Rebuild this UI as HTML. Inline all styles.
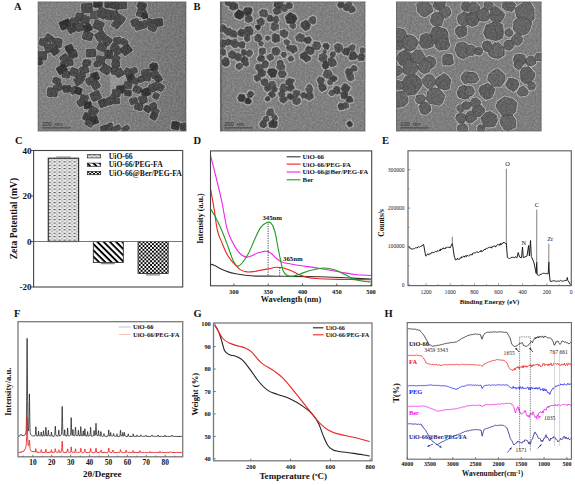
<!DOCTYPE html>
<html><head><meta charset="utf-8"><style>
html,body{margin:0;padding:0;background:#fff;}
body{width:575px;height:485px;overflow:hidden;}
svg{display:block;font-family:"Liberation Serif",serif;}
</style></head><body>
<svg width="575" height="485" viewBox="0 0 575 485">
<rect width="575" height="485" fill="#fff"/>
<text x="14.0" y="10.3" font-size="10.50" text-anchor="start" font-weight="bold" fill="#111" >A</text>
<text x="193.5" y="10.3" font-size="10.50" text-anchor="start" font-weight="bold" fill="#111" >B</text>
<text x="15.0" y="143.6" font-size="10.50" text-anchor="start" font-weight="bold" fill="#111" >C</text>
<text x="193.5" y="143.6" font-size="10.50" text-anchor="start" font-weight="bold" fill="#111" >D</text>
<text x="382.0" y="143.6" font-size="10.50" text-anchor="start" font-weight="bold" fill="#111" >E</text>
<text x="14.0" y="316.5" font-size="10.50" text-anchor="start" font-weight="bold" fill="#111" >F</text>
<text x="193.5" y="316.8" font-size="10.50" text-anchor="start" font-weight="bold" fill="#111" >G</text>
<text x="384.5" y="316.5" font-size="10.50" text-anchor="start" font-weight="bold" fill="#111" >H</text>
<defs><clipPath id="ca"><rect x="37.9" y="1.7" width="148.3" height="129.6"/></clipPath><clipPath id="cb"><rect x="220" y="1.7" width="145.3" height="129.6"/></clipPath><clipPath id="cc"><rect x="396" y="1.7" width="145.4" height="129.6"/></clipPath><filter id="bl" x="0" y="0" width="1" height="1"><feGaussianBlur stdDeviation="0.45"/></filter><filter id="nz" x="0" y="0" width="1" height="1" color-interpolation-filters="sRGB"><feTurbulence type="fractalNoise" baseFrequency="0.55" numOctaves="2" seed="3"/><feColorMatrix type="matrix" values="1 0 0 0 0  1 0 0 0 0  1 0 0 0 0  0 0 0 0 0.2"/></filter></defs>
<g clip-path="url(#ca)"><g filter="url(#bl)">
<linearGradient id="ga" x1="0" y1="0" x2="1" y2="0"><stop offset="0" stop-color="#828282"/><stop offset="0.5" stop-color="#7e7e7e"/><stop offset="1" stop-color="#727272"/></linearGradient>
<rect x="37.9" y="1.7" width="148.3" height="129.6" fill="url(#ga)"/>
<path d="M110 74 L128 77 L121 85 L110 95 Z" fill="#9a9a9a"/>
<g fill="#b6b6b6"><rect x="80.5" y="2.4" width="13.0" height="11.5" rx="1.8" transform="rotate(-3 87.0 8.2)"/><rect x="92.4" y="-0.4" width="11.0" height="9.1" rx="1.8" transform="rotate(4 97.9 4.1)"/><rect x="96.0" y="6.9" width="12.0" height="12.0" rx="1.8" transform="rotate(30 102.0 12.9)"/><rect x="89.5" y="10.0" width="10.0" height="10.0" rx="1.8" transform="rotate(-2 94.5 15.0)"/><rect x="103.7" y="-1.0" width="10.0" height="10.0" rx="1.8" transform="rotate(1 108.7 4.0)"/><rect x="104.4" y="9.0" width="10.0" height="12.0" rx="1.8" transform="rotate(6 109.4 15.0)"/><rect x="58.7" y="19.0" width="13.0" height="11.0" rx="1.8" transform="rotate(-22 65.2 24.5)"/><rect x="69.2" y="16.8" width="11.0" height="10.0" rx="1.8" transform="rotate(1 74.7 21.8)"/><rect x="74.5" y="12.0" width="10.0" height="10.0" rx="1.8" transform="rotate(9 79.5 17.0)"/><rect x="80.6" y="14.7" width="10.0" height="10.0" rx="1.8" transform="rotate(21 85.6 19.7)"/><rect x="66.5" y="23.6" width="11.0" height="10.0" rx="1.8" transform="rotate(-28 72.0 28.6)"/><rect x="75.2" y="22.2" width="10.0" height="10.0" rx="1.8" transform="rotate(-14 80.2 27.2)"/><rect x="82.7" y="22.9" width="10.0" height="10.0" rx="1.8" transform="rotate(-29 87.7 27.9)"/><rect x="92.5" y="19.7" width="12.0" height="11.0" rx="1.8" transform="rotate(22 98.5 25.2)"/><rect x="81.7" y="31.0" width="12.0" height="10.0" rx="1.8" transform="rotate(14 87.7 36.0)"/><rect x="94.6" y="30.5" width="12.0" height="11.0" rx="1.8" transform="rotate(-32 100.6 36.0)"/><rect x="102.4" y="35.8" width="10.0" height="10.0" rx="1.8" transform="rotate(34 107.4 40.8)"/><rect x="43.9" y="33.6" width="10.0" height="9.1" rx="1.8" transform="rotate(33 48.9 38.1)"/><rect x="38.4" y="37.7" width="10.0" height="9.1" rx="1.8" transform="rotate(11 43.4 42.2)"/><rect x="51.0" y="37.4" width="12.0" height="11.0" rx="1.8" transform="rotate(8 57.0 42.9)"/><rect x="43.9" y="43.3" width="10.0" height="10.0" rx="1.8" transform="rotate(-24 48.9 48.3)"/><rect x="50.0" y="46.5" width="10.0" height="9.1" rx="1.8" transform="rotate(-34 55.0 51.0)"/><rect x="36.6" y="50.3" width="11.0" height="11.0" rx="1.8" transform="rotate(2 42.1 55.8)"/><rect x="35.8" y="56.2" width="7.1" height="10.0" rx="1.8" transform="rotate(-31 39.4 61.2)"/><rect x="64.3" y="43.8" width="10.0" height="9.1" rx="1.8" transform="rotate(-22 69.3 48.3)"/><rect x="67.2" y="49.4" width="11.0" height="10.0" rx="1.8" transform="rotate(-18 72.7 54.4)"/><rect x="59.5" y="53.5" width="10.0" height="10.0" rx="1.8" transform="rotate(-33 64.5 58.5)"/><rect x="64.3" y="58.6" width="10.0" height="8.1" rx="1.8" transform="rotate(-3 69.3 62.6)"/><rect x="85.0" y="48.0" width="12.0" height="10.0" rx="1.8" transform="rotate(-4 91.0 53.0)"/><rect x="96.5" y="42.0" width="11.0" height="10.0" rx="1.8" transform="rotate(24 102.0 47.0)"/><rect x="103.7" y="48.9" width="10.0" height="11.0" rx="1.8" transform="rotate(1 108.7 54.4)"/><rect x="95.1" y="55.0" width="11.0" height="10.0" rx="1.8" transform="rotate(10 100.6 60.0)"/><rect x="82.0" y="58.6" width="10.0" height="8.1" rx="1.8" transform="rotate(-0 87.0 62.6)"/><rect x="111.1" y="0.4" width="10.0" height="10.0" rx="1.8" transform="rotate(11 116.1 5.4)"/><rect x="117.9" y="0.9" width="10.0" height="9.1" rx="1.8" transform="rotate(-3 122.9 5.4)"/><rect x="109.7" y="10.0" width="10.0" height="10.0" rx="1.8" transform="rotate(-16 114.7 15.0)"/><rect x="114.7" y="14.0" width="11.0" height="10.0" rx="1.8" transform="rotate(35 120.2 19.0)"/><rect x="111.1" y="20.0" width="10.0" height="9.1" rx="1.8" transform="rotate(35 116.1 24.5)"/><rect x="136.4" y="0.9" width="11.0" height="9.1" rx="1.8" transform="rotate(24 141.9 5.4)"/><rect x="135.8" y="7.9" width="11.0" height="10.0" rx="1.8" transform="rotate(15 141.3 12.9)"/><rect x="140.7" y="11.6" width="8.1" height="8.1" rx="1.8" transform="rotate(-13 144.7 15.6)"/><rect x="130.1" y="17.9" width="10.0" height="9.1" rx="1.8" transform="rotate(-19 135.1 22.4)"/><rect x="133.5" y="20.9" width="10.0" height="10.0" rx="1.8" transform="rotate(-15 138.5 25.9)"/><rect x="139.5" y="20.0" width="9.1" height="9.1" rx="1.8" transform="rotate(-30 144.0 24.5)"/><rect x="145.6" y="17.8" width="9.1" height="8.1" rx="1.8" transform="rotate(19 150.1 21.8)"/><rect x="152.8" y="17.4" width="11.0" height="10.0" rx="1.8" transform="rotate(-7 158.3 22.4)"/><rect x="147.8" y="22.2" width="10.0" height="10.0" rx="1.8" transform="rotate(24 152.8 27.2)"/><rect x="112.4" y="36.3" width="10.0" height="9.1" rx="1.8" transform="rotate(-8 117.4 40.8)"/><rect x="119.7" y="38.2" width="9.1" height="8.1" rx="1.8" transform="rotate(32 124.2 42.2)"/><rect x="109.7" y="43.1" width="10.0" height="9.1" rx="1.8" transform="rotate(24 114.7 47.6)"/><rect x="120.3" y="44.2" width="12.0" height="11.0" rx="1.8" transform="rotate(-35 126.3 49.7)"/><rect x="112.9" y="47.7" width="9.1" height="8.1" rx="1.8" transform="rotate(-20 117.4 51.7)"/><rect x="111.6" y="54.0" width="9.1" height="9.1" rx="1.8" transform="rotate(29 116.1 58.5)"/><rect x="111.6" y="60.0" width="9.1" height="8.1" rx="1.8" transform="rotate(-2 116.1 64.0)"/><rect x="149.7" y="62.4" width="9.1" height="7.1" rx="1.8" transform="rotate(34 154.2 66.0)"/><rect x="59.2" y="60.6" width="11.0" height="7.1" rx="1.8" transform="rotate(-7 64.7 64.2)"/><rect x="55.8" y="64.2" width="12.0" height="10.0" rx="1.8" transform="rotate(-30 61.8 69.2)"/><rect x="61.1" y="69.8" width="10.0" height="9.1" rx="1.8" transform="rotate(9 66.1 74.3)"/><rect x="69.1" y="67.1" width="10.0" height="10.0" rx="1.8" transform="rotate(19 74.1 72.1)"/><rect x="78.7" y="65.4" width="11.0" height="9.1" rx="1.8" transform="rotate(-16 84.2 69.9)"/><rect x="81.1" y="60.3" width="9.1" height="6.1" rx="1.8" transform="rotate(-29 85.6 63.4)"/><rect x="92.7" y="60.6" width="9.1" height="7.1" rx="1.8" transform="rotate(-12 97.2 64.2)"/><rect x="99.8" y="63.7" width="12.0" height="11.0" rx="1.8" transform="rotate(32 105.8 69.2)"/><rect x="76.3" y="71.9" width="10.0" height="9.1" rx="1.8" transform="rotate(18 81.3 76.4)"/><rect x="73.4" y="75.8" width="10.0" height="10.0" rx="1.8" transform="rotate(-27 78.4 80.8)"/><rect x="90.0" y="71.4" width="10.0" height="10.0" rx="1.8" transform="rotate(-18 95.0 76.4)"/><rect x="85.0" y="76.3" width="10.0" height="9.1" rx="1.8" transform="rotate(-28 90.0 80.8)"/><rect x="90.7" y="80.1" width="10.0" height="10.0" rx="1.8" transform="rotate(-31 95.7 85.1)"/><rect x="51.8" y="76.8" width="10.0" height="8.1" rx="1.8" transform="rotate(21 56.8 80.8)"/><rect x="52.7" y="82.8" width="11.0" height="9.1" rx="1.8" transform="rotate(-23 58.2 87.3)"/><rect x="46.4" y="86.8" width="12.0" height="11.0" rx="1.8" transform="rotate(4 52.4 92.3)"/><rect x="61.9" y="84.2" width="10.0" height="9.1" rx="1.8" transform="rotate(-4 66.9 88.7)"/><rect x="69.1" y="85.6" width="10.0" height="9.1" rx="1.8" transform="rotate(-22 74.1 90.1)"/><rect x="73.9" y="86.4" width="9.1" height="9.1" rx="1.8" transform="rotate(16 78.4 90.9)"/><rect x="89.7" y="90.4" width="12.0" height="11.0" rx="1.8" transform="rotate(-26 95.7 95.9)"/><rect x="79.2" y="93.8" width="10.0" height="10.0" rx="1.8" transform="rotate(10 84.2 98.8)"/><rect x="76.3" y="97.9" width="10.0" height="9.1" rx="1.8" transform="rotate(-27 81.3 102.4)"/><rect x="82.8" y="100.8" width="10.0" height="9.1" rx="1.8" transform="rotate(-6 87.8 105.3)"/><rect x="97.9" y="98.1" width="10.0" height="10.0" rx="1.8" transform="rotate(-20 102.9 103.1)"/><rect x="105.9" y="96.0" width="7.1" height="10.0" rx="1.8" transform="rotate(-16 109.4 101.0)"/><rect x="88.1" y="106.1" width="11.0" height="10.0" rx="1.8" transform="rotate(33 93.6 111.1)"/><rect x="82.1" y="111.8" width="10.0" height="10.0" rx="1.8" transform="rotate(21 87.1 116.8)"/><rect x="88.1" y="115.4" width="11.0" height="10.0" rx="1.8" transform="rotate(-14 93.6 120.4)"/><rect x="84.2" y="119.3" width="10.0" height="8.1" rx="1.8" transform="rotate(27 89.2 123.3)"/><rect x="99.4" y="124.4" width="10.0" height="8.1" rx="1.8" transform="rotate(-20 104.4 128.4)"/><rect x="106.7" y="121.9" width="7.1" height="10.0" rx="1.8" transform="rotate(-7 110.2 126.9)"/><rect x="110.6" y="60.2" width="10.0" height="8.1" rx="1.8" transform="rotate(25 115.6 64.2)"/><rect x="110.4" y="65.7" width="9.1" height="10.0" rx="1.8" transform="rotate(10 114.9 70.7)"/><rect x="114.2" y="67.8" width="10.0" height="10.0" rx="1.8" transform="rotate(-28 119.2 72.8)"/><rect x="122.9" y="67.6" width="10.0" height="9.1" rx="1.8" transform="rotate(34 127.9 72.1)"/><rect x="129.1" y="66.7" width="9.1" height="8.1" rx="1.8" transform="rotate(-20 133.6 70.7)"/><rect x="125.8" y="72.9" width="10.0" height="10.0" rx="1.8" transform="rotate(-17 130.8 77.9)"/><rect x="130.6" y="76.8" width="9.1" height="8.1" rx="1.8" transform="rotate(19 135.1 80.8)"/><rect x="140.4" y="68.3" width="11.0" height="9.1" rx="1.8" transform="rotate(-12 145.9 72.8)"/><rect x="148.8" y="62.5" width="10.0" height="9.1" rx="1.8" transform="rotate(-14 153.8 67.0)"/><rect x="149.6" y="69.8" width="10.0" height="9.1" rx="1.8" transform="rotate(-30 154.6 74.3)"/><rect x="153.7" y="74.1" width="9.1" height="9.1" rx="1.8" transform="rotate(-29 158.2 78.6)"/><rect x="141.6" y="73.9" width="10.0" height="8.1" rx="1.8" transform="rotate(6 146.6 77.9)"/><rect x="136.9" y="75.3" width="8.1" height="8.1" rx="1.8" transform="rotate(-18 140.9 79.3)"/><rect x="122.9" y="80.6" width="10.0" height="9.1" rx="1.8" transform="rotate(7 127.9 85.1)"/><rect x="115.7" y="84.4" width="10.0" height="10.0" rx="1.8" transform="rotate(-9 120.7 89.4)"/><rect x="111.3" y="88.0" width="10.0" height="10.0" rx="1.8" transform="rotate(-3 116.3 93.0)"/><rect x="108.7" y="93.1" width="8.1" height="10.0" rx="1.8" transform="rotate(32 112.7 98.1)"/><rect x="111.8" y="97.0" width="9.1" height="8.1" rx="1.8" transform="rotate(-1 116.3 101.0)"/><rect x="123.4" y="89.0" width="9.1" height="8.1" rx="1.8" transform="rotate(5 127.9 93.0)"/><rect x="132.3" y="84.9" width="10.0" height="9.1" rx="1.8" transform="rotate(26 137.3 89.4)"/><rect x="140.4" y="87.3" width="11.0" height="10.0" rx="1.8" transform="rotate(-22 145.9 92.3)"/><rect x="148.3" y="82.3" width="11.0" height="10.0" rx="1.8" transform="rotate(-24 153.8 87.3)"/><rect x="155.8" y="82.8" width="9.1" height="9.1" rx="1.8" transform="rotate(29 160.3 87.3)"/><rect x="152.0" y="91.9" width="8.1" height="8.1" rx="1.8" transform="rotate(22 156.0 95.9)"/><rect x="128.6" y="97.0" width="10.0" height="8.1" rx="1.8" transform="rotate(-18 133.6 101.0)"/><rect x="138.0" y="94.5" width="10.0" height="10.0" rx="1.8" transform="rotate(-22 143.0 99.5)"/><rect x="133.7" y="102.2" width="10.0" height="9.1" rx="1.8" transform="rotate(17 138.7 106.7)"/><rect x="142.9" y="104.9" width="9.1" height="8.1" rx="1.8" transform="rotate(31 147.4 108.9)"/><rect x="148.6" y="102.0" width="9.1" height="8.1" rx="1.8" transform="rotate(-21 153.1 106.0)"/><rect x="150.8" y="107.1" width="9.1" height="8.1" rx="1.8" transform="rotate(32 155.3 111.1)"/><rect x="149.3" y="111.6" width="9.1" height="9.1" rx="1.8" transform="rotate(27 153.8 116.1)"/><rect x="170.5" y="120.5" width="10.0" height="10.0" rx="1.8" transform="rotate(7 175.5 125.5)"/><rect x="179.4" y="121.9" width="8.1" height="10.0" rx="1.8" transform="rotate(-5 183.4 126.9)"/><rect x="110.8" y="124.9" width="11.0" height="7.1" rx="1.8" transform="rotate(-28 116.3 128.4)"/><rect x="120.7" y="125.1" width="10.0" height="7.1" rx="1.8" transform="rotate(-32 125.7 128.7)"/><rect x="36.6" y="60.8" width="4.2" height="5.1" rx="1.8" transform="rotate(32 38.7 63.4)"/></g>
<rect x="81.6" y="3.5" width="10.8" height="9.3" rx="1.2" fill="#3e3e3e" stroke="#2a2a2a" stroke-width="0.7" transform="rotate(-3 87.0 8.2)"/><rect x="93.5" y="0.7" width="8.8" height="6.9" rx="1.2" fill="#202020" stroke="#2a2a2a" stroke-width="0.7" transform="rotate(4 97.9 4.1)"/><rect x="97.1" y="8.0" width="9.8" height="9.8" rx="1.2" fill="#3e3e3e" stroke="#2a2a2a" stroke-width="0.7" transform="rotate(30 102.0 12.9)"/><rect x="90.6" y="11.1" width="7.8" height="7.8" rx="1.2" fill="#4a4a4a" stroke="#2a2a2a" stroke-width="0.7" transform="rotate(-2 94.5 15.0)"/><rect x="104.8" y="0.1" width="7.8" height="7.8" rx="1.2" fill="#303030" stroke="#2a2a2a" stroke-width="0.7" transform="rotate(1 108.7 4.0)"/><rect x="105.5" y="10.1" width="7.8" height="9.8" rx="1.2" fill="#3e3e3e" stroke="#2a2a2a" stroke-width="0.7" transform="rotate(6 109.4 15.0)"/><rect x="59.8" y="20.1" width="10.8" height="8.8" rx="1.2" fill="#202020" stroke="#2a2a2a" stroke-width="0.7" transform="rotate(-22 65.2 24.5)"/><rect x="70.3" y="17.9" width="8.8" height="7.8" rx="1.2" fill="#3e3e3e" stroke="#2a2a2a" stroke-width="0.7" transform="rotate(1 74.7 21.8)"/><rect x="75.6" y="13.1" width="7.8" height="7.8" rx="1.2" fill="#3e3e3e" stroke="#2a2a2a" stroke-width="0.7" transform="rotate(9 79.5 17.0)"/><rect x="81.7" y="15.8" width="7.8" height="7.8" rx="1.2" fill="#3e3e3e" stroke="#2a2a2a" stroke-width="0.7" transform="rotate(21 85.6 19.7)"/><rect x="67.6" y="24.7" width="8.8" height="7.8" rx="1.2" fill="#303030" stroke="#2a2a2a" stroke-width="0.7" transform="rotate(-28 72.0 28.6)"/><rect x="76.3" y="23.3" width="7.8" height="7.8" rx="1.2" fill="#3e3e3e" stroke="#2a2a2a" stroke-width="0.7" transform="rotate(-14 80.2 27.2)"/><rect x="83.8" y="24.0" width="7.8" height="7.8" rx="1.2" fill="#202020" stroke="#2a2a2a" stroke-width="0.7" transform="rotate(-29 87.7 27.9)"/><rect x="93.6" y="20.8" width="9.8" height="8.8" rx="1.2" fill="#3e3e3e" stroke="#2a2a2a" stroke-width="0.7" transform="rotate(22 98.5 25.2)"/><rect x="82.8" y="32.1" width="9.8" height="7.8" rx="1.2" fill="#3e3e3e" stroke="#2a2a2a" stroke-width="0.7" transform="rotate(14 87.7 36.0)"/><rect x="95.7" y="31.6" width="9.8" height="8.8" rx="1.2" fill="#3e3e3e" stroke="#2a2a2a" stroke-width="0.7" transform="rotate(-32 100.6 36.0)"/><rect x="103.5" y="36.9" width="7.8" height="7.8" rx="1.2" fill="#3e3e3e" stroke="#2a2a2a" stroke-width="0.7" transform="rotate(34 107.4 40.8)"/><rect x="45.0" y="34.7" width="7.8" height="6.9" rx="1.2" fill="#3e3e3e" stroke="#2a2a2a" stroke-width="0.7" transform="rotate(33 48.9 38.1)"/><rect x="39.5" y="38.8" width="7.8" height="6.9" rx="1.2" fill="#3e3e3e" stroke="#2a2a2a" stroke-width="0.7" transform="rotate(11 43.4 42.2)"/><rect x="52.1" y="38.5" width="9.8" height="8.8" rx="1.2" fill="#3e3e3e" stroke="#2a2a2a" stroke-width="0.7" transform="rotate(8 57.0 42.9)"/><rect x="45.0" y="44.4" width="7.8" height="7.8" rx="1.2" fill="#3e3e3e" stroke="#2a2a2a" stroke-width="0.7" transform="rotate(-24 48.9 48.3)"/><rect x="51.1" y="47.6" width="7.8" height="6.9" rx="1.2" fill="#303030" stroke="#2a2a2a" stroke-width="0.7" transform="rotate(-34 55.0 51.0)"/><rect x="37.7" y="51.4" width="8.8" height="8.8" rx="1.2" fill="#3e3e3e" stroke="#2a2a2a" stroke-width="0.7" transform="rotate(2 42.1 55.8)"/><rect x="36.9" y="57.3" width="4.9" height="7.8" rx="1.2" fill="#303030" stroke="#2a2a2a" stroke-width="0.7" transform="rotate(-31 39.4 61.2)"/><rect x="65.4" y="44.9" width="7.8" height="6.9" rx="1.2" fill="#202020" stroke="#2a2a2a" stroke-width="0.7" transform="rotate(-22 69.3 48.3)"/><rect x="68.3" y="50.5" width="8.8" height="7.8" rx="1.2" fill="#303030" stroke="#2a2a2a" stroke-width="0.7" transform="rotate(-18 72.7 54.4)"/><rect x="60.6" y="54.6" width="7.8" height="7.8" rx="1.2" fill="#3e3e3e" stroke="#2a2a2a" stroke-width="0.7" transform="rotate(-33 64.5 58.5)"/><rect x="65.4" y="59.7" width="7.8" height="5.9" rx="1.2" fill="#3e3e3e" stroke="#2a2a2a" stroke-width="0.7" transform="rotate(-3 69.3 62.6)"/><rect x="86.1" y="49.1" width="9.8" height="7.8" rx="1.2" fill="#3e3e3e" stroke="#2a2a2a" stroke-width="0.7" transform="rotate(-4 91.0 53.0)"/><rect x="97.6" y="43.1" width="8.8" height="7.8" rx="1.2" fill="#3e3e3e" stroke="#2a2a2a" stroke-width="0.7" transform="rotate(24 102.0 47.0)"/><rect x="104.8" y="50.0" width="7.8" height="8.8" rx="1.2" fill="#303030" stroke="#2a2a2a" stroke-width="0.7" transform="rotate(1 108.7 54.4)"/><rect x="96.2" y="56.1" width="8.8" height="7.8" rx="1.2" fill="#3e3e3e" stroke="#2a2a2a" stroke-width="0.7" transform="rotate(10 100.6 60.0)"/><rect x="83.1" y="59.7" width="7.8" height="5.9" rx="1.2" fill="#3e3e3e" stroke="#2a2a2a" stroke-width="0.7" transform="rotate(-0 87.0 62.6)"/><rect x="112.2" y="1.5" width="7.8" height="7.8" rx="1.2" fill="#303030" stroke="#2a2a2a" stroke-width="0.7" transform="rotate(11 116.1 5.4)"/><rect x="119.0" y="2.0" width="7.8" height="6.9" rx="1.2" fill="#3e3e3e" stroke="#2a2a2a" stroke-width="0.7" transform="rotate(-3 122.9 5.4)"/><rect x="110.8" y="11.1" width="7.8" height="7.8" rx="1.2" fill="#3e3e3e" stroke="#2a2a2a" stroke-width="0.7" transform="rotate(-16 114.7 15.0)"/><rect x="115.8" y="15.1" width="8.8" height="7.8" rx="1.2" fill="#3e3e3e" stroke="#2a2a2a" stroke-width="0.7" transform="rotate(35 120.2 19.0)"/><rect x="112.2" y="21.1" width="7.8" height="6.9" rx="1.2" fill="#3e3e3e" stroke="#2a2a2a" stroke-width="0.7" transform="rotate(35 116.1 24.5)"/><rect x="137.5" y="2.0" width="8.8" height="6.9" rx="1.2" fill="#303030" stroke="#2a2a2a" stroke-width="0.7" transform="rotate(24 141.9 5.4)"/><rect x="136.9" y="9.0" width="8.8" height="7.8" rx="1.2" fill="#3e3e3e" stroke="#2a2a2a" stroke-width="0.7" transform="rotate(15 141.3 12.9)"/><rect x="141.8" y="12.7" width="5.9" height="5.9" rx="1.2" fill="#202020" stroke="#2a2a2a" stroke-width="0.7" transform="rotate(-13 144.7 15.6)"/><rect x="131.2" y="19.0" width="7.8" height="6.9" rx="1.2" fill="#3e3e3e" stroke="#2a2a2a" stroke-width="0.7" transform="rotate(-19 135.1 22.4)"/><rect x="134.6" y="22.0" width="7.8" height="7.8" rx="1.2" fill="#3e3e3e" stroke="#2a2a2a" stroke-width="0.7" transform="rotate(-15 138.5 25.9)"/><rect x="140.6" y="21.1" width="6.9" height="6.9" rx="1.2" fill="#3e3e3e" stroke="#2a2a2a" stroke-width="0.7" transform="rotate(-30 144.0 24.5)"/><rect x="146.7" y="18.9" width="6.9" height="5.9" rx="1.2" fill="#3e3e3e" stroke="#2a2a2a" stroke-width="0.7" transform="rotate(19 150.1 21.8)"/><rect x="153.9" y="18.5" width="8.8" height="7.8" rx="1.2" fill="#303030" stroke="#2a2a2a" stroke-width="0.7" transform="rotate(-7 158.3 22.4)"/><rect x="148.9" y="23.3" width="7.8" height="7.8" rx="1.2" fill="#3e3e3e" stroke="#2a2a2a" stroke-width="0.7" transform="rotate(24 152.8 27.2)"/><rect x="113.5" y="37.4" width="7.8" height="6.9" rx="1.2" fill="#3e3e3e" stroke="#2a2a2a" stroke-width="0.7" transform="rotate(-8 117.4 40.8)"/><rect x="120.8" y="39.3" width="6.9" height="5.9" rx="1.2" fill="#3e3e3e" stroke="#2a2a2a" stroke-width="0.7" transform="rotate(32 124.2 42.2)"/><rect x="110.8" y="44.2" width="7.8" height="6.9" rx="1.2" fill="#3e3e3e" stroke="#2a2a2a" stroke-width="0.7" transform="rotate(24 114.7 47.6)"/><rect x="121.4" y="45.3" width="9.8" height="8.8" rx="1.2" fill="#303030" stroke="#2a2a2a" stroke-width="0.7" transform="rotate(-35 126.3 49.7)"/><rect x="114.0" y="48.8" width="6.9" height="5.9" rx="1.2" fill="#3e3e3e" stroke="#2a2a2a" stroke-width="0.7" transform="rotate(-20 117.4 51.7)"/><rect x="112.7" y="55.1" width="6.9" height="6.9" rx="1.2" fill="#3e3e3e" stroke="#2a2a2a" stroke-width="0.7" transform="rotate(29 116.1 58.5)"/><rect x="112.7" y="61.1" width="6.9" height="5.9" rx="1.2" fill="#3e3e3e" stroke="#2a2a2a" stroke-width="0.7" transform="rotate(-2 116.1 64.0)"/><rect x="150.8" y="63.5" width="6.9" height="4.9" rx="1.2" fill="#303030" stroke="#2a2a2a" stroke-width="0.7" transform="rotate(34 154.2 66.0)"/><rect x="60.3" y="61.8" width="8.8" height="4.9" rx="1.2" fill="#3e3e3e" stroke="#2a2a2a" stroke-width="0.7" transform="rotate(-7 64.7 64.2)"/><rect x="56.9" y="65.3" width="9.8" height="7.8" rx="1.2" fill="#202020" stroke="#2a2a2a" stroke-width="0.7" transform="rotate(-30 61.8 69.2)"/><rect x="62.2" y="70.9" width="7.8" height="6.9" rx="1.2" fill="#3e3e3e" stroke="#2a2a2a" stroke-width="0.7" transform="rotate(9 66.1 74.3)"/><rect x="70.2" y="68.2" width="7.8" height="7.8" rx="1.2" fill="#3e3e3e" stroke="#2a2a2a" stroke-width="0.7" transform="rotate(19 74.1 72.1)"/><rect x="79.8" y="66.5" width="8.8" height="6.9" rx="1.2" fill="#3e3e3e" stroke="#2a2a2a" stroke-width="0.7" transform="rotate(-16 84.2 69.9)"/><rect x="82.2" y="61.4" width="6.9" height="3.9" rx="1.2" fill="#3e3e3e" stroke="#2a2a2a" stroke-width="0.7" transform="rotate(-29 85.6 63.4)"/><rect x="93.8" y="61.8" width="6.9" height="4.9" rx="1.2" fill="#3e3e3e" stroke="#2a2a2a" stroke-width="0.7" transform="rotate(-12 97.2 64.2)"/><rect x="100.9" y="64.8" width="9.8" height="8.8" rx="1.2" fill="#3e3e3e" stroke="#2a2a2a" stroke-width="0.7" transform="rotate(32 105.8 69.2)"/><rect x="77.4" y="73.0" width="7.8" height="6.9" rx="1.2" fill="#3e3e3e" stroke="#2a2a2a" stroke-width="0.7" transform="rotate(18 81.3 76.4)"/><rect x="74.5" y="76.9" width="7.8" height="7.8" rx="1.2" fill="#3e3e3e" stroke="#2a2a2a" stroke-width="0.7" transform="rotate(-27 78.4 80.8)"/><rect x="91.1" y="72.5" width="7.8" height="7.8" rx="1.2" fill="#202020" stroke="#2a2a2a" stroke-width="0.7" transform="rotate(-18 95.0 76.4)"/><rect x="86.1" y="77.4" width="7.8" height="6.9" rx="1.2" fill="#3e3e3e" stroke="#2a2a2a" stroke-width="0.7" transform="rotate(-28 90.0 80.8)"/><rect x="91.8" y="81.2" width="7.8" height="7.8" rx="1.2" fill="#3e3e3e" stroke="#2a2a2a" stroke-width="0.7" transform="rotate(-31 95.7 85.1)"/><rect x="52.9" y="77.9" width="7.8" height="5.9" rx="1.2" fill="#3e3e3e" stroke="#2a2a2a" stroke-width="0.7" transform="rotate(21 56.8 80.8)"/><rect x="53.8" y="83.9" width="8.8" height="6.9" rx="1.2" fill="#3e3e3e" stroke="#2a2a2a" stroke-width="0.7" transform="rotate(-23 58.2 87.3)"/><rect x="47.5" y="87.9" width="9.8" height="8.8" rx="1.2" fill="#3e3e3e" stroke="#2a2a2a" stroke-width="0.7" transform="rotate(4 52.4 92.3)"/><rect x="63.0" y="85.3" width="7.8" height="6.9" rx="1.2" fill="#303030" stroke="#2a2a2a" stroke-width="0.7" transform="rotate(-4 66.9 88.7)"/><rect x="70.2" y="86.7" width="7.8" height="6.9" rx="1.2" fill="#3e3e3e" stroke="#2a2a2a" stroke-width="0.7" transform="rotate(-22 74.1 90.1)"/><rect x="75.0" y="87.5" width="6.9" height="6.9" rx="1.2" fill="#202020" stroke="#2a2a2a" stroke-width="0.7" transform="rotate(16 78.4 90.9)"/><rect x="90.8" y="91.5" width="9.8" height="8.8" rx="1.2" fill="#3e3e3e" stroke="#2a2a2a" stroke-width="0.7" transform="rotate(-26 95.7 95.9)"/><rect x="80.3" y="94.9" width="7.8" height="7.8" rx="1.2" fill="#3e3e3e" stroke="#2a2a2a" stroke-width="0.7" transform="rotate(10 84.2 98.8)"/><rect x="77.4" y="99.0" width="7.8" height="6.9" rx="1.2" fill="#3e3e3e" stroke="#2a2a2a" stroke-width="0.7" transform="rotate(-27 81.3 102.4)"/><rect x="83.9" y="101.9" width="7.8" height="6.9" rx="1.2" fill="#202020" stroke="#2a2a2a" stroke-width="0.7" transform="rotate(-6 87.8 105.3)"/><rect x="99.0" y="99.2" width="7.8" height="7.8" rx="1.2" fill="#303030" stroke="#2a2a2a" stroke-width="0.7" transform="rotate(-20 102.9 103.1)"/><rect x="107.0" y="97.1" width="4.9" height="7.8" rx="1.2" fill="#3e3e3e" stroke="#2a2a2a" stroke-width="0.7" transform="rotate(-16 109.4 101.0)"/><rect x="89.2" y="107.2" width="8.8" height="7.8" rx="1.2" fill="#3e3e3e" stroke="#2a2a2a" stroke-width="0.7" transform="rotate(33 93.6 111.1)"/><rect x="83.2" y="112.9" width="7.8" height="7.8" rx="1.2" fill="#303030" stroke="#2a2a2a" stroke-width="0.7" transform="rotate(21 87.1 116.8)"/><rect x="89.2" y="116.5" width="8.8" height="7.8" rx="1.2" fill="#202020" stroke="#2a2a2a" stroke-width="0.7" transform="rotate(-14 93.6 120.4)"/><rect x="85.3" y="120.4" width="7.8" height="5.9" rx="1.2" fill="#3e3e3e" stroke="#2a2a2a" stroke-width="0.7" transform="rotate(27 89.2 123.3)"/><rect x="100.5" y="125.5" width="7.8" height="5.9" rx="1.2" fill="#303030" stroke="#2a2a2a" stroke-width="0.7" transform="rotate(-20 104.4 128.4)"/><rect x="107.8" y="123.0" width="4.9" height="7.8" rx="1.2" fill="#3e3e3e" stroke="#2a2a2a" stroke-width="0.7" transform="rotate(-7 110.2 126.9)"/><rect x="111.7" y="61.3" width="7.8" height="5.9" rx="1.2" fill="#3e3e3e" stroke="#2a2a2a" stroke-width="0.7" transform="rotate(25 115.6 64.2)"/><rect x="111.5" y="66.8" width="6.9" height="7.8" rx="1.2" fill="#3e3e3e" stroke="#2a2a2a" stroke-width="0.7" transform="rotate(10 114.9 70.7)"/><rect x="115.3" y="68.9" width="7.8" height="7.8" rx="1.2" fill="#3e3e3e" stroke="#2a2a2a" stroke-width="0.7" transform="rotate(-28 119.2 72.8)"/><rect x="124.0" y="68.7" width="7.8" height="6.9" rx="1.2" fill="#3e3e3e" stroke="#2a2a2a" stroke-width="0.7" transform="rotate(34 127.9 72.1)"/><rect x="130.2" y="67.8" width="6.9" height="5.9" rx="1.2" fill="#3e3e3e" stroke="#2a2a2a" stroke-width="0.7" transform="rotate(-20 133.6 70.7)"/><rect x="126.9" y="74.0" width="7.8" height="7.8" rx="1.2" fill="#202020" stroke="#2a2a2a" stroke-width="0.7" transform="rotate(-17 130.8 77.9)"/><rect x="131.7" y="77.9" width="6.9" height="5.9" rx="1.2" fill="#3e3e3e" stroke="#2a2a2a" stroke-width="0.7" transform="rotate(19 135.1 80.8)"/><rect x="141.5" y="69.4" width="8.8" height="6.9" rx="1.2" fill="#3e3e3e" stroke="#2a2a2a" stroke-width="0.7" transform="rotate(-12 145.9 72.8)"/><rect x="149.9" y="63.6" width="7.8" height="6.9" rx="1.2" fill="#202020" stroke="#2a2a2a" stroke-width="0.7" transform="rotate(-14 153.8 67.0)"/><rect x="150.7" y="70.9" width="7.8" height="6.9" rx="1.2" fill="#3e3e3e" stroke="#2a2a2a" stroke-width="0.7" transform="rotate(-30 154.6 74.3)"/><rect x="154.8" y="75.2" width="6.9" height="6.9" rx="1.2" fill="#303030" stroke="#2a2a2a" stroke-width="0.7" transform="rotate(-29 158.2 78.6)"/><rect x="142.7" y="75.0" width="7.8" height="5.9" rx="1.2" fill="#3e3e3e" stroke="#2a2a2a" stroke-width="0.7" transform="rotate(6 146.6 77.9)"/><rect x="138.0" y="76.4" width="5.9" height="5.9" rx="1.2" fill="#3e3e3e" stroke="#2a2a2a" stroke-width="0.7" transform="rotate(-18 140.9 79.3)"/><rect x="124.0" y="81.7" width="7.8" height="6.9" rx="1.2" fill="#3e3e3e" stroke="#2a2a2a" stroke-width="0.7" transform="rotate(7 127.9 85.1)"/><rect x="116.8" y="85.5" width="7.8" height="7.8" rx="1.2" fill="#202020" stroke="#2a2a2a" stroke-width="0.7" transform="rotate(-9 120.7 89.4)"/><rect x="112.4" y="89.1" width="7.8" height="7.8" rx="1.2" fill="#3e3e3e" stroke="#2a2a2a" stroke-width="0.7" transform="rotate(-3 116.3 93.0)"/><rect x="109.8" y="94.2" width="5.9" height="7.8" rx="1.2" fill="#3e3e3e" stroke="#2a2a2a" stroke-width="0.7" transform="rotate(32 112.7 98.1)"/><rect x="112.9" y="98.1" width="6.9" height="5.9" rx="1.2" fill="#3e3e3e" stroke="#2a2a2a" stroke-width="0.7" transform="rotate(-1 116.3 101.0)"/><rect x="124.5" y="90.1" width="6.9" height="5.9" rx="1.2" fill="#303030" stroke="#2a2a2a" stroke-width="0.7" transform="rotate(5 127.9 93.0)"/><rect x="133.4" y="86.0" width="7.8" height="6.9" rx="1.2" fill="#3e3e3e" stroke="#2a2a2a" stroke-width="0.7" transform="rotate(26 137.3 89.4)"/><rect x="141.5" y="88.4" width="8.8" height="7.8" rx="1.2" fill="#202020" stroke="#2a2a2a" stroke-width="0.7" transform="rotate(-22 145.9 92.3)"/><rect x="149.4" y="83.4" width="8.8" height="7.8" rx="1.2" fill="#3e3e3e" stroke="#2a2a2a" stroke-width="0.7" transform="rotate(-24 153.8 87.3)"/><rect x="156.9" y="83.9" width="6.9" height="6.9" rx="1.2" fill="#3e3e3e" stroke="#2a2a2a" stroke-width="0.7" transform="rotate(29 160.3 87.3)"/><rect x="153.1" y="93.0" width="5.9" height="5.9" rx="1.2" fill="#3e3e3e" stroke="#2a2a2a" stroke-width="0.7" transform="rotate(22 156.0 95.9)"/><rect x="129.7" y="98.1" width="7.8" height="5.9" rx="1.2" fill="#3e3e3e" stroke="#2a2a2a" stroke-width="0.7" transform="rotate(-18 133.6 101.0)"/><rect x="139.1" y="95.6" width="7.8" height="7.8" rx="1.2" fill="#3e3e3e" stroke="#2a2a2a" stroke-width="0.7" transform="rotate(-22 143.0 99.5)"/><rect x="134.8" y="103.3" width="7.8" height="6.9" rx="1.2" fill="#3e3e3e" stroke="#2a2a2a" stroke-width="0.7" transform="rotate(17 138.7 106.7)"/><rect x="144.0" y="106.0" width="6.9" height="5.9" rx="1.2" fill="#303030" stroke="#2a2a2a" stroke-width="0.7" transform="rotate(31 147.4 108.9)"/><rect x="149.7" y="103.1" width="6.9" height="5.9" rx="1.2" fill="#3e3e3e" stroke="#2a2a2a" stroke-width="0.7" transform="rotate(-21 153.1 106.0)"/><rect x="151.9" y="108.2" width="6.9" height="5.9" rx="1.2" fill="#3e3e3e" stroke="#2a2a2a" stroke-width="0.7" transform="rotate(32 155.3 111.1)"/><rect x="150.4" y="112.7" width="6.9" height="6.9" rx="1.2" fill="#303030" stroke="#2a2a2a" stroke-width="0.7" transform="rotate(27 153.8 116.1)"/><rect x="171.6" y="121.6" width="7.8" height="7.8" rx="1.2" fill="#202020" stroke="#2a2a2a" stroke-width="0.7" transform="rotate(7 175.5 125.5)"/><rect x="180.5" y="123.0" width="5.9" height="7.8" rx="1.2" fill="#303030" stroke="#2a2a2a" stroke-width="0.7" transform="rotate(-5 183.4 126.9)"/><rect x="111.9" y="126.0" width="8.8" height="4.9" rx="1.2" fill="#3e3e3e" stroke="#2a2a2a" stroke-width="0.7" transform="rotate(-28 116.3 128.4)"/><rect x="121.8" y="126.2" width="7.8" height="4.9" rx="1.2" fill="#3e3e3e" stroke="#2a2a2a" stroke-width="0.7" transform="rotate(-32 125.7 128.7)"/><rect x="37.7" y="61.9" width="2.0" height="2.9" rx="1.2" fill="#202020" stroke="#2a2a2a" stroke-width="0.7" transform="rotate(32 38.7 63.4)"/>
</g></g>
<rect x="37.9" y="1.7" width="148.3" height="129.6" filter="url(#nz)"/>
<g clip-path="url(#cb)"><g filter="url(#bl)">
<rect x="220" y="1.7" width="145.3" height="129.6" fill="#808080"/>
<g fill="none" stroke="#bababa" stroke-width="2.8" stroke-linejoin="round"><path d="M233.0 1.5 L237.9 4.3 L238.1 8.4 L232.9 10.4 L229.6 8.8 L229.9 4.0Z"/><path d="M230.8 0.7 L231.5 4.1 L228.9 6.0 L225.1 4.7 L224.9 1.5 L229.0 -1.2Z"/><path d="M238.5 9.4 L243.8 11.9 L243.8 17.0 L240.1 19.6 L235.1 17.6 L234.2 14.0Z"/><path d="M252.5 10.6 L249.9 16.2 L245.0 15.5 L242.9 10.9 L245.1 7.6 L251.2 7.8Z"/><path d="M252.1 16.8 L252.5 21.0 L248.2 22.8 L245.4 21.2 L245.1 17.2 L249.1 15.1Z"/><path d="M261.9 9.3 L266.7 10.1 L268.0 14.4 L265.8 17.2 L260.2 16.2 L259.0 12.1Z"/><path d="M261.7 25.7 L257.3 23.3 L256.7 20.1 L261.4 17.7 L264.7 20.6 L264.0 24.1Z"/><path d="M259.4 24.6 L260.9 26.2 L259.5 29.8 L257.6 30.2 L255.3 27.2 L255.4 25.2Z"/><path d="M273.4 20.9 L269.2 21.7 L266.8 19.6 L267.7 15.6 L271.3 15.0 L273.8 17.8Z"/><path d="M279.3 20.4 L277.3 22.7 L274.2 22.0 L272.7 18.3 L275.6 15.7 L277.8 16.4Z"/><path d="M278.6 29.0 L273.3 31.0 L270.7 28.8 L271.7 23.2 L276.0 21.9 L278.5 25.3Z"/><path d="M278.3 9.5 L273.6 6.0 L275.0 0.5 L280.2 -1.3 L283.3 1.0 L282.0 7.5Z"/><path d="M277.7 14.6 L274.3 14.1 L272.9 10.1 L275.6 7.2 L280.3 8.7 L281.3 12.5Z"/><path d="M287.2 10.7 L283.8 12.2 L279.5 8.4 L280.6 5.6 L284.0 4.0 L287.5 6.3Z"/><path d="M289.8 2.1 L292.7 4.6 L291.9 7.8 L289.4 9.2 L286.7 7.3 L286.5 3.1Z"/><path d="M290.0 12.3 L295.4 14.9 L297.3 18.5 L294.1 24.3 L286.8 23.2 L285.0 16.6Z"/><path d="M221.5 24.3 L225.0 25.3 L226.8 28.0 L225.1 32.0 L220.8 32.0 L218.7 29.5Z"/><path d="M232.2 30.5 L230.5 34.9 L226.8 35.4 L224.4 33.0 L225.1 28.0 L230.2 27.9Z"/><path d="M229.1 34.7 L232.0 29.9 L235.4 30.7 L237.4 33.8 L236.4 37.4 L231.1 36.9Z"/><path d="M242.0 36.7 L238.7 35.6 L237.5 31.9 L240.4 28.8 L244.5 29.9 L245.6 34.3Z"/><path d="M245.7 26.8 L250.4 26.0 L253.4 30.3 L252.6 34.6 L246.9 35.8 L243.3 31.3Z"/><path d="M249.9 35.8 L249.9 40.2 L246.6 42.0 L244.8 40.6 L244.2 36.3 L246.1 34.4Z"/><path d="M254.5 36.7 L257.3 33.8 L260.5 34.6 L262.4 39.0 L259.5 42.2 L255.0 40.7Z"/><path d="M262.5 41.6 L263.6 42.9 L262.2 46.1 L259.7 45.7 L258.5 44.1 L259.3 41.7Z"/><path d="M270.3 39.1 L267.5 40.8 L265.5 39.4 L265.6 36.6 L268.0 35.8 L270.3 37.2Z"/><path d="M272.3 40.9 L272.2 35.1 L274.6 33.3 L279.3 35.4 L279.9 41.1 L275.1 43.1Z"/><path d="M280.3 30.7 L285.0 29.6 L288.3 32.5 L287.2 36.5 L283.8 37.9 L279.8 34.4Z"/><path d="M284.4 43.8 L283.8 40.7 L286.8 39.3 L290.1 41.4 L288.7 44.3 L286.9 45.6Z"/><path d="M220.2 47.0 L218.6 43.4 L221.7 39.5 L225.4 40.1 L226.3 44.6 L224.6 47.5Z"/><path d="M224.6 43.5 L225.8 39.9 L228.4 38.7 L231.5 40.7 L231.1 44.4 L227.1 45.4Z"/><path d="M235.8 38.9 L239.3 43.5 L236.9 47.5 L233.5 47.7 L230.3 44.3 L231.0 40.4Z"/><path d="M241.2 48.5 L238.3 46.0 L238.6 42.7 L242.9 41.3 L245.1 43.0 L244.5 47.6Z"/><path d="M222.6 47.9 L225.8 50.6 L225.5 54.6 L223.4 55.7 L219.6 53.6 L220.3 49.4Z"/><path d="M235.5 57.6 L232.7 59.0 L228.6 56.8 L228.5 52.9 L231.9 50.1 L235.7 52.6Z"/><path d="M233.7 58.3 L234.1 54.9 L238.2 52.8 L242.0 55.7 L240.4 60.6 L237.6 61.0Z"/><path d="M244.6 49.6 L246.7 51.2 L246.1 54.7 L242.9 55.7 L241.2 53.8 L241.9 49.7Z"/><path d="M252.8 53.2 L250.4 56.6 L247.3 56.2 L246.0 53.0 L248.6 49.5 L251.9 50.7Z"/><path d="M223.2 64.8 L220.9 61.5 L224.4 57.3 L228.6 58.3 L229.4 62.4 L226.5 65.2Z"/><path d="M241.6 62.6 L240.9 59.4 L243.8 56.0 L246.8 57.2 L248.4 60.0 L246.1 62.8Z"/><path d="M259.2 49.1 L262.4 47.8 L265.2 48.5 L265.6 52.8 L262.6 54.9 L259.2 53.6Z"/><path d="M258.4 61.1 L257.1 58.7 L259.6 54.9 L264.0 56.1 L264.7 59.1 L262.5 61.7Z"/><path d="M268.7 63.1 L268.3 65.4 L265.3 66.6 L262.3 63.9 L263.9 60.9 L266.4 60.6Z"/><path d="M266.7 56.3 L270.6 53.7 L272.7 54.4 L273.8 58.7 L270.0 60.9 L267.5 58.8Z"/><path d="M274.3 55.3 L271.8 52.3 L272.9 48.1 L277.7 47.2 L280.5 51.0 L278.5 55.0Z"/><path d="M282.5 57.1 L281.0 54.0 L282.1 52.1 L285.8 52.3 L286.8 54.8 L285.2 57.7Z"/><path d="M291.9 45.4 L292.7 48.8 L290.5 50.7 L287.2 50.1 L286.4 47.4 L287.7 45.0Z"/><path d="M289.1 61.0 L287.9 57.9 L290.7 55.8 L292.6 56.4 L293.9 59.7 L292.0 61.2Z"/><path d="M283.3 63.0 L281.4 65.3 L278.3 65.4 L276.9 62.2 L278.8 59.9 L282.3 60.6Z"/><path d="M295.9 24.8 L295.3 28.0 L292.3 28.9 L289.5 26.4 L290.7 23.9 L293.6 23.0Z"/><path d="M310.6 24.3 L309.5 28.7 L305.2 30.9 L300.8 26.4 L301.0 22.9 L306.3 19.7Z"/><path d="M308.5 21.6 L309.4 17.9 L313.4 16.1 L315.8 17.7 L315.8 22.8 L313.2 24.5Z"/><path d="M344.8 5.5 L342.2 7.9 L339.5 8.3 L337.4 5.5 L339.0 1.4 L343.1 1.5Z"/><path d="M349.8 7.4 L347.6 11.2 L344.5 10.2 L342.8 7.2 L345.7 3.6 L348.3 4.5Z"/><path d="M350.7 13.1 L348.2 10.4 L349.1 7.3 L353.2 5.7 L355.7 9.5 L354.8 11.6Z"/><path d="M346.3 4.1 L347.4 0.5 L350.8 0.6 L352.0 3.5 L351.1 6.2 L347.5 6.4Z"/><path d="M296.5 40.6 L295.4 37.0 L299.0 33.1 L304.1 35.2 L305.0 39.5 L301.7 42.2Z"/><path d="M310.0 43.1 L307.0 43.8 L303.4 41.1 L304.5 37.9 L309.7 36.6 L311.6 39.8Z"/><path d="M296.5 46.7 L297.4 50.7 L293.2 53.5 L289.4 50.7 L290.2 46.6 L294.2 45.1Z"/><path d="M312.1 45.3 L314.6 41.4 L319.5 42.3 L321.0 46.1 L319.0 49.8 L313.9 49.5Z"/><path d="M305.1 49.2 L307.8 45.8 L313.8 48.0 L314.3 52.3 L311.6 55.0 L306.3 53.1Z"/><path d="M328.4 49.0 L325.2 49.5 L322.5 46.3 L324.2 43.2 L327.5 43.2 L329.6 45.7Z"/><path d="M299.9 54.6 L304.6 51.4 L307.3 53.6 L307.6 57.8 L304.0 59.7 L300.6 58.4Z"/><path d="M304.4 56.0 L307.2 54.7 L310.9 57.6 L310.5 60.1 L306.0 62.3 L303.5 59.9Z"/><path d="M326.8 51.6 L325.8 53.4 L323.5 53.2 L322.7 51.5 L323.9 49.8 L325.9 50.3Z"/><path d="M324.2 53.2 L327.3 55.7 L326.2 61.9 L322.1 62.2 L318.7 59.8 L319.6 54.4Z"/><path d="M328.0 63.6 L328.2 58.6 L331.3 57.1 L335.2 59.7 L335.7 62.3 L330.8 65.5Z"/><path d="M330.9 57.2 L329.9 54.1 L331.6 51.7 L334.8 51.7 L335.7 54.2 L334.0 57.3Z"/><path d="M335.3 51.3 L334.1 45.4 L338.0 43.3 L342.1 45.1 L343.1 49.5 L338.8 53.3Z"/><path d="M341.9 52.0 L344.9 47.8 L348.6 48.0 L350.3 51.2 L348.1 55.4 L344.0 54.7Z"/><path d="M348.8 46.6 L352.6 44.2 L355.3 45.7 L354.5 50.1 L352.4 51.1 L348.1 48.8Z"/><path d="M350.4 60.0 L348.7 57.5 L350.8 51.7 L355.0 51.8 L358.3 56.4 L355.6 59.6Z"/><path d="M365.2 55.7 L363.6 60.5 L359.3 60.9 L357.7 58.2 L359.3 53.9 L362.8 53.4Z"/><path d="M362.7 53.6 L360.2 52.3 L360.1 48.4 L362.0 47.4 L365.7 49.0 L365.7 51.3Z"/><path d="M323.0 65.5 L323.2 62.1 L326.1 60.8 L329.0 63.3 L327.9 66.2 L324.5 66.5Z"/><path d="M225.1 66.7 L221.8 64.0 L222.6 61.8 L226.9 60.0 L229.4 62.9 L228.9 65.3Z"/><path d="M242.4 64.1 L242.9 67.1 L239.1 70.0 L235.9 67.5 L236.2 64.5 L239.8 63.0Z"/><path d="M246.4 66.7 L243.1 64.9 L243.0 62.5 L245.3 60.3 L248.3 61.8 L248.9 64.9Z"/><path d="M255.0 68.3 L256.0 64.8 L260.4 63.9 L263.4 66.9 L262.4 69.6 L258.8 72.1Z"/><path d="M265.1 61.5 L267.8 63.7 L267.6 67.3 L263.8 68.2 L261.4 65.6 L262.7 62.1Z"/><path d="M261.9 77.1 L258.2 74.7 L258.0 71.1 L262.2 68.5 L265.5 71.6 L265.2 75.3Z"/><path d="M275.5 77.0 L271.2 77.7 L267.2 72.5 L268.7 69.0 L273.6 68.3 L277.3 70.7Z"/><path d="M285.1 65.9 L284.4 69.5 L279.2 70.4 L276.3 67.6 L278.4 61.7 L281.6 62.1Z"/><path d="M279.0 71.6 L284.2 70.4 L286.5 74.0 L284.5 77.5 L279.8 77.7 L278.1 74.2Z"/><path d="M257.0 81.7 L254.5 79.8 L254.2 75.9 L257.4 74.3 L260.5 76.3 L260.7 79.6Z"/><path d="M268.1 84.3 L265.4 85.9 L261.8 84.9 L260.6 80.4 L264.9 78.2 L267.8 79.8Z"/><path d="M268.8 88.1 L268.5 83.7 L270.2 81.4 L274.1 81.1 L276.4 85.4 L273.3 88.7Z"/><path d="M264.9 85.9 L268.1 84.7 L270.7 86.2 L270.6 90.3 L267.0 91.6 L264.4 89.6Z"/><path d="M276.9 91.5 L273.3 92.1 L271.5 90.0 L272.7 87.3 L275.7 86.6 L277.4 88.4Z"/><path d="M279.4 89.5 L281.4 84.3 L284.4 83.6 L287.5 87.7 L286.7 91.0 L282.0 92.1Z"/><path d="M292.8 84.3 L290.0 86.2 L285.8 84.4 L285.8 80.5 L289.3 78.1 L292.7 79.6Z"/><path d="M286.9 87.0 L289.8 84.5 L292.7 84.6 L294.6 88.1 L291.4 91.3 L287.7 90.6Z"/><path d="M275.5 95.7 L272.7 97.9 L269.8 96.9 L268.2 93.5 L271.5 91.1 L274.8 92.5Z"/><path d="M279.3 96.5 L278.2 93.4 L280.9 90.6 L284.1 90.7 L285.1 94.9 L283.5 97.0Z"/><path d="M280.3 101.4 L279.4 99.0 L282.2 95.7 L286.9 97.6 L287.4 100.1 L284.0 103.4Z"/><path d="M293.9 95.9 L293.9 98.8 L290.1 99.9 L287.0 97.8 L287.7 94.2 L290.5 93.3Z"/><path d="M266.3 101.2 L264.8 98.9 L266.5 96.7 L268.7 96.5 L270.1 98.6 L269.5 100.8Z"/><path d="M237.6 97.9 L239.7 94.0 L244.2 94.5 L245.9 99.1 L242.9 101.9 L239.0 101.3Z"/><path d="M244.4 102.1 L246.6 98.0 L249.1 97.5 L251.7 101.1 L249.9 104.0 L246.4 104.1Z"/><path d="M252.1 91.3 L254.3 94.3 L251.3 97.7 L247.8 97.0 L246.9 94.6 L249.2 91.2Z"/><path d="M273.1 115.9 L267.1 115.5 L266.2 112.8 L268.6 108.7 L273.0 108.7 L274.0 113.8Z"/><path d="M277.7 118.1 L276.6 120.2 L272.9 120.0 L271.5 117.0 L273.8 114.9 L275.7 114.6Z"/><path d="M265.7 122.2 L262.8 119.6 L263.7 117.0 L267.0 115.8 L268.8 117.6 L269.1 120.7Z"/><path d="M266.0 121.3 L266.8 125.9 L264.1 127.9 L260.5 126.9 L259.4 123.7 L262.4 119.9Z"/><path d="M277.1 126.5 L274.8 128.1 L269.3 127.1 L268.5 122.7 L272.8 119.4 L277.4 121.8Z"/><path d="M325.8 69.4 L323.0 68.2 L321.8 64.9 L324.9 61.9 L328.1 63.9 L328.7 67.4Z"/><path d="M335.9 65.5 L331.0 67.2 L328.8 64.5 L328.7 60.8 L332.3 59.2 L336.8 62.8Z"/><path d="M322.7 74.9 L325.1 69.9 L330.4 70.2 L332.4 74.1 L330.3 78.5 L325.2 77.9Z"/><path d="M334.5 82.1 L330.6 80.7 L330.2 77.5 L333.1 75.2 L336.9 77.0 L337.3 79.2Z"/><path d="M332.0 84.5 L328.8 84.8 L327.3 82.2 L328.8 79.6 L331.3 79.3 L333.0 81.8Z"/><path d="M323.3 77.9 L324.7 80.3 L322.7 84.6 L319.0 84.5 L316.9 79.7 L319.4 76.6Z"/><path d="M326.5 89.0 L321.8 91.7 L319.2 89.4 L318.6 85.0 L322.8 83.5 L325.7 85.2Z"/><path d="M351.8 69.0 L352.8 72.8 L349.9 76.3 L346.4 75.5 L345.0 71.7 L346.9 68.4Z"/><path d="M354.1 79.1 L351.5 81.0 L348.4 80.4 L346.3 76.5 L349.1 73.5 L353.3 74.6Z"/><path d="M357.3 68.1 L356.4 70.9 L352.7 71.2 L350.8 68.2 L352.8 65.4 L355.8 65.9Z"/><path d="M340.3 92.5 L337.8 94.4 L333.4 92.7 L333.5 87.9 L335.7 85.9 L339.5 86.9Z"/><path d="M328.5 93.6 L330.4 90.0 L333.3 90.0 L334.6 93.3 L333.4 95.3 L331.0 95.9Z"/><path d="M346.8 83.9 L350.4 87.7 L347.7 92.5 L343.8 92.9 L340.7 88.7 L343.8 83.4Z"/><path d="M340.7 92.8 L344.0 90.9 L348.0 93.0 L347.5 96.9 L345.3 99.4 L341.2 98.3Z"/><path d="M352.9 101.8 L348.5 102.8 L346.0 101.0 L347.4 96.5 L350.5 96.1 L352.9 98.6Z"/><path d="M345.3 109.0 L342.5 107.0 L342.4 103.9 L345.8 101.7 L348.5 103.9 L349.0 106.9Z"/><path d="M339.3 103.2 L343.0 103.4 L344.7 107.1 L343.4 109.5 L339.5 109.9 L337.8 105.7Z"/><path d="M313.0 89.2 L311.4 92.4 L306.4 91.6 L305.5 88.8 L308.2 84.5 L311.0 84.8Z"/><path d="M312.3 92.5 L313.9 97.5 L309.5 100.4 L304.7 98.1 L304.6 95.2 L308.6 91.4Z"/><path d="M300.3 95.1 L301.6 93.0 L304.5 92.1 L306.5 95.2 L304.8 97.8 L302.4 98.4Z"/><path d="M292.9 95.7 L293.2 91.3 L295.7 89.9 L299.7 91.0 L300.1 94.5 L296.4 98.0Z"/><path d="M300.3 98.8 L300.4 102.9 L296.7 104.9 L293.1 103.5 L292.7 98.4 L295.2 97.1Z"/><path d="M290.5 80.8 L291.9 78.9 L293.8 79.0 L294.6 80.8 L293.3 82.7 L291.2 82.1Z"/><path d="M346.5 123.9 L347.4 122.2 L350.1 120.7 L352.8 123.8 L352.2 125.9 L349.2 127.2Z"/></g>
<path d="M233.0 1.5 L237.9 4.3 L238.1 8.4 L232.9 10.4 L229.6 8.8 L229.9 4.0Z" fill="#393939" stroke="#333" stroke-width="0.5" stroke-linejoin="round"/><path d="M230.8 0.7 L231.5 4.1 L228.9 6.0 L225.1 4.7 L224.9 1.5 L229.0 -1.2Z" fill="#383838" stroke="#333" stroke-width="0.5" stroke-linejoin="round"/><path d="M238.5 9.4 L243.8 11.9 L243.8 17.0 L240.1 19.6 L235.1 17.6 L234.2 14.0Z" fill="#202020" stroke="#333" stroke-width="0.5" stroke-linejoin="round"/><path d="M252.5 10.6 L249.9 16.2 L245.0 15.5 L242.9 10.9 L245.1 7.6 L251.2 7.8Z" fill="#2c2c2c" stroke="#333" stroke-width="0.5" stroke-linejoin="round"/><path d="M252.1 16.8 L252.5 21.0 L248.2 22.8 L245.4 21.2 L245.1 17.2 L249.1 15.1Z" fill="#3f3f3f" stroke="#333" stroke-width="0.5" stroke-linejoin="round"/><path d="M261.9 9.3 L266.7 10.1 L268.0 14.4 L265.8 17.2 L260.2 16.2 L259.0 12.1Z" fill="#494949" stroke="#333" stroke-width="0.5" stroke-linejoin="round"/><path d="M261.7 25.7 L257.3 23.3 L256.7 20.1 L261.4 17.7 L264.7 20.6 L264.0 24.1Z" fill="#414141" stroke="#333" stroke-width="0.5" stroke-linejoin="round"/><path d="M259.4 24.6 L260.9 26.2 L259.5 29.8 L257.6 30.2 L255.3 27.2 L255.4 25.2Z" fill="#202020" stroke="#333" stroke-width="0.5" stroke-linejoin="round"/><path d="M273.4 20.9 L269.2 21.7 L266.8 19.6 L267.7 15.6 L271.3 15.0 L273.8 17.8Z" fill="#373737" stroke="#333" stroke-width="0.5" stroke-linejoin="round"/><path d="M279.3 20.4 L277.3 22.7 L274.2 22.0 L272.7 18.3 L275.6 15.7 L277.8 16.4Z" fill="#454545" stroke="#333" stroke-width="0.5" stroke-linejoin="round"/><path d="M278.6 29.0 L273.3 31.0 L270.7 28.8 L271.7 23.2 L276.0 21.9 L278.5 25.3Z" fill="#464646" stroke="#333" stroke-width="0.5" stroke-linejoin="round"/><path d="M278.3 9.5 L273.6 6.0 L275.0 0.5 L280.2 -1.3 L283.3 1.0 L282.0 7.5Z" fill="#393939" stroke="#333" stroke-width="0.5" stroke-linejoin="round"/><path d="M277.7 14.6 L274.3 14.1 L272.9 10.1 L275.6 7.2 L280.3 8.7 L281.3 12.5Z" fill="#404040" stroke="#333" stroke-width="0.5" stroke-linejoin="round"/><path d="M287.2 10.7 L283.8 12.2 L279.5 8.4 L280.6 5.6 L284.0 4.0 L287.5 6.3Z" fill="#484848" stroke="#333" stroke-width="0.5" stroke-linejoin="round"/><path d="M289.8 2.1 L292.7 4.6 L291.9 7.8 L289.4 9.2 L286.7 7.3 L286.5 3.1Z" fill="#3f3f3f" stroke="#333" stroke-width="0.5" stroke-linejoin="round"/><path d="M290.0 12.3 L295.4 14.9 L297.3 18.5 L294.1 24.3 L286.8 23.2 L285.0 16.6Z" fill="#2c2c2c" stroke="#333" stroke-width="0.5" stroke-linejoin="round"/><path d="M221.5 24.3 L225.0 25.3 L226.8 28.0 L225.1 32.0 L220.8 32.0 L218.7 29.5Z" fill="#3b3b3b" stroke="#333" stroke-width="0.5" stroke-linejoin="round"/><path d="M232.2 30.5 L230.5 34.9 L226.8 35.4 L224.4 33.0 L225.1 28.0 L230.2 27.9Z" fill="#434343" stroke="#333" stroke-width="0.5" stroke-linejoin="round"/><path d="M229.1 34.7 L232.0 29.9 L235.4 30.7 L237.4 33.8 L236.4 37.4 L231.1 36.9Z" fill="#414141" stroke="#333" stroke-width="0.5" stroke-linejoin="round"/><path d="M242.0 36.7 L238.7 35.6 L237.5 31.9 L240.4 28.8 L244.5 29.9 L245.6 34.3Z" fill="#363636" stroke="#333" stroke-width="0.5" stroke-linejoin="round"/><path d="M245.7 26.8 L250.4 26.0 L253.4 30.3 L252.6 34.6 L246.9 35.8 L243.3 31.3Z" fill="#3e3e3e" stroke="#333" stroke-width="0.5" stroke-linejoin="round"/><path d="M249.9 35.8 L249.9 40.2 L246.6 42.0 L244.8 40.6 L244.2 36.3 L246.1 34.4Z" fill="#3d3d3d" stroke="#333" stroke-width="0.5" stroke-linejoin="round"/><path d="M254.5 36.7 L257.3 33.8 L260.5 34.6 L262.4 39.0 L259.5 42.2 L255.0 40.7Z" fill="#3f3f3f" stroke="#333" stroke-width="0.5" stroke-linejoin="round"/><path d="M262.5 41.6 L263.6 42.9 L262.2 46.1 L259.7 45.7 L258.5 44.1 L259.3 41.7Z" fill="#474747" stroke="#333" stroke-width="0.5" stroke-linejoin="round"/><path d="M270.3 39.1 L267.5 40.8 L265.5 39.4 L265.6 36.6 L268.0 35.8 L270.3 37.2Z" fill="#474747" stroke="#333" stroke-width="0.5" stroke-linejoin="round"/><path d="M272.3 40.9 L272.2 35.1 L274.6 33.3 L279.3 35.4 L279.9 41.1 L275.1 43.1Z" fill="#373737" stroke="#333" stroke-width="0.5" stroke-linejoin="round"/><path d="M280.3 30.7 L285.0 29.6 L288.3 32.5 L287.2 36.5 L283.8 37.9 L279.8 34.4Z" fill="#444444" stroke="#333" stroke-width="0.5" stroke-linejoin="round"/><path d="M284.4 43.8 L283.8 40.7 L286.8 39.3 L290.1 41.4 L288.7 44.3 L286.9 45.6Z" fill="#4a4a4a" stroke="#333" stroke-width="0.5" stroke-linejoin="round"/><path d="M220.2 47.0 L218.6 43.4 L221.7 39.5 L225.4 40.1 L226.3 44.6 L224.6 47.5Z" fill="#3b3b3b" stroke="#333" stroke-width="0.5" stroke-linejoin="round"/><path d="M224.6 43.5 L225.8 39.9 L228.4 38.7 L231.5 40.7 L231.1 44.4 L227.1 45.4Z" fill="#3a3a3a" stroke="#333" stroke-width="0.5" stroke-linejoin="round"/><path d="M235.8 38.9 L239.3 43.5 L236.9 47.5 L233.5 47.7 L230.3 44.3 L231.0 40.4Z" fill="#404040" stroke="#333" stroke-width="0.5" stroke-linejoin="round"/><path d="M241.2 48.5 L238.3 46.0 L238.6 42.7 L242.9 41.3 L245.1 43.0 L244.5 47.6Z" fill="#3f3f3f" stroke="#333" stroke-width="0.5" stroke-linejoin="round"/><path d="M222.6 47.9 L225.8 50.6 L225.5 54.6 L223.4 55.7 L219.6 53.6 L220.3 49.4Z" fill="#3f3f3f" stroke="#333" stroke-width="0.5" stroke-linejoin="round"/><path d="M235.5 57.6 L232.7 59.0 L228.6 56.8 L228.5 52.9 L231.9 50.1 L235.7 52.6Z" fill="#424242" stroke="#333" stroke-width="0.5" stroke-linejoin="round"/><path d="M233.7 58.3 L234.1 54.9 L238.2 52.8 L242.0 55.7 L240.4 60.6 L237.6 61.0Z" fill="#3d3d3d" stroke="#333" stroke-width="0.5" stroke-linejoin="round"/><path d="M244.6 49.6 L246.7 51.2 L246.1 54.7 L242.9 55.7 L241.2 53.8 L241.9 49.7Z" fill="#3b3b3b" stroke="#333" stroke-width="0.5" stroke-linejoin="round"/><path d="M252.8 53.2 L250.4 56.6 L247.3 56.2 L246.0 53.0 L248.6 49.5 L251.9 50.7Z" fill="#474747" stroke="#333" stroke-width="0.5" stroke-linejoin="round"/><path d="M223.2 64.8 L220.9 61.5 L224.4 57.3 L228.6 58.3 L229.4 62.4 L226.5 65.2Z" fill="#414141" stroke="#333" stroke-width="0.5" stroke-linejoin="round"/><path d="M241.6 62.6 L240.9 59.4 L243.8 56.0 L246.8 57.2 L248.4 60.0 L246.1 62.8Z" fill="#363636" stroke="#333" stroke-width="0.5" stroke-linejoin="round"/><path d="M259.2 49.1 L262.4 47.8 L265.2 48.5 L265.6 52.8 L262.6 54.9 L259.2 53.6Z" fill="#444444" stroke="#333" stroke-width="0.5" stroke-linejoin="round"/><path d="M258.4 61.1 L257.1 58.7 L259.6 54.9 L264.0 56.1 L264.7 59.1 L262.5 61.7Z" fill="#393939" stroke="#333" stroke-width="0.5" stroke-linejoin="round"/><path d="M268.7 63.1 L268.3 65.4 L265.3 66.6 L262.3 63.9 L263.9 60.9 L266.4 60.6Z" fill="#3e3e3e" stroke="#333" stroke-width="0.5" stroke-linejoin="round"/><path d="M266.7 56.3 L270.6 53.7 L272.7 54.4 L273.8 58.7 L270.0 60.9 L267.5 58.8Z" fill="#444444" stroke="#333" stroke-width="0.5" stroke-linejoin="round"/><path d="M274.3 55.3 L271.8 52.3 L272.9 48.1 L277.7 47.2 L280.5 51.0 L278.5 55.0Z" fill="#434343" stroke="#333" stroke-width="0.5" stroke-linejoin="round"/><path d="M282.5 57.1 L281.0 54.0 L282.1 52.1 L285.8 52.3 L286.8 54.8 L285.2 57.7Z" fill="#424242" stroke="#333" stroke-width="0.5" stroke-linejoin="round"/><path d="M291.9 45.4 L292.7 48.8 L290.5 50.7 L287.2 50.1 L286.4 47.4 L287.7 45.0Z" fill="#3d3d3d" stroke="#333" stroke-width="0.5" stroke-linejoin="round"/><path d="M289.1 61.0 L287.9 57.9 L290.7 55.8 L292.6 56.4 L293.9 59.7 L292.0 61.2Z" fill="#464646" stroke="#333" stroke-width="0.5" stroke-linejoin="round"/><path d="M283.3 63.0 L281.4 65.3 L278.3 65.4 L276.9 62.2 L278.8 59.9 L282.3 60.6Z" fill="#404040" stroke="#333" stroke-width="0.5" stroke-linejoin="round"/><path d="M295.9 24.8 L295.3 28.0 L292.3 28.9 L289.5 26.4 L290.7 23.9 L293.6 23.0Z" fill="#4a4a4a" stroke="#333" stroke-width="0.5" stroke-linejoin="round"/><path d="M310.6 24.3 L309.5 28.7 L305.2 30.9 L300.8 26.4 L301.0 22.9 L306.3 19.7Z" fill="#383838" stroke="#333" stroke-width="0.5" stroke-linejoin="round"/><path d="M308.5 21.6 L309.4 17.9 L313.4 16.1 L315.8 17.7 L315.8 22.8 L313.2 24.5Z" fill="#484848" stroke="#333" stroke-width="0.5" stroke-linejoin="round"/><path d="M344.8 5.5 L342.2 7.9 L339.5 8.3 L337.4 5.5 L339.0 1.4 L343.1 1.5Z" fill="#373737" stroke="#333" stroke-width="0.5" stroke-linejoin="round"/><path d="M349.8 7.4 L347.6 11.2 L344.5 10.2 L342.8 7.2 L345.7 3.6 L348.3 4.5Z" fill="#3b3b3b" stroke="#333" stroke-width="0.5" stroke-linejoin="round"/><path d="M350.7 13.1 L348.2 10.4 L349.1 7.3 L353.2 5.7 L355.7 9.5 L354.8 11.6Z" fill="#434343" stroke="#333" stroke-width="0.5" stroke-linejoin="round"/><path d="M346.3 4.1 L347.4 0.5 L350.8 0.6 L352.0 3.5 L351.1 6.2 L347.5 6.4Z" fill="#484848" stroke="#333" stroke-width="0.5" stroke-linejoin="round"/><path d="M296.5 40.6 L295.4 37.0 L299.0 33.1 L304.1 35.2 L305.0 39.5 L301.7 42.2Z" fill="#4a4a4a" stroke="#333" stroke-width="0.5" stroke-linejoin="round"/><path d="M310.0 43.1 L307.0 43.8 L303.4 41.1 L304.5 37.9 L309.7 36.6 L311.6 39.8Z" fill="#353535" stroke="#333" stroke-width="0.5" stroke-linejoin="round"/><path d="M296.5 46.7 L297.4 50.7 L293.2 53.5 L289.4 50.7 L290.2 46.6 L294.2 45.1Z" fill="#3f3f3f" stroke="#333" stroke-width="0.5" stroke-linejoin="round"/><path d="M312.1 45.3 L314.6 41.4 L319.5 42.3 L321.0 46.1 L319.0 49.8 L313.9 49.5Z" fill="#454545" stroke="#333" stroke-width="0.5" stroke-linejoin="round"/><path d="M305.1 49.2 L307.8 45.8 L313.8 48.0 L314.3 52.3 L311.6 55.0 L306.3 53.1Z" fill="#3b3b3b" stroke="#333" stroke-width="0.5" stroke-linejoin="round"/><path d="M328.4 49.0 L325.2 49.5 L322.5 46.3 L324.2 43.2 L327.5 43.2 L329.6 45.7Z" fill="#343434" stroke="#333" stroke-width="0.5" stroke-linejoin="round"/><path d="M299.9 54.6 L304.6 51.4 L307.3 53.6 L307.6 57.8 L304.0 59.7 L300.6 58.4Z" fill="#343434" stroke="#333" stroke-width="0.5" stroke-linejoin="round"/><path d="M304.4 56.0 L307.2 54.7 L310.9 57.6 L310.5 60.1 L306.0 62.3 L303.5 59.9Z" fill="#373737" stroke="#333" stroke-width="0.5" stroke-linejoin="round"/><path d="M326.8 51.6 L325.8 53.4 L323.5 53.2 L322.7 51.5 L323.9 49.8 L325.9 50.3Z" fill="#4a4a4a" stroke="#333" stroke-width="0.5" stroke-linejoin="round"/><path d="M324.2 53.2 L327.3 55.7 L326.2 61.9 L322.1 62.2 L318.7 59.8 L319.6 54.4Z" fill="#474747" stroke="#333" stroke-width="0.5" stroke-linejoin="round"/><path d="M328.0 63.6 L328.2 58.6 L331.3 57.1 L335.2 59.7 L335.7 62.3 L330.8 65.5Z" fill="#484848" stroke="#333" stroke-width="0.5" stroke-linejoin="round"/><path d="M330.9 57.2 L329.9 54.1 L331.6 51.7 L334.8 51.7 L335.7 54.2 L334.0 57.3Z" fill="#454545" stroke="#333" stroke-width="0.5" stroke-linejoin="round"/><path d="M335.3 51.3 L334.1 45.4 L338.0 43.3 L342.1 45.1 L343.1 49.5 L338.8 53.3Z" fill="#474747" stroke="#333" stroke-width="0.5" stroke-linejoin="round"/><path d="M341.9 52.0 L344.9 47.8 L348.6 48.0 L350.3 51.2 L348.1 55.4 L344.0 54.7Z" fill="#353535" stroke="#333" stroke-width="0.5" stroke-linejoin="round"/><path d="M348.8 46.6 L352.6 44.2 L355.3 45.7 L354.5 50.1 L352.4 51.1 L348.1 48.8Z" fill="#484848" stroke="#333" stroke-width="0.5" stroke-linejoin="round"/><path d="M350.4 60.0 L348.7 57.5 L350.8 51.7 L355.0 51.8 L358.3 56.4 L355.6 59.6Z" fill="#383838" stroke="#333" stroke-width="0.5" stroke-linejoin="round"/><path d="M365.2 55.7 L363.6 60.5 L359.3 60.9 L357.7 58.2 L359.3 53.9 L362.8 53.4Z" fill="#3c3c3c" stroke="#333" stroke-width="0.5" stroke-linejoin="round"/><path d="M362.7 53.6 L360.2 52.3 L360.1 48.4 L362.0 47.4 L365.7 49.0 L365.7 51.3Z" fill="#494949" stroke="#333" stroke-width="0.5" stroke-linejoin="round"/><path d="M323.0 65.5 L323.2 62.1 L326.1 60.8 L329.0 63.3 L327.9 66.2 L324.5 66.5Z" fill="#343434" stroke="#333" stroke-width="0.5" stroke-linejoin="round"/><path d="M225.1 66.7 L221.8 64.0 L222.6 61.8 L226.9 60.0 L229.4 62.9 L228.9 65.3Z" fill="#373737" stroke="#333" stroke-width="0.5" stroke-linejoin="round"/><path d="M242.4 64.1 L242.9 67.1 L239.1 70.0 L235.9 67.5 L236.2 64.5 L239.8 63.0Z" fill="#464646" stroke="#333" stroke-width="0.5" stroke-linejoin="round"/><path d="M246.4 66.7 L243.1 64.9 L243.0 62.5 L245.3 60.3 L248.3 61.8 L248.9 64.9Z" fill="#3f3f3f" stroke="#333" stroke-width="0.5" stroke-linejoin="round"/><path d="M255.0 68.3 L256.0 64.8 L260.4 63.9 L263.4 66.9 L262.4 69.6 L258.8 72.1Z" fill="#444444" stroke="#333" stroke-width="0.5" stroke-linejoin="round"/><path d="M265.1 61.5 L267.8 63.7 L267.6 67.3 L263.8 68.2 L261.4 65.6 L262.7 62.1Z" fill="#444444" stroke="#333" stroke-width="0.5" stroke-linejoin="round"/><path d="M261.9 77.1 L258.2 74.7 L258.0 71.1 L262.2 68.5 L265.5 71.6 L265.2 75.3Z" fill="#3a3a3a" stroke="#333" stroke-width="0.5" stroke-linejoin="round"/><path d="M275.5 77.0 L271.2 77.7 L267.2 72.5 L268.7 69.0 L273.6 68.3 L277.3 70.7Z" fill="#2c2c2c" stroke="#333" stroke-width="0.5" stroke-linejoin="round"/><path d="M285.1 65.9 L284.4 69.5 L279.2 70.4 L276.3 67.6 L278.4 61.7 L281.6 62.1Z" fill="#4a4a4a" stroke="#333" stroke-width="0.5" stroke-linejoin="round"/><path d="M279.0 71.6 L284.2 70.4 L286.5 74.0 L284.5 77.5 L279.8 77.7 L278.1 74.2Z" fill="#444444" stroke="#333" stroke-width="0.5" stroke-linejoin="round"/><path d="M257.0 81.7 L254.5 79.8 L254.2 75.9 L257.4 74.3 L260.5 76.3 L260.7 79.6Z" fill="#3d3d3d" stroke="#333" stroke-width="0.5" stroke-linejoin="round"/><path d="M268.1 84.3 L265.4 85.9 L261.8 84.9 L260.6 80.4 L264.9 78.2 L267.8 79.8Z" fill="#3f3f3f" stroke="#333" stroke-width="0.5" stroke-linejoin="round"/><path d="M268.8 88.1 L268.5 83.7 L270.2 81.4 L274.1 81.1 L276.4 85.4 L273.3 88.7Z" fill="#4a4a4a" stroke="#333" stroke-width="0.5" stroke-linejoin="round"/><path d="M264.9 85.9 L268.1 84.7 L270.7 86.2 L270.6 90.3 L267.0 91.6 L264.4 89.6Z" fill="#3e3e3e" stroke="#333" stroke-width="0.5" stroke-linejoin="round"/><path d="M276.9 91.5 L273.3 92.1 L271.5 90.0 L272.7 87.3 L275.7 86.6 L277.4 88.4Z" fill="#3e3e3e" stroke="#333" stroke-width="0.5" stroke-linejoin="round"/><path d="M279.4 89.5 L281.4 84.3 L284.4 83.6 L287.5 87.7 L286.7 91.0 L282.0 92.1Z" fill="#464646" stroke="#333" stroke-width="0.5" stroke-linejoin="round"/><path d="M292.8 84.3 L290.0 86.2 L285.8 84.4 L285.8 80.5 L289.3 78.1 L292.7 79.6Z" fill="#3a3a3a" stroke="#333" stroke-width="0.5" stroke-linejoin="round"/><path d="M286.9 87.0 L289.8 84.5 L292.7 84.6 L294.6 88.1 L291.4 91.3 L287.7 90.6Z" fill="#393939" stroke="#333" stroke-width="0.5" stroke-linejoin="round"/><path d="M275.5 95.7 L272.7 97.9 L269.8 96.9 L268.2 93.5 L271.5 91.1 L274.8 92.5Z" fill="#3a3a3a" stroke="#333" stroke-width="0.5" stroke-linejoin="round"/><path d="M279.3 96.5 L278.2 93.4 L280.9 90.6 L284.1 90.7 L285.1 94.9 L283.5 97.0Z" fill="#414141" stroke="#333" stroke-width="0.5" stroke-linejoin="round"/><path d="M280.3 101.4 L279.4 99.0 L282.2 95.7 L286.9 97.6 L287.4 100.1 L284.0 103.4Z" fill="#404040" stroke="#333" stroke-width="0.5" stroke-linejoin="round"/><path d="M293.9 95.9 L293.9 98.8 L290.1 99.9 L287.0 97.8 L287.7 94.2 L290.5 93.3Z" fill="#323232" stroke="#333" stroke-width="0.5" stroke-linejoin="round"/><path d="M266.3 101.2 L264.8 98.9 L266.5 96.7 L268.7 96.5 L270.1 98.6 L269.5 100.8Z" fill="#323232" stroke="#333" stroke-width="0.5" stroke-linejoin="round"/><path d="M237.6 97.9 L239.7 94.0 L244.2 94.5 L245.9 99.1 L242.9 101.9 L239.0 101.3Z" fill="#2c2c2c" stroke="#333" stroke-width="0.5" stroke-linejoin="round"/><path d="M244.4 102.1 L246.6 98.0 L249.1 97.5 L251.7 101.1 L249.9 104.0 L246.4 104.1Z" fill="#202020" stroke="#333" stroke-width="0.5" stroke-linejoin="round"/><path d="M252.1 91.3 L254.3 94.3 L251.3 97.7 L247.8 97.0 L246.9 94.6 L249.2 91.2Z" fill="#3c3c3c" stroke="#333" stroke-width="0.5" stroke-linejoin="round"/><path d="M273.1 115.9 L267.1 115.5 L266.2 112.8 L268.6 108.7 L273.0 108.7 L274.0 113.8Z" fill="#464646" stroke="#333" stroke-width="0.5" stroke-linejoin="round"/><path d="M277.7 118.1 L276.6 120.2 L272.9 120.0 L271.5 117.0 L273.8 114.9 L275.7 114.6Z" fill="#484848" stroke="#333" stroke-width="0.5" stroke-linejoin="round"/><path d="M265.7 122.2 L262.8 119.6 L263.7 117.0 L267.0 115.8 L268.8 117.6 L269.1 120.7Z" fill="#464646" stroke="#333" stroke-width="0.5" stroke-linejoin="round"/><path d="M266.0 121.3 L266.8 125.9 L264.1 127.9 L260.5 126.9 L259.4 123.7 L262.4 119.9Z" fill="#3a3a3a" stroke="#333" stroke-width="0.5" stroke-linejoin="round"/><path d="M277.1 126.5 L274.8 128.1 L269.3 127.1 L268.5 122.7 L272.8 119.4 L277.4 121.8Z" fill="#2c2c2c" stroke="#333" stroke-width="0.5" stroke-linejoin="round"/><path d="M325.8 69.4 L323.0 68.2 L321.8 64.9 L324.9 61.9 L328.1 63.9 L328.7 67.4Z" fill="#333333" stroke="#333" stroke-width="0.5" stroke-linejoin="round"/><path d="M335.9 65.5 L331.0 67.2 L328.8 64.5 L328.7 60.8 L332.3 59.2 L336.8 62.8Z" fill="#434343" stroke="#333" stroke-width="0.5" stroke-linejoin="round"/><path d="M322.7 74.9 L325.1 69.9 L330.4 70.2 L332.4 74.1 L330.3 78.5 L325.2 77.9Z" fill="#494949" stroke="#333" stroke-width="0.5" stroke-linejoin="round"/><path d="M334.5 82.1 L330.6 80.7 L330.2 77.5 L333.1 75.2 L336.9 77.0 L337.3 79.2Z" fill="#363636" stroke="#333" stroke-width="0.5" stroke-linejoin="round"/><path d="M332.0 84.5 L328.8 84.8 L327.3 82.2 L328.8 79.6 L331.3 79.3 L333.0 81.8Z" fill="#494949" stroke="#333" stroke-width="0.5" stroke-linejoin="round"/><path d="M323.3 77.9 L324.7 80.3 L322.7 84.6 L319.0 84.5 L316.9 79.7 L319.4 76.6Z" fill="#434343" stroke="#333" stroke-width="0.5" stroke-linejoin="round"/><path d="M326.5 89.0 L321.8 91.7 L319.2 89.4 L318.6 85.0 L322.8 83.5 L325.7 85.2Z" fill="#3a3a3a" stroke="#333" stroke-width="0.5" stroke-linejoin="round"/><path d="M351.8 69.0 L352.8 72.8 L349.9 76.3 L346.4 75.5 L345.0 71.7 L346.9 68.4Z" fill="#404040" stroke="#333" stroke-width="0.5" stroke-linejoin="round"/><path d="M354.1 79.1 L351.5 81.0 L348.4 80.4 L346.3 76.5 L349.1 73.5 L353.3 74.6Z" fill="#444444" stroke="#333" stroke-width="0.5" stroke-linejoin="round"/><path d="M357.3 68.1 L356.4 70.9 L352.7 71.2 L350.8 68.2 L352.8 65.4 L355.8 65.9Z" fill="#414141" stroke="#333" stroke-width="0.5" stroke-linejoin="round"/><path d="M340.3 92.5 L337.8 94.4 L333.4 92.7 L333.5 87.9 L335.7 85.9 L339.5 86.9Z" fill="#3a3a3a" stroke="#333" stroke-width="0.5" stroke-linejoin="round"/><path d="M328.5 93.6 L330.4 90.0 L333.3 90.0 L334.6 93.3 L333.4 95.3 L331.0 95.9Z" fill="#4a4a4a" stroke="#333" stroke-width="0.5" stroke-linejoin="round"/><path d="M346.8 83.9 L350.4 87.7 L347.7 92.5 L343.8 92.9 L340.7 88.7 L343.8 83.4Z" fill="#393939" stroke="#333" stroke-width="0.5" stroke-linejoin="round"/><path d="M340.7 92.8 L344.0 90.9 L348.0 93.0 L347.5 96.9 L345.3 99.4 L341.2 98.3Z" fill="#383838" stroke="#333" stroke-width="0.5" stroke-linejoin="round"/><path d="M352.9 101.8 L348.5 102.8 L346.0 101.0 L347.4 96.5 L350.5 96.1 L352.9 98.6Z" fill="#333333" stroke="#333" stroke-width="0.5" stroke-linejoin="round"/><path d="M345.3 109.0 L342.5 107.0 L342.4 103.9 L345.8 101.7 L348.5 103.9 L349.0 106.9Z" fill="#464646" stroke="#333" stroke-width="0.5" stroke-linejoin="round"/><path d="M339.3 103.2 L343.0 103.4 L344.7 107.1 L343.4 109.5 L339.5 109.9 L337.8 105.7Z" fill="#343434" stroke="#333" stroke-width="0.5" stroke-linejoin="round"/><path d="M313.0 89.2 L311.4 92.4 L306.4 91.6 L305.5 88.8 L308.2 84.5 L311.0 84.8Z" fill="#484848" stroke="#333" stroke-width="0.5" stroke-linejoin="round"/><path d="M312.3 92.5 L313.9 97.5 L309.5 100.4 L304.7 98.1 L304.6 95.2 L308.6 91.4Z" fill="#404040" stroke="#333" stroke-width="0.5" stroke-linejoin="round"/><path d="M300.3 95.1 L301.6 93.0 L304.5 92.1 L306.5 95.2 L304.8 97.8 L302.4 98.4Z" fill="#404040" stroke="#333" stroke-width="0.5" stroke-linejoin="round"/><path d="M292.9 95.7 L293.2 91.3 L295.7 89.9 L299.7 91.0 L300.1 94.5 L296.4 98.0Z" fill="#464646" stroke="#333" stroke-width="0.5" stroke-linejoin="round"/><path d="M300.3 98.8 L300.4 102.9 L296.7 104.9 L293.1 103.5 L292.7 98.4 L295.2 97.1Z" fill="#494949" stroke="#333" stroke-width="0.5" stroke-linejoin="round"/><path d="M290.5 80.8 L291.9 78.9 L293.8 79.0 L294.6 80.8 L293.3 82.7 L291.2 82.1Z" fill="#434343" stroke="#333" stroke-width="0.5" stroke-linejoin="round"/><path d="M346.5 123.9 L347.4 122.2 L350.1 120.7 L352.8 123.8 L352.2 125.9 L349.2 127.2Z" fill="#2c2c2c" stroke="#333" stroke-width="0.5" stroke-linejoin="round"/>
<path d="M221.6 1.7 V131.3" stroke="#555" stroke-width="0.8"/>
</g></g>
<rect x="220" y="1.7" width="145.3" height="129.6" filter="url(#nz)"/>
<g clip-path="url(#cc)"><g filter="url(#bl)">
<rect x="396" y="1.7" width="145.4" height="129.6" fill="#7e7e7e"/>
<g fill="none" stroke="#c4c4c4" stroke-width="2.6" stroke-linejoin="round"><path d="M431.7 6.2 L432.7 11.4 L425.6 16.7 L421.5 15.8 L417.9 11.6 L416.6 4.3 L423.2 -0.4 L427.2 0.6Z"/><path d="M440.8 10.3 L436.2 9.8 L433.2 6.5 L434.8 0.9 L439.6 -2.5 L441.7 -1.8 L445.4 2.0 L444.6 6.4Z"/><path d="M439.1 13.5 L440.4 9.0 L445.1 6.6 L448.8 7.3 L450.7 11.1 L450.4 14.7 L446.4 18.1 L441.9 17.8Z"/><path d="M435.6 12.5 L440.2 13.1 L443.5 18.5 L441.4 25.5 L436.4 26.4 L432.1 24.2 L430.4 21.4 L432.0 14.7Z"/><path d="M467.0 11.4 L462.3 9.8 L461.5 7.5 L462.1 3.5 L464.7 1.5 L467.9 1.9 L470.4 4.2 L470.4 8.2Z"/><path d="M457.5 19.7 L458.1 15.4 L464.3 11.7 L468.9 14.4 L471.6 18.7 L469.2 23.5 L464.0 26.7 L458.8 23.2Z"/><path d="M455.5 32.8 L455.7 29.0 L458.1 26.3 L464.1 26.5 L466.8 27.8 L466.7 34.2 L464.3 36.1 L459.2 37.6Z"/><path d="M404.2 40.5 L401.1 41.9 L394.7 39.3 L393.2 36.7 L395.4 29.3 L398.5 28.1 L404.7 30.1 L407.2 36.0Z"/><path d="M415.0 48.9 L410.2 51.1 L405.4 49.9 L401.5 45.1 L403.4 38.5 L408.8 34.8 L414.2 36.6 L418.5 42.3Z"/><path d="M403.1 47.7 L400.1 49.7 L396.9 50.1 L393.9 45.2 L394.3 42.9 L398.6 40.2 L400.7 40.3 L403.6 43.9Z"/><path d="M427.2 48.3 L422.6 48.1 L419.3 43.7 L421.0 35.5 L425.8 33.4 L434.0 35.4 L434.8 41.1 L432.6 46.4Z"/><path d="M446.0 29.3 L447.8 33.2 L448.2 40.5 L440.9 44.2 L434.8 43.9 L430.1 34.8 L432.9 27.8 L437.0 26.8Z"/><path d="M435.5 42.8 L438.2 38.3 L443.8 36.9 L447.7 39.3 L449.8 45.3 L447.4 49.2 L439.4 50.2 L435.9 47.3Z"/><path d="M463.5 42.0 L468.6 45.2 L471.3 50.0 L468.1 56.5 L462.8 58.8 L457.7 56.1 L454.9 49.8 L457.2 43.4Z"/><path d="M411.9 54.1 L410.6 62.4 L405.1 66.0 L400.6 65.1 L396.4 59.1 L398.3 54.0 L402.5 51.2 L406.1 50.4Z"/><path d="M425.5 57.7 L423.4 61.3 L418.3 63.6 L413.0 62.6 L410.1 56.7 L411.8 54.4 L415.5 50.1 L420.7 49.9Z"/><path d="M434.2 66.6 L432.1 68.1 L427.7 68.3 L424.3 62.8 L424.4 59.4 L428.9 56.2 L434.5 58.3 L435.9 62.4Z"/><path d="M453.4 63.4 L450.3 64.9 L443.3 64.9 L442.8 62.5 L442.9 55.8 L446.3 53.8 L451.7 54.8 L452.6 57.3Z"/><path d="M474.9 13.8 L470.6 13.3 L467.0 9.9 L468.4 5.8 L471.6 2.1 L476.7 3.2 L480.0 7.3 L478.4 11.1Z"/><path d="M472.0 26.5 L467.6 24.1 L465.3 18.3 L467.5 14.0 L473.5 12.5 L476.4 13.6 L479.5 18.5 L476.8 24.9Z"/><path d="M488.6 19.5 L484.5 21.3 L479.2 20.4 L476.5 15.8 L475.9 12.3 L483.3 8.0 L487.2 9.7 L489.7 15.3Z"/><path d="M490.5 10.7 L495.2 6.3 L497.8 7.7 L504.5 13.6 L503.9 16.6 L501.0 21.9 L494.6 22.6 L490.3 19.1Z"/><path d="M488.4 0.6 L490.3 0.5 L493.7 5.2 L492.0 9.0 L489.7 9.9 L486.0 10.4 L484.1 7.4 L484.3 3.2Z"/><path d="M506.1 10.6 L502.6 7.5 L502.9 2.8 L506.3 0.4 L511.6 0.6 L515.4 4.5 L513.8 9.3 L512.0 11.3Z"/><path d="M514.9 8.7 L523.9 2.2 L530.1 2.5 L534.0 8.7 L534.0 19.0 L531.1 21.1 L521.7 20.8 L516.9 17.0Z"/><path d="M527.6 19.5 L531.7 22.3 L529.7 30.0 L527.2 33.4 L519.6 35.5 L513.4 29.8 L514.0 21.5 L518.2 17.3Z"/><path d="M486.0 38.1 L483.7 32.9 L486.0 25.3 L494.8 21.7 L502.4 24.4 L503.4 32.0 L502.6 38.3 L496.0 40.6Z"/><path d="M507.1 36.3 L505.0 33.8 L505.1 30.8 L506.4 29.4 L509.7 28.5 L512.9 31.7 L512.5 34.7 L510.5 36.4Z"/><path d="M511.2 38.3 L515.4 34.1 L518.4 34.1 L522.3 37.7 L522.3 41.3 L518.9 45.2 L515.9 45.1 L511.6 41.1Z"/><path d="M504.5 42.2 L506.7 40.5 L511.3 40.5 L513.0 42.5 L514.1 46.0 L510.4 50.3 L506.0 49.4 L503.7 46.4Z"/><path d="M493.1 57.7 L489.1 55.1 L488.0 50.4 L494.4 42.9 L499.0 42.9 L504.0 47.9 L504.2 55.3 L498.5 58.4Z"/><path d="M491.9 46.6 L491.6 48.9 L486.9 51.9 L483.8 49.8 L482.4 46.3 L483.5 42.2 L487.2 40.8 L490.6 42.1Z"/><path d="M475.0 47.2 L476.2 50.7 L473.3 55.3 L469.8 55.4 L467.0 53.2 L465.8 48.9 L469.0 46.0 L471.7 45.0Z"/><path d="M476.0 54.3 L474.8 52.7 L475.1 48.6 L478.3 47.1 L480.5 47.2 L482.5 50.0 L482.1 53.6 L480.1 55.1Z"/><path d="M517.1 65.2 L514.7 63.2 L513.1 58.8 L515.7 54.7 L522.2 54.3 L524.8 55.7 L525.8 62.4 L523.8 64.3Z"/><path d="M529.2 56.2 L533.0 56.2 L535.3 60.2 L535.8 63.4 L532.4 65.6 L528.3 65.3 L526.3 64.0 L525.5 59.8Z"/><path d="M542.4 54.9 L542.4 57.6 L541.3 60.7 L536.5 60.3 L534.9 59.4 L535.3 55.7 L537.0 53.3 L541.1 53.3Z"/><path d="M403.7 63.4 L408.3 59.6 L414.1 61.3 L417.8 66.1 L418.3 69.7 L414.4 74.1 L407.2 75.3 L402.7 72.3Z"/><path d="M418.0 66.6 L421.0 61.0 L423.7 59.7 L430.4 61.8 L431.8 65.4 L429.2 71.6 L424.5 73.7 L420.6 71.7Z"/><path d="M398.9 75.3 L396.0 76.0 L392.8 71.7 L393.1 67.7 L396.0 65.6 L400.2 66.5 L402.9 70.0 L401.0 73.7Z"/><path d="M407.6 95.3 L402.3 89.4 L401.7 82.4 L405.5 76.4 L415.3 74.5 L420.8 79.3 L421.9 85.6 L415.3 94.2Z"/><path d="M394.8 87.8 L393.7 83.7 L395.3 81.5 L398.0 80.4 L402.5 82.2 L404.0 86.5 L402.6 88.4 L398.8 90.0Z"/><path d="M392.1 96.0 L395.5 92.3 L402.8 91.3 L408.0 98.1 L407.8 102.8 L403.3 106.5 L396.5 107.4 L392.9 102.0Z"/><path d="M435.7 80.7 L435.9 83.9 L430.5 88.4 L426.9 88.0 L422.9 83.1 L422.4 79.2 L426.7 75.0 L432.3 74.8Z"/><path d="M438.9 87.9 L435.3 83.6 L436.7 78.4 L444.3 73.4 L447.6 75.7 L450.8 80.0 L449.4 88.5 L445.4 90.1Z"/><path d="M427.7 91.6 L431.7 87.8 L438.8 88.6 L444.9 95.5 L442.4 102.7 L439.8 105.3 L429.6 103.5 L426.4 99.0Z"/><path d="M421.0 104.2 L416.8 102.8 L415.6 100.5 L416.6 95.6 L420.1 94.8 L423.2 94.9 L425.7 97.8 L423.9 103.0Z"/><path d="M430.8 110.5 L426.4 114.4 L421.8 113.8 L419.5 109.3 L418.9 106.5 L423.2 102.3 L427.2 102.7 L430.7 106.6Z"/><path d="M462.6 74.1 L465.2 71.7 L469.8 72.2 L472.1 76.8 L471.3 81.0 L465.9 83.7 L464.0 83.2 L461.0 78.5Z"/><path d="M469.0 97.8 L465.0 99.2 L458.6 96.9 L457.1 92.4 L459.6 87.1 L463.7 85.4 L469.1 86.9 L471.7 91.9Z"/><path d="M462.9 104.8 L464.4 106.1 L464.4 109.7 L462.9 111.8 L459.8 112.5 L457.3 109.9 L456.7 107.0 L458.5 105.0Z"/><path d="M470.6 103.1 L470.4 106.0 L470.1 108.1 L466.5 109.4 L463.8 108.6 L462.2 105.1 L463.0 102.8 L465.9 101.6Z"/><path d="M460.5 113.3 L465.0 114.5 L466.1 117.4 L466.0 120.1 L463.3 123.1 L458.9 122.9 L455.7 118.3 L456.8 114.6Z"/><path d="M457.7 126.0 L463.2 123.2 L465.1 124.3 L467.8 127.2 L466.6 132.1 L463.5 133.1 L458.7 131.5 L457.6 129.5Z"/><path d="M473.0 72.2 L476.6 74.1 L478.7 79.8 L475.5 82.8 L469.7 83.0 L466.6 80.5 L467.5 75.2 L469.7 72.5Z"/><path d="M468.8 95.6 L465.4 94.8 L464.6 91.5 L466.6 86.4 L468.4 86.2 L472.4 87.1 L474.6 91.9 L472.1 95.4Z"/><path d="M495.6 69.2 L498.4 69.0 L504.9 75.2 L505.0 80.3 L500.9 86.4 L493.0 86.0 L487.6 79.3 L489.2 74.0Z"/><path d="M478.6 89.8 L480.7 86.3 L487.6 83.5 L492.9 86.7 L494.8 89.6 L491.6 97.7 L485.8 99.4 L481.0 95.6Z"/><path d="M517.1 88.5 L513.4 91.5 L508.1 88.3 L505.6 85.0 L508.7 78.4 L512.2 78.3 L517.3 80.2 L518.9 84.1Z"/><path d="M517.4 92.0 L520.4 87.2 L523.2 86.3 L525.8 88.2 L528.4 91.8 L527.0 95.0 L521.0 96.3 L518.0 94.2Z"/><path d="M520.5 71.5 L522.5 67.9 L528.9 66.7 L534.2 72.7 L534.9 76.2 L530.6 82.9 L524.1 83.3 L521.0 80.0Z"/><path d="M518.1 60.5 L522.2 62.5 L522.7 65.0 L520.5 68.8 L517.9 69.3 L514.6 66.8 L514.1 64.1 L515.4 62.3Z"/><path d="M534.7 88.5 L532.5 89.8 L529.7 89.9 L527.8 86.9 L528.0 83.2 L529.8 82.4 L533.7 82.3 L535.3 85.0Z"/><path d="M470.8 101.2 L472.3 98.8 L476.5 97.7 L480.4 101.4 L480.5 103.1 L477.9 106.7 L472.7 107.3 L470.3 103.5Z"/><path d="M471.9 109.5 L476.5 105.1 L481.0 105.1 L484.4 109.0 L484.2 112.3 L479.9 116.8 L474.8 116.3 L472.7 114.4Z"/><path d="M476.0 114.5 L476.6 118.9 L471.2 123.1 L467.2 122.2 L465.5 118.3 L466.5 113.4 L469.1 111.6 L473.1 111.7Z"/><path d="M502.7 116.4 L495.9 106.6 L498.1 101.2 L504.7 96.9 L513.1 99.2 L516.5 102.8 L515.7 111.8 L509.7 116.4Z"/><path d="M497.4 120.1 L494.7 126.1 L489.1 127.1 L484.4 126.2 L480.8 118.3 L485.4 113.1 L490.0 111.5 L496.3 115.4Z"/><path d="M500.4 123.8 L501.1 117.4 L505.8 115.0 L512.2 115.1 L515.7 120.5 L515.1 127.6 L508.2 130.7 L504.0 129.2Z"/><path d="M479.6 124.9 L482.7 125.0 L485.2 127.0 L484.0 131.3 L482.2 132.2 L478.9 132.3 L477.4 129.3 L478.1 125.7Z"/></g>
<path d="M431.7 6.2 L432.7 11.4 L425.6 16.7 L421.5 15.8 L417.9 11.6 L416.6 4.3 L423.2 -0.4 L427.2 0.6Z" fill="#5f5f5f" stroke="#404040" stroke-width="0.85" stroke-linejoin="round"/><path d="M440.8 10.3 L436.2 9.8 L433.2 6.5 L434.8 0.9 L439.6 -2.5 L441.7 -1.8 L445.4 2.0 L444.6 6.4Z" fill="#555555" stroke="#404040" stroke-width="0.85" stroke-linejoin="round"/><path d="M439.1 13.5 L440.4 9.0 L445.1 6.6 L448.8 7.3 L450.7 11.1 L450.4 14.7 L446.4 18.1 L441.9 17.8Z" fill="#606060" stroke="#404040" stroke-width="0.85" stroke-linejoin="round"/><path d="M435.6 12.5 L440.2 13.1 L443.5 18.5 L441.4 25.5 L436.4 26.4 L432.1 24.2 L430.4 21.4 L432.0 14.7Z" fill="#5b5b5b" stroke="#404040" stroke-width="0.85" stroke-linejoin="round"/><path d="M467.0 11.4 L462.3 9.8 L461.5 7.5 L462.1 3.5 L464.7 1.5 L467.9 1.9 L470.4 4.2 L470.4 8.2Z" fill="#555555" stroke="#404040" stroke-width="0.85" stroke-linejoin="round"/><path d="M457.5 19.7 L458.1 15.4 L464.3 11.7 L468.9 14.4 L471.6 18.7 L469.2 23.5 L464.0 26.7 L458.8 23.2Z" fill="#606060" stroke="#404040" stroke-width="0.85" stroke-linejoin="round"/><path d="M455.5 32.8 L455.7 29.0 L458.1 26.3 L464.1 26.5 L466.8 27.8 L466.7 34.2 L464.3 36.1 L459.2 37.6Z" fill="#555555" stroke="#404040" stroke-width="0.85" stroke-linejoin="round"/><path d="M404.2 40.5 L401.1 41.9 L394.7 39.3 L393.2 36.7 L395.4 29.3 L398.5 28.1 L404.7 30.1 L407.2 36.0Z" fill="#5c5c5c" stroke="#404040" stroke-width="0.85" stroke-linejoin="round"/><path d="M415.0 48.9 L410.2 51.1 L405.4 49.9 L401.5 45.1 L403.4 38.5 L408.8 34.8 L414.2 36.6 L418.5 42.3Z" fill="#5b5b5b" stroke="#404040" stroke-width="0.85" stroke-linejoin="round"/><path d="M403.1 47.7 L400.1 49.7 L396.9 50.1 L393.9 45.2 L394.3 42.9 L398.6 40.2 L400.7 40.3 L403.6 43.9Z" fill="#595959" stroke="#404040" stroke-width="0.85" stroke-linejoin="round"/><path d="M427.2 48.3 L422.6 48.1 L419.3 43.7 L421.0 35.5 L425.8 33.4 L434.0 35.4 L434.8 41.1 L432.6 46.4Z" fill="#555555" stroke="#404040" stroke-width="0.85" stroke-linejoin="round"/><path d="M446.0 29.3 L447.8 33.2 L448.2 40.5 L440.9 44.2 L434.8 43.9 L430.1 34.8 L432.9 27.8 L437.0 26.8Z" fill="#575757" stroke="#404040" stroke-width="0.85" stroke-linejoin="round"/><path d="M435.5 42.8 L438.2 38.3 L443.8 36.9 L447.7 39.3 L449.8 45.3 L447.4 49.2 L439.4 50.2 L435.9 47.3Z" fill="#565656" stroke="#404040" stroke-width="0.85" stroke-linejoin="round"/><path d="M463.5 42.0 L468.6 45.2 L471.3 50.0 L468.1 56.5 L462.8 58.8 L457.7 56.1 L454.9 49.8 L457.2 43.4Z" fill="#5c5c5c" stroke="#404040" stroke-width="0.85" stroke-linejoin="round"/><path d="M411.9 54.1 L410.6 62.4 L405.1 66.0 L400.6 65.1 L396.4 59.1 L398.3 54.0 L402.5 51.2 L406.1 50.4Z" fill="#555555" stroke="#404040" stroke-width="0.85" stroke-linejoin="round"/><path d="M425.5 57.7 L423.4 61.3 L418.3 63.6 L413.0 62.6 L410.1 56.7 L411.8 54.4 L415.5 50.1 L420.7 49.9Z" fill="#5e5e5e" stroke="#404040" stroke-width="0.85" stroke-linejoin="round"/><path d="M434.2 66.6 L432.1 68.1 L427.7 68.3 L424.3 62.8 L424.4 59.4 L428.9 56.2 L434.5 58.3 L435.9 62.4Z" fill="#5c5c5c" stroke="#404040" stroke-width="0.85" stroke-linejoin="round"/><path d="M453.4 63.4 L450.3 64.9 L443.3 64.9 L442.8 62.5 L442.9 55.8 L446.3 53.8 L451.7 54.8 L452.6 57.3Z" fill="#565656" stroke="#404040" stroke-width="0.85" stroke-linejoin="round"/><path d="M474.9 13.8 L470.6 13.3 L467.0 9.9 L468.4 5.8 L471.6 2.1 L476.7 3.2 L480.0 7.3 L478.4 11.1Z" fill="#606060" stroke="#404040" stroke-width="0.85" stroke-linejoin="round"/><path d="M472.0 26.5 L467.6 24.1 L465.3 18.3 L467.5 14.0 L473.5 12.5 L476.4 13.6 L479.5 18.5 L476.8 24.9Z" fill="#575757" stroke="#404040" stroke-width="0.85" stroke-linejoin="round"/><path d="M488.6 19.5 L484.5 21.3 L479.2 20.4 L476.5 15.8 L475.9 12.3 L483.3 8.0 L487.2 9.7 L489.7 15.3Z" fill="#5c5c5c" stroke="#404040" stroke-width="0.85" stroke-linejoin="round"/><path d="M490.5 10.7 L495.2 6.3 L497.8 7.7 L504.5 13.6 L503.9 16.6 L501.0 21.9 L494.6 22.6 L490.3 19.1Z" fill="#585858" stroke="#404040" stroke-width="0.85" stroke-linejoin="round"/><path d="M488.4 0.6 L490.3 0.5 L493.7 5.2 L492.0 9.0 L489.7 9.9 L486.0 10.4 L484.1 7.4 L484.3 3.2Z" fill="#606060" stroke="#404040" stroke-width="0.85" stroke-linejoin="round"/><path d="M506.1 10.6 L502.6 7.5 L502.9 2.8 L506.3 0.4 L511.6 0.6 L515.4 4.5 L513.8 9.3 L512.0 11.3Z" fill="#585858" stroke="#404040" stroke-width="0.85" stroke-linejoin="round"/><path d="M514.9 8.7 L523.9 2.2 L530.1 2.5 L534.0 8.7 L534.0 19.0 L531.1 21.1 L521.7 20.8 L516.9 17.0Z" fill="#5e5e5e" stroke="#404040" stroke-width="0.85" stroke-linejoin="round"/><path d="M527.6 19.5 L531.7 22.3 L529.7 30.0 L527.2 33.4 L519.6 35.5 L513.4 29.8 L514.0 21.5 L518.2 17.3Z" fill="#5f5f5f" stroke="#404040" stroke-width="0.85" stroke-linejoin="round"/><path d="M486.0 38.1 L483.7 32.9 L486.0 25.3 L494.8 21.7 L502.4 24.4 L503.4 32.0 L502.6 38.3 L496.0 40.6Z" fill="#565656" stroke="#404040" stroke-width="0.85" stroke-linejoin="round"/><path d="M507.1 36.3 L505.0 33.8 L505.1 30.8 L506.4 29.4 L509.7 28.5 L512.9 31.7 L512.5 34.7 L510.5 36.4Z" fill="#5f5f5f" stroke="#404040" stroke-width="0.85" stroke-linejoin="round"/><path d="M511.2 38.3 L515.4 34.1 L518.4 34.1 L522.3 37.7 L522.3 41.3 L518.9 45.2 L515.9 45.1 L511.6 41.1Z" fill="#5e5e5e" stroke="#404040" stroke-width="0.85" stroke-linejoin="round"/><path d="M504.5 42.2 L506.7 40.5 L511.3 40.5 L513.0 42.5 L514.1 46.0 L510.4 50.3 L506.0 49.4 L503.7 46.4Z" fill="#595959" stroke="#404040" stroke-width="0.85" stroke-linejoin="round"/><path d="M493.1 57.7 L489.1 55.1 L488.0 50.4 L494.4 42.9 L499.0 42.9 L504.0 47.9 L504.2 55.3 L498.5 58.4Z" fill="#606060" stroke="#404040" stroke-width="0.85" stroke-linejoin="round"/><path d="M491.9 46.6 L491.6 48.9 L486.9 51.9 L483.8 49.8 L482.4 46.3 L483.5 42.2 L487.2 40.8 L490.6 42.1Z" fill="#585858" stroke="#404040" stroke-width="0.85" stroke-linejoin="round"/><path d="M475.0 47.2 L476.2 50.7 L473.3 55.3 L469.8 55.4 L467.0 53.2 L465.8 48.9 L469.0 46.0 L471.7 45.0Z" fill="#5e5e5e" stroke="#404040" stroke-width="0.85" stroke-linejoin="round"/><path d="M476.0 54.3 L474.8 52.7 L475.1 48.6 L478.3 47.1 L480.5 47.2 L482.5 50.0 L482.1 53.6 L480.1 55.1Z" fill="#555555" stroke="#404040" stroke-width="0.85" stroke-linejoin="round"/><path d="M517.1 65.2 L514.7 63.2 L513.1 58.8 L515.7 54.7 L522.2 54.3 L524.8 55.7 L525.8 62.4 L523.8 64.3Z" fill="#575757" stroke="#404040" stroke-width="0.85" stroke-linejoin="round"/><path d="M529.2 56.2 L533.0 56.2 L535.3 60.2 L535.8 63.4 L532.4 65.6 L528.3 65.3 L526.3 64.0 L525.5 59.8Z" fill="#5b5b5b" stroke="#404040" stroke-width="0.85" stroke-linejoin="round"/><path d="M542.4 54.9 L542.4 57.6 L541.3 60.7 L536.5 60.3 L534.9 59.4 L535.3 55.7 L537.0 53.3 L541.1 53.3Z" fill="#5f5f5f" stroke="#404040" stroke-width="0.85" stroke-linejoin="round"/><path d="M403.7 63.4 L408.3 59.6 L414.1 61.3 L417.8 66.1 L418.3 69.7 L414.4 74.1 L407.2 75.3 L402.7 72.3Z" fill="#5b5b5b" stroke="#404040" stroke-width="0.85" stroke-linejoin="round"/><path d="M418.0 66.6 L421.0 61.0 L423.7 59.7 L430.4 61.8 L431.8 65.4 L429.2 71.6 L424.5 73.7 L420.6 71.7Z" fill="#5f5f5f" stroke="#404040" stroke-width="0.85" stroke-linejoin="round"/><path d="M398.9 75.3 L396.0 76.0 L392.8 71.7 L393.1 67.7 L396.0 65.6 L400.2 66.5 L402.9 70.0 L401.0 73.7Z" fill="#5a5a5a" stroke="#404040" stroke-width="0.85" stroke-linejoin="round"/><path d="M407.6 95.3 L402.3 89.4 L401.7 82.4 L405.5 76.4 L415.3 74.5 L420.8 79.3 L421.9 85.6 L415.3 94.2Z" fill="#575757" stroke="#404040" stroke-width="0.85" stroke-linejoin="round"/><path d="M394.8 87.8 L393.7 83.7 L395.3 81.5 L398.0 80.4 L402.5 82.2 L404.0 86.5 L402.6 88.4 L398.8 90.0Z" fill="#5d5d5d" stroke="#404040" stroke-width="0.85" stroke-linejoin="round"/><path d="M392.1 96.0 L395.5 92.3 L402.8 91.3 L408.0 98.1 L407.8 102.8 L403.3 106.5 L396.5 107.4 L392.9 102.0Z" fill="#5e5e5e" stroke="#404040" stroke-width="0.85" stroke-linejoin="round"/><path d="M435.7 80.7 L435.9 83.9 L430.5 88.4 L426.9 88.0 L422.9 83.1 L422.4 79.2 L426.7 75.0 L432.3 74.8Z" fill="#606060" stroke="#404040" stroke-width="0.85" stroke-linejoin="round"/><path d="M438.9 87.9 L435.3 83.6 L436.7 78.4 L444.3 73.4 L447.6 75.7 L450.8 80.0 L449.4 88.5 L445.4 90.1Z" fill="#565656" stroke="#404040" stroke-width="0.85" stroke-linejoin="round"/><path d="M427.7 91.6 L431.7 87.8 L438.8 88.6 L444.9 95.5 L442.4 102.7 L439.8 105.3 L429.6 103.5 L426.4 99.0Z" fill="#5f5f5f" stroke="#404040" stroke-width="0.85" stroke-linejoin="round"/><path d="M421.0 104.2 L416.8 102.8 L415.6 100.5 L416.6 95.6 L420.1 94.8 L423.2 94.9 L425.7 97.8 L423.9 103.0Z" fill="#5c5c5c" stroke="#404040" stroke-width="0.85" stroke-linejoin="round"/><path d="M430.8 110.5 L426.4 114.4 L421.8 113.8 L419.5 109.3 L418.9 106.5 L423.2 102.3 L427.2 102.7 L430.7 106.6Z" fill="#595959" stroke="#404040" stroke-width="0.85" stroke-linejoin="round"/><path d="M462.6 74.1 L465.2 71.7 L469.8 72.2 L472.1 76.8 L471.3 81.0 L465.9 83.7 L464.0 83.2 L461.0 78.5Z" fill="#5f5f5f" stroke="#404040" stroke-width="0.85" stroke-linejoin="round"/><path d="M469.0 97.8 L465.0 99.2 L458.6 96.9 L457.1 92.4 L459.6 87.1 L463.7 85.4 L469.1 86.9 L471.7 91.9Z" fill="#565656" stroke="#404040" stroke-width="0.85" stroke-linejoin="round"/><path d="M462.9 104.8 L464.4 106.1 L464.4 109.7 L462.9 111.8 L459.8 112.5 L457.3 109.9 L456.7 107.0 L458.5 105.0Z" fill="#606060" stroke="#404040" stroke-width="0.85" stroke-linejoin="round"/><path d="M470.6 103.1 L470.4 106.0 L470.1 108.1 L466.5 109.4 L463.8 108.6 L462.2 105.1 L463.0 102.8 L465.9 101.6Z" fill="#575757" stroke="#404040" stroke-width="0.85" stroke-linejoin="round"/><path d="M460.5 113.3 L465.0 114.5 L466.1 117.4 L466.0 120.1 L463.3 123.1 L458.9 122.9 L455.7 118.3 L456.8 114.6Z" fill="#5a5a5a" stroke="#404040" stroke-width="0.85" stroke-linejoin="round"/><path d="M457.7 126.0 L463.2 123.2 L465.1 124.3 L467.8 127.2 L466.6 132.1 L463.5 133.1 L458.7 131.5 L457.6 129.5Z" fill="#5e5e5e" stroke="#404040" stroke-width="0.85" stroke-linejoin="round"/><path d="M473.0 72.2 L476.6 74.1 L478.7 79.8 L475.5 82.8 L469.7 83.0 L466.6 80.5 L467.5 75.2 L469.7 72.5Z" fill="#5f5f5f" stroke="#404040" stroke-width="0.85" stroke-linejoin="round"/><path d="M468.8 95.6 L465.4 94.8 L464.6 91.5 L466.6 86.4 L468.4 86.2 L472.4 87.1 L474.6 91.9 L472.1 95.4Z" fill="#5e5e5e" stroke="#404040" stroke-width="0.85" stroke-linejoin="round"/><path d="M495.6 69.2 L498.4 69.0 L504.9 75.2 L505.0 80.3 L500.9 86.4 L493.0 86.0 L487.6 79.3 L489.2 74.0Z" fill="#5e5e5e" stroke="#404040" stroke-width="0.85" stroke-linejoin="round"/><path d="M478.6 89.8 L480.7 86.3 L487.6 83.5 L492.9 86.7 L494.8 89.6 L491.6 97.7 L485.8 99.4 L481.0 95.6Z" fill="#545454" stroke="#404040" stroke-width="0.85" stroke-linejoin="round"/><path d="M517.1 88.5 L513.4 91.5 L508.1 88.3 L505.6 85.0 L508.7 78.4 L512.2 78.3 L517.3 80.2 L518.9 84.1Z" fill="#555555" stroke="#404040" stroke-width="0.85" stroke-linejoin="round"/><path d="M517.4 92.0 L520.4 87.2 L523.2 86.3 L525.8 88.2 L528.4 91.8 L527.0 95.0 L521.0 96.3 L518.0 94.2Z" fill="#5e5e5e" stroke="#404040" stroke-width="0.85" stroke-linejoin="round"/><path d="M520.5 71.5 L522.5 67.9 L528.9 66.7 L534.2 72.7 L534.9 76.2 L530.6 82.9 L524.1 83.3 L521.0 80.0Z" fill="#585858" stroke="#404040" stroke-width="0.85" stroke-linejoin="round"/><path d="M518.1 60.5 L522.2 62.5 L522.7 65.0 L520.5 68.8 L517.9 69.3 L514.6 66.8 L514.1 64.1 L515.4 62.3Z" fill="#595959" stroke="#404040" stroke-width="0.85" stroke-linejoin="round"/><path d="M534.7 88.5 L532.5 89.8 L529.7 89.9 L527.8 86.9 L528.0 83.2 L529.8 82.4 L533.7 82.3 L535.3 85.0Z" fill="#5d5d5d" stroke="#404040" stroke-width="0.85" stroke-linejoin="round"/><path d="M470.8 101.2 L472.3 98.8 L476.5 97.7 L480.4 101.4 L480.5 103.1 L477.9 106.7 L472.7 107.3 L470.3 103.5Z" fill="#5a5a5a" stroke="#404040" stroke-width="0.85" stroke-linejoin="round"/><path d="M471.9 109.5 L476.5 105.1 L481.0 105.1 L484.4 109.0 L484.2 112.3 L479.9 116.8 L474.8 116.3 L472.7 114.4Z" fill="#595959" stroke="#404040" stroke-width="0.85" stroke-linejoin="round"/><path d="M476.0 114.5 L476.6 118.9 L471.2 123.1 L467.2 122.2 L465.5 118.3 L466.5 113.4 L469.1 111.6 L473.1 111.7Z" fill="#595959" stroke="#404040" stroke-width="0.85" stroke-linejoin="round"/><path d="M502.7 116.4 L495.9 106.6 L498.1 101.2 L504.7 96.9 L513.1 99.2 L516.5 102.8 L515.7 111.8 L509.7 116.4Z" fill="#5c5c5c" stroke="#404040" stroke-width="0.85" stroke-linejoin="round"/><path d="M497.4 120.1 L494.7 126.1 L489.1 127.1 L484.4 126.2 L480.8 118.3 L485.4 113.1 L490.0 111.5 L496.3 115.4Z" fill="#575757" stroke="#404040" stroke-width="0.85" stroke-linejoin="round"/><path d="M500.4 123.8 L501.1 117.4 L505.8 115.0 L512.2 115.1 L515.7 120.5 L515.1 127.6 L508.2 130.7 L504.0 129.2Z" fill="#5e5e5e" stroke="#404040" stroke-width="0.85" stroke-linejoin="round"/><path d="M479.6 124.9 L482.7 125.0 L485.2 127.0 L484.0 131.3 L482.2 132.2 L478.9 132.3 L477.4 129.3 L478.1 125.7Z" fill="#575757" stroke="#404040" stroke-width="0.85" stroke-linejoin="round"/>
</g></g>
<rect x="396" y="1.7" width="145.4" height="129.6" filter="url(#nz)"/>
<rect x="38.2" y="2.0" width="147.6" height="128.9" fill="none" stroke="#5a5a5a" stroke-width="0.7" opacity="0.8"/>
<rect x="220.3" y="2.0" width="144.6" height="128.9" fill="none" stroke="#5a5a5a" stroke-width="0.7" opacity="0.8"/>
<rect x="396.4" y="2.0" width="144.7" height="128.9" fill="none" stroke="#5a5a5a" stroke-width="0.7" opacity="0.8"/>
<text x="42.3" y="126.2" font-size="5.6" fill="#2a2a2a" font-family="Liberation Sans">200&#160;&#160;nm</text>
<path d="M42.3 127.9 H70.8" stroke="#3a3a3a" stroke-width="0.9"/>
<text x="224.3" y="126.2" font-size="5.6" fill="#2a2a2a" font-family="Liberation Sans">200&#160;&#160;nm</text>
<path d="M224.3 127.9 H252.8" stroke="#3a3a3a" stroke-width="0.9"/>
<text x="400.3" y="125.6" font-size="5.6" fill="#2a2a2a" font-family="Liberation Sans">100&#160;&#160;nm</text>
<path d="M400.3 127.9 H428.8" stroke="#3a3a3a" stroke-width="0.9"/>
<defs><pattern id="pdot" x="48.3" y="158" width="5" height="3.4" patternUnits="userSpaceOnUse"><rect width="5" height="3.4" fill="#ececec"/><rect x="0.4" y="0" width="2" height="1" fill="#333"/><rect x="3" y="1.4" width="1.6" height="1.6" fill="#a8a8a8"/></pattern><pattern id="pstripe" width="4.4" height="4.4" patternUnits="userSpaceOnUse" patternTransform="rotate(45)"><rect width="4.4" height="4.4" fill="#fff"/><rect width="4.4" height="1.9" fill="#000"/></pattern><pattern id="pcheck" width="3.8" height="3.8" patternUnits="userSpaceOnUse"><rect width="3.8" height="3.8" fill="#fff"/><rect width="1.9" height="1.9" fill="#000"/><rect x="1.9" y="1.9" width="1.9" height="1.9" fill="#000"/></pattern></defs>
<rect x="48.3" y="158.2" width="30.3" height="83.3" fill="url(#pdot)" stroke="#333" stroke-width="1.2"/>
<rect x="93.3" y="241.5" width="30" height="20.9" fill="url(#pstripe)" stroke="#222" stroke-width="0.8"/>
<rect x="138" y="241.5" width="30.2" height="31.9" fill="url(#pcheck)" stroke="#222" stroke-width="0.8"/>
<path d="M56.2 157.1 H70.8 M100.7 263.6 H114.7 M146 274.9 H160" stroke="#888" stroke-width="1.2"/>
<path d="M33.6 241.5 H182.7" stroke="#666" stroke-width="0.9"/>
<rect x="33.6" y="150.5" width="149.1" height="136.5" fill="none" stroke="#444" stroke-width="1.1"/>
<path d="M31 150.5 H33.6" stroke="#444" stroke-width="0.9"/>
<text x="31.4" y="153.6" font-size="9.00" text-anchor="end" font-weight="bold" fill="#111" >40</text>
<path d="M31 196.0 H33.6" stroke="#444" stroke-width="0.9"/>
<text x="31.4" y="199.1" font-size="9.00" text-anchor="end" font-weight="bold" fill="#111" >20</text>
<path d="M31 241.5 H33.6" stroke="#444" stroke-width="0.9"/>
<text x="31.4" y="244.6" font-size="9.00" text-anchor="end" font-weight="bold" fill="#111" >0</text>
<path d="M31 287.0 H33.6" stroke="#444" stroke-width="0.9"/>
<text x="31.4" y="290.1" font-size="9.00" text-anchor="end" font-weight="bold" fill="#111" >-20</text>
<text transform="translate(16.7 218.6) rotate(-90)" x="0" y="0" font-size="9.60" text-anchor="middle" font-weight="bold" fill="#111">Zeta Potential (mV)</text>
<rect x="87.3" y="154.7" width="13.4" height="3.2" fill="url(#pdot)" stroke="#222" stroke-width="0.7"/>
<text x="108.7" y="158.7" font-size="7.70" text-anchor="start" font-weight="bold" fill="#111" >UiO-66</text>
<rect x="87.3" y="163.1" width="13.4" height="3.2" fill="url(#pstripe)" stroke="#222" stroke-width="0.7"/>
<text x="108.7" y="167.1" font-size="7.70" text-anchor="start" font-weight="bold" fill="#111" >UiO-66/PEG-FA</text>
<rect x="87.3" y="171.5" width="13.4" height="3.2" fill="url(#pcheck)" stroke="#222" stroke-width="0.7"/>
<text x="108.7" y="175.5" font-size="7.70" text-anchor="start" font-weight="bold" fill="#111" >UiO-66@Ber/PEG-FA</text>
<g fill="none" stroke-width="1.1" stroke-linejoin="round">
<path d="M210.6 264.2 C211.2 264.4 212.7 264.5 214.3 265.3 C216.0 266.1 218.2 267.7 220.5 268.8 C222.8 269.9 225.6 271.1 228.2 271.9 C230.8 272.7 233.1 273.2 235.9 273.8 C238.7 274.4 241.8 274.9 245.2 275.3 C248.6 275.7 252.0 276.0 256.1 276.1 C260.2 276.2 265.2 276.1 270.0 276.1 C274.8 276.1 276.7 276.2 285.0 276.3 C293.3 276.4 309.2 276.5 320.0 276.8 C330.8 277.1 341.5 277.6 350.0 278.0 C358.5 278.4 367.5 278.8 371.0 279.0" stroke="#333"/>
<path d="M210.6 189.3 C211.2 192.8 213.2 203.1 214.3 210.0 C215.4 216.9 216.1 225.0 217.4 230.5 C218.7 236.0 220.4 239.0 222.0 242.9 C223.6 246.8 225.1 250.8 226.7 253.7 C228.2 256.6 229.8 258.7 231.3 260.6 C232.8 262.5 234.4 263.8 235.9 265.3 C237.4 266.9 238.8 268.8 240.6 269.9 C242.4 271.0 244.5 271.6 246.8 271.9 C249.1 272.2 251.9 271.8 254.5 271.5 C257.1 271.2 260.0 270.3 262.3 269.9 C264.6 269.4 266.1 269.2 268.4 268.8 C270.7 268.4 274.1 267.5 276.2 267.3 C278.3 267.1 279.3 267.4 280.8 267.6 C282.3 267.8 283.1 267.8 285.0 268.4 C286.9 269.0 289.5 269.9 292.0 271.0 C294.5 272.1 297.0 273.8 300.0 275.0 C303.0 276.2 305.8 277.3 310.0 278.0 C314.2 278.7 318.3 278.8 325.0 279.0 C331.7 279.2 342.3 279.4 350.0 279.5 C357.7 279.6 367.5 279.8 371.0 279.8" stroke="#ee2222"/>
<path d="M210.6 155.8 C211.5 159.3 214.2 169.6 216.0 177.0 C217.8 184.4 219.7 191.6 221.5 200.0 C223.3 208.4 225.1 220.8 226.7 227.4 C228.3 234.0 229.5 235.9 231.3 239.8 C233.1 243.7 235.7 248.0 237.5 250.6 C239.3 253.2 240.5 254.1 242.1 255.2 C243.7 256.3 245.2 257.0 246.8 257.1 C248.4 257.2 249.6 256.7 251.4 256.0 C253.2 255.3 255.5 253.7 257.6 252.9 C259.7 252.1 262.1 251.7 263.8 251.4 C265.5 251.2 266.4 251.0 267.7 251.4 C269.0 251.8 270.1 252.5 271.5 253.7 C272.9 254.8 274.6 257.0 276.2 258.3 C277.8 259.6 279.3 260.6 280.8 261.4 C282.3 262.2 281.8 262.3 285.0 263.0 C288.2 263.7 294.2 264.6 300.0 265.5 C305.8 266.4 313.3 267.4 320.0 268.5 C326.7 269.6 334.2 271.0 340.0 272.0 C345.8 273.0 349.8 273.9 355.0 274.5 C360.2 275.1 368.3 275.3 371.0 275.5" stroke="#ee22ee"/>
<path d="M210.6 209.0 C211.2 210.0 212.7 211.9 214.3 215.0 C216.0 218.1 218.4 222.8 220.5 227.4 C222.6 232.1 224.6 237.5 226.7 242.9 C228.8 248.3 231.1 256.0 232.9 259.9 C234.7 263.8 236.0 265.6 237.5 266.1 C239.0 266.6 240.3 265.1 242.1 263.0 C243.9 260.9 246.2 257.6 248.3 253.7 C250.4 249.8 252.4 244.2 254.5 239.8 C256.6 235.4 258.6 230.3 260.7 227.4 C262.8 224.5 265.2 223.2 266.9 222.5 C268.6 221.8 269.5 221.6 270.8 222.9 C272.1 224.2 273.5 226.7 274.6 230.5 C275.8 234.3 276.7 240.8 277.7 246.0 C278.7 251.2 279.9 257.3 280.8 261.4 C281.7 265.5 282.1 268.4 283.1 270.7 C284.1 273.0 285.4 274.3 287.0 275.2 C288.6 276.1 290.2 276.5 292.4 276.3 C294.6 276.1 297.1 275.0 300.0 274.0 C302.9 273.0 306.0 271.5 310.0 270.5 C314.0 269.5 319.8 268.1 324.0 268.0 C328.2 267.9 331.5 268.9 335.0 270.0 C338.5 271.1 341.7 272.9 345.0 274.5 C348.3 276.1 351.7 278.3 355.0 279.5 C358.3 280.7 362.3 281.1 365.0 281.5 C367.7 281.9 370.0 281.9 371.0 282.0" stroke="#229922"/>
</g>
<path d="M268.1 223.5 V276 M279.7 267.5 V276" stroke="#333" stroke-width="0.9" stroke-dasharray="1.2 1.2"/>
<text x="262.4" y="220.0" font-size="6.80" text-anchor="start" font-weight="bold" fill="#111" >345nm</text>
<text x="283.0" y="260.6" font-size="6.80" text-anchor="start" font-weight="bold" fill="#111" >365nm</text>
<rect x="210.5" y="150.9" width="161.2" height="134.9" fill="none" stroke="#444" stroke-width="1.1"/>
<path d="M233.9 285.8 V283.6" stroke="#444" stroke-width="0.9"/>
<text x="233.9" y="293.6" font-size="6.40" text-anchor="middle" font-weight="bold" fill="#111" >300</text>
<path d="M268.2 285.8 V283.6" stroke="#444" stroke-width="0.9"/>
<text x="268.2" y="293.6" font-size="6.40" text-anchor="middle" font-weight="bold" fill="#111" >350</text>
<path d="M302.5 285.8 V283.6" stroke="#444" stroke-width="0.9"/>
<text x="302.5" y="293.6" font-size="6.40" text-anchor="middle" font-weight="bold" fill="#111" >400</text>
<path d="M336.8 285.8 V283.6" stroke="#444" stroke-width="0.9"/>
<text x="336.8" y="293.6" font-size="6.40" text-anchor="middle" font-weight="bold" fill="#111" >450</text>
<path d="M371.0 285.8 V283.6" stroke="#444" stroke-width="0.9"/>
<text x="371.0" y="293.6" font-size="6.40" text-anchor="middle" font-weight="bold" fill="#111" >500</text>
<text x="291.0" y="302.2" font-size="8.20" text-anchor="middle" font-weight="bold" fill="#111" >Wavelength (nm)</text>
<text transform="translate(202.8 218.5) rotate(-90)" x="0" y="0" font-size="8.10" text-anchor="middle" font-weight="bold" fill="#111">Intensity (a.u.)</text>
<path d="M286.6 156.8 H300.5" stroke="#333" stroke-width="1.1"/>
<text x="302.6" y="159.2" font-size="6.90" text-anchor="start" font-weight="bold" fill="#111" >UiO-66</text>
<path d="M286.6 164.1 H300.5" stroke="#ee2222" stroke-width="1.1"/>
<text x="302.6" y="166.5" font-size="6.90" text-anchor="start" font-weight="bold" fill="#111" >UiO-66/PEG-FA</text>
<path d="M286.6 172.0 H300.5" stroke="#ee22ee" stroke-width="1.1"/>
<text x="302.6" y="174.4" font-size="6.90" text-anchor="start" font-weight="bold" fill="#111" >UiO-66@Ber/PEG-FA</text>
<path d="M286.6 179.8 H300.5" stroke="#229922" stroke-width="1.1"/>
<text x="302.6" y="182.2" font-size="6.90" text-anchor="start" font-weight="bold" fill="#111" >Ber</text>
<path d="M408.0 246.6 L408.8 246.9 L409.6 248.1 L410.4 247.9 L411.2 249.0 L412.0 249.3 L412.5 249.0 L413.2 249.2 L413.8 248.4 L414.5 248.6 L415.2 247.9 L415.8 247.7 L416.5 247.8 L417.2 248.0 L417.8 246.9 L418.5 246.8 L419.2 247.0 L419.8 247.1 L420.5 246.4 L421.2 245.9 L421.8 246.3 L422.5 245.0 L423.6 244.5 L424.6 250.0 L425.5 255.2 L426.0 256.2 L426.5 254.9 L427.0 254.4 L427.5 254.1 L428.0 254.3 L428.6 255.1 L429.1 253.7 L429.6 254.3 L430.1 254.2 L430.6 253.4 L431.1 253.6 L431.6 252.4 L432.1 252.2 L432.6 252.3 L433.2 253.1 L433.7 252.4 L434.2 251.9 L434.7 252.3 L435.2 251.8 L435.7 251.3 L436.2 252.1 L436.7 251.7 L437.2 250.6 L437.8 251.0 L438.3 250.8 L438.8 251.3 L439.3 250.8 L439.8 249.7 L440.3 250.9 L440.8 248.9 L441.3 249.3 L441.8 249.8 L442.4 248.4 L442.9 248.9 L443.4 247.8 L443.9 248.8 L444.4 248.8 L444.9 248.2 L445.4 248.7 L445.9 247.3 L446.4 247.9 L447.0 247.5 L447.5 247.3 L448.0 246.8 L448.5 247.4 L449.0 247.4 L450.5 247.5 L451.4 245.0 L452.3 243.5 L453.2 249.0 L454.2 256.0 L455.5 260.0 L456.5 259.4 L457.0 259.6 L457.5 258.3 L458.1 259.4 L458.6 259.1 L459.1 259.6 L459.6 259.1 L460.2 257.8 L460.7 257.8 L461.2 258.2 L461.7 256.7 L462.2 257.4 L462.8 256.7 L463.3 256.4 L463.8 256.1 L464.3 257.3 L464.9 255.9 L465.4 255.9 L465.9 256.0 L466.4 256.8 L466.9 255.1 L467.5 255.6 L468.0 255.6 L468.5 256.1 L469.0 255.8 L469.6 255.7 L470.1 254.4 L470.6 254.5 L471.1 254.2 L471.7 255.1 L472.2 255.0 L472.7 253.2 L473.2 253.1 L473.7 253.0 L474.3 252.9 L474.8 253.2 L475.3 253.2 L475.8 252.4 L476.4 251.7 L476.9 252.3 L477.4 252.0 L477.9 252.3 L478.4 252.9 L479.0 252.2 L479.5 251.6 L480.0 251.6 L480.5 251.6 L481.1 250.2 L481.6 251.7 L482.1 251.3 L482.6 251.3 L483.1 250.9 L483.7 249.9 L484.2 249.8 L484.7 249.0 L485.2 249.9 L485.8 248.6 L486.3 248.4 L486.8 248.5 L487.3 248.2 L487.8 248.4 L488.4 247.6 L488.9 247.4 L489.4 247.5 L489.9 247.2 L490.5 247.5 L491.0 246.7 L491.5 248.2 L492.0 247.5 L492.6 246.4 L493.1 246.4 L493.6 246.4 L494.1 246.3 L494.6 245.6 L495.2 246.9 L495.7 247.0 L496.2 245.8 L496.7 245.6 L497.3 244.6 L497.8 244.5 L498.3 244.8 L498.8 244.5 L499.3 245.4 L499.9 243.9 L500.4 243.4 L500.9 245.1 L501.4 244.1 L502.0 243.2 L502.5 243.8 L503.0 242.6 L504.2 242.5 L505.6 243.5 L506.3 243.0 L506.8 250.0 L507.4 257.5 L508.5 258.0 L509.2 258.7 L509.8 258.4 L510.5 258.1 L511.1 257.3 L511.8 257.4 L512.4 257.0 L513.1 257.9 L513.7 257.4 L514.4 257.8 L515.0 257.0 L515.7 256.7 L516.3 257.6 L517.0 257.8 L518.2 252.5 L519.5 257.0 L521.5 257.8 L522.5 247.0 L523.3 257.5 L525.0 257.0 L527.0 256.0 L528.6 245.5 L529.4 256.0 L530.5 240.5 L531.3 256.5 L532.5 259.0 L534.0 263.0 L535.5 270.0 L536.2 273.5 L536.7 262.0 L537.2 274.8 L537.8 274.8 L538.5 275.3 L539.1 275.1 L539.7 275.0 L540.3 274.8 L540.9 273.9 L541.5 274.2 L542.1 273.9 L542.7 273.3 L543.3 273.2 L543.9 273.4 L544.5 273.3 L545.1 273.7 L545.7 274.0 L546.3 273.2 L546.9 273.7 L547.5 273.7 L548.2 274.0 L548.8 262.0 L549.4 275.0 L550.2 281.2 L551.0 281.8 L551.8 281.1 L552.6 280.9 L553.4 280.9 L554.2 280.8 L554.9 280.8 L555.7 281.2 L556.5 281.4 L557.3 281.3 L558.1 280.9 L558.9 281.1 L559.7 281.2 L560.5 280.4 L561.3 281.0 L562.1 281.2 L562.8 281.0 L563.6 281.0 L564.4 280.7 L565.2 280.3 L566.0 280.9 L566.8 279.5 L567.3 277.5 L567.8 280.5 L569.0 282.0 L570.3 284.5 L571.0 285.2" fill="none" stroke="#151515" stroke-width="0.95" stroke-linejoin="round"/>
<path d="M452.3 245 L452.35 236.7 M506.3 244 L506.35 168.8 M536.7 264 L536.75 209.6 M548.8 264 L548.85 243.7" stroke="#555" stroke-width="0.75"/>
<rect x="408.0" y="150.8" width="163.3" height="134.8" fill="none" stroke="#666" stroke-width="1.2"/>
<path d="M408.0 284.9 H410.2" stroke="#666" stroke-width="0.7"/>
<text x="404.6" y="286.8" font-size="5.60" text-anchor="end" font-weight="normal" fill="#222" >0</text>
<path d="M408.0 265.7 H409.3" stroke="#666" stroke-width="0.7"/>
<path d="M408.0 246.5 H410.2" stroke="#666" stroke-width="0.7"/>
<text x="404.6" y="248.4" font-size="5.60" text-anchor="end" font-weight="normal" fill="#222" >100000</text>
<path d="M408.0 227.3 H409.3" stroke="#666" stroke-width="0.7"/>
<path d="M408.0 208.1 H410.2" stroke="#666" stroke-width="0.7"/>
<text x="404.6" y="210.0" font-size="5.60" text-anchor="end" font-weight="normal" fill="#222" >200000</text>
<path d="M408.0 188.9 H409.3" stroke="#666" stroke-width="0.7"/>
<path d="M408.0 169.7 H410.2" stroke="#666" stroke-width="0.7"/>
<text x="404.6" y="171.6" font-size="5.60" text-anchor="end" font-weight="normal" fill="#222" >300000</text>
<path d="M571.1 285.6 V283.4" stroke="#666" stroke-width="0.7"/>
<text x="571.1" y="293.8" font-size="5.60" text-anchor="middle" font-weight="normal" fill="#222" >0</text>
<path d="M559.0 285.6 V284.3" stroke="#666" stroke-width="0.7"/>
<path d="M546.9 285.6 V283.4" stroke="#666" stroke-width="0.7"/>
<text x="546.9" y="293.8" font-size="5.60" text-anchor="middle" font-weight="normal" fill="#222" >200</text>
<path d="M534.8 285.6 V284.3" stroke="#666" stroke-width="0.7"/>
<path d="M522.7 285.6 V283.4" stroke="#666" stroke-width="0.7"/>
<text x="522.7" y="293.8" font-size="5.60" text-anchor="middle" font-weight="normal" fill="#222" >400</text>
<path d="M510.6 285.6 V284.3" stroke="#666" stroke-width="0.7"/>
<path d="M498.5 285.6 V283.4" stroke="#666" stroke-width="0.7"/>
<text x="498.5" y="293.8" font-size="5.60" text-anchor="middle" font-weight="normal" fill="#222" >600</text>
<path d="M486.5 285.6 V284.3" stroke="#666" stroke-width="0.7"/>
<path d="M474.4 285.6 V283.4" stroke="#666" stroke-width="0.7"/>
<text x="474.4" y="293.8" font-size="5.60" text-anchor="middle" font-weight="normal" fill="#222" >800</text>
<path d="M462.3 285.6 V284.3" stroke="#666" stroke-width="0.7"/>
<path d="M450.2 285.6 V283.4" stroke="#666" stroke-width="0.7"/>
<text x="450.2" y="293.8" font-size="5.60" text-anchor="middle" font-weight="normal" fill="#222" >1000</text>
<path d="M438.1 285.6 V284.3" stroke="#666" stroke-width="0.7"/>
<path d="M426.0 285.6 V283.4" stroke="#666" stroke-width="0.7"/>
<text x="426.0" y="293.8" font-size="5.60" text-anchor="middle" font-weight="normal" fill="#222" >1200</text>
<text x="489.5" y="304.3" font-size="6.75" text-anchor="middle" font-weight="bold" fill="#111" >Binding Energy (eV)</text>
<text transform="translate(384.2 222.9) rotate(-90)" x="0" y="0" font-size="7.40" text-anchor="middle" font-weight="bold" fill="#111">Counts/s</text>
<text x="507.6" y="166.4" font-size="6.40" text-anchor="middle" font-weight="normal" fill="#111" >O</text>
<text x="536.9" y="207.4" font-size="6.40" text-anchor="middle" font-weight="normal" fill="#111" >C</text>
<text x="523.7" y="244.8" font-size="6.40" text-anchor="middle" font-weight="normal" fill="#111" >N</text>
<text x="550.2" y="240.8" font-size="6.40" text-anchor="middle" font-weight="normal" fill="#111" >Zr</text>
<path d="M18.4 436.0 L18.6 436.3 L18.8 436.4 L19.0 436.0 L19.2 436.0 L19.4 436.2 L19.6 436.0 L19.8 435.5 L20.0 435.2 L20.2 435.0 L20.4 435.2 L20.6 434.9 L20.8 434.3 L21.0 434.7 L21.2 434.8 L21.4 434.8 L21.6 434.8 L21.8 435.1 L22.0 435.1 L22.2 435.2 L22.4 435.9 L22.6 435.8 L22.8 435.7 L23.0 436.0 L23.2 435.7 L23.4 435.9 L23.6 435.8 L23.8 435.4 L24.0 435.3 L24.2 435.3 L24.4 435.1 L24.6 435.2 L24.8 434.8 L25.0 434.7 L25.2 434.2 L25.4 434.3 L25.6 433.5 L25.8 432.8 L26.0 431.7 L26.2 429.2 L26.4 420.9 L26.6 401.1 L26.8 367.6 L27.0 338.4 L27.2 338.4 L27.4 367.1 L27.6 400.5 L27.8 420.2 L28.0 427.9 L28.2 430.8 L28.4 431.1 L28.6 430.8 L28.8 427.5 L29.0 417.4 L29.2 401.9 L29.4 393.9 L29.6 402.4 L29.8 418.4 L30.0 428.5 L30.2 432.7 L30.4 433.8 L30.6 434.3 L30.8 435.0 L31.0 435.1 L31.2 435.3 L31.4 435.5 L31.6 435.7 L31.8 435.6 L32.0 435.7 L32.2 435.7 L32.4 435.8 L32.6 435.9 L32.8 435.8 L33.0 435.9 L33.2 435.9 L33.4 436.2 L33.6 436.0 L33.8 436.1 L34.0 436.2 L34.2 435.8 L34.4 435.9 L34.6 436.1 L34.8 436.0 L35.0 435.5 L35.2 435.2 L35.4 434.2 L35.6 430.7 L35.8 426.9 L36.0 426.8 L36.2 431.1 L36.4 434.4 L36.6 435.7 L36.8 435.5 L37.0 436.0 L37.2 436.0 L37.4 435.7 L37.6 436.2 L37.8 436.2 L38.0 435.6 L38.2 435.3 L38.4 432.8 L38.6 431.2 L38.8 433.1 L39.0 435.2 L39.2 435.6 L39.4 435.9 L39.6 436.0 L39.8 435.9 L40.0 435.9 L40.2 435.9 L40.4 436.1 L40.6 435.6 L40.8 435.3 L41.0 433.5 L41.2 432.0 L41.4 433.4 L41.6 435.3 L41.8 435.9 L42.0 435.7 L42.2 436.3 L42.4 436.2 L42.6 436.2 L42.8 435.6 L43.0 435.3 L43.2 433.4 L43.4 431.0 L43.6 430.7 L43.8 433.4 L44.0 435.4 L44.2 436.1 L44.4 436.1 L44.6 435.7 L44.8 435.7 L45.0 436.0 L45.2 435.5 L45.4 434.5 L45.6 431.0 L45.8 427.2 L46.0 427.6 L46.2 431.2 L46.4 434.1 L46.6 435.8 L46.8 435.9 L47.0 436.1 L47.2 435.7 L47.4 436.1 L47.6 435.6 L47.8 435.9 L48.0 434.8 L48.2 432.1 L48.4 430.3 L48.6 432.5 L48.8 434.7 L49.0 435.5 L49.2 436.0 L49.4 435.9 L49.6 435.8 L49.8 435.9 L50.0 435.8 L50.2 435.9 L50.4 436.0 L50.6 435.9 L50.8 436.1 L51.0 435.2 L51.2 433.6 L51.4 432.1 L51.6 433.5 L51.8 435.0 L52.0 435.8 L52.2 435.7 L52.4 436.2 L52.6 436.1 L52.8 435.9 L53.0 436.1 L53.2 436.4 L53.4 435.9 L53.6 436.3 L53.8 436.0 L54.0 436.0 L54.2 436.1 L54.4 435.7 L54.6 435.5 L54.8 434.3 L55.0 430.9 L55.2 426.1 L55.4 426.4 L55.6 430.7 L55.8 434.2 L56.0 435.4 L56.2 435.7 L56.4 435.6 L56.6 435.7 L56.8 435.7 L57.0 436.2 L57.2 435.9 L57.4 435.8 L57.6 435.7 L57.8 436.2 L58.0 436.1 L58.2 435.8 L58.4 434.6 L58.6 432.0 L58.8 430.1 L59.0 432.1 L59.2 434.5 L59.4 435.6 L59.6 435.7 L59.8 436.1 L60.0 436.1 L60.2 435.8 L60.4 435.6 L60.6 435.9 L60.8 435.4 L61.0 435.2 L61.2 434.7 L61.4 434.1 L61.6 431.3 L61.8 423.8 L62.0 412.3 L62.2 406.4 L62.4 412.2 L62.6 423.6 L62.8 431.0 L63.0 434.0 L63.2 434.6 L63.4 434.9 L63.6 435.3 L63.8 435.3 L64.0 435.5 L64.2 435.1 L64.4 433.2 L64.6 429.8 L64.8 429.9 L65.0 433.4 L65.2 435.1 L65.4 435.6 L65.6 436.1 L65.8 435.7 L66.0 436.1 L66.2 436.0 L66.4 435.7 L66.6 436.1 L66.8 436.1 L67.0 435.6 L67.2 434.5 L67.4 431.0 L67.6 428.0 L67.8 430.8 L68.0 434.3 L68.2 435.8 L68.4 436.0 L68.6 436.1 L68.8 436.0 L69.0 436.2 L69.2 436.1 L69.4 436.0 L69.6 435.7 L69.8 435.5 L70.0 435.5 L70.2 435.5 L70.4 435.0 L70.6 434.3 L70.8 430.2 L71.0 422.4 L71.2 417.6 L71.4 422.4 L71.6 430.0 L71.8 433.7 L72.0 435.3 L72.2 435.4 L72.4 434.9 L72.6 433.0 L72.8 429.8 L73.0 429.5 L73.2 433.3 L73.4 435.0 L73.6 435.4 L73.8 435.7 L74.0 436.0 L74.2 435.7 L74.4 436.0 L74.6 436.0 L74.8 435.4 L75.0 434.2 L75.2 431.0 L75.4 427.2 L75.6 427.2 L75.8 431.1 L76.0 434.4 L76.2 435.2 L76.4 435.6 L76.6 435.7 L76.8 436.1 L77.0 435.8 L77.2 436.0 L77.4 435.7 L77.6 435.6 L77.8 435.6 L78.0 434.9 L78.2 432.3 L78.4 430.3 L78.6 432.0 L78.8 434.8 L79.0 435.7 L79.2 435.8 L79.4 435.7 L79.6 436.1 L79.8 435.6 L80.0 436.0 L80.2 435.3 L80.4 432.7 L80.6 428.9 L80.8 426.6 L81.0 429.2 L81.2 433.0 L81.4 434.9 L81.6 435.5 L81.8 436.1 L82.0 435.7 L82.2 436.0 L82.4 435.7 L82.6 435.8 L82.8 435.7 L83.0 433.4 L83.2 431.0 L83.4 430.8 L83.6 433.8 L83.8 435.4 L84.0 435.5 L84.2 435.9 L84.4 435.1 L84.6 432.5 L84.8 428.7 L85.0 429.0 L85.2 432.8 L85.4 435.1 L85.6 435.6 L85.8 435.8 L86.0 435.9 L86.2 436.2 L86.4 435.7 L86.6 436.2 L86.8 436.2 L87.0 435.6 L87.2 435.3 L87.4 433.0 L87.6 431.5 L87.8 432.8 L88.0 435.0 L88.2 435.8 L88.4 436.3 L88.6 436.1 L88.8 436.0 L89.0 436.0 L89.2 435.9 L89.4 435.7 L89.6 435.7 L89.8 436.0 L90.0 435.1 L90.2 433.6 L90.4 429.5 L90.6 427.3 L90.8 429.7 L91.0 433.2 L91.2 435.2 L91.4 436.0 L91.6 436.1 L91.8 436.2 L92.0 436.1 L92.2 436.3 L92.4 436.3 L92.6 436.1 L92.8 436.2 L93.0 435.7 L93.2 436.1 L93.4 435.8 L93.6 435.6 L93.8 433.8 L94.0 430.6 L94.2 430.5 L94.4 433.8 L94.6 435.1 L94.8 435.6 L95.0 435.5 L95.2 435.3 L95.4 434.9 L95.6 432.2 L95.8 426.4 L96.0 423.3 L96.2 426.4 L96.4 432.0 L96.6 434.7 L96.8 435.3 L97.0 435.5 L97.2 435.7 L97.4 436.1 L97.6 435.9 L97.8 435.6 L98.0 435.6 L98.2 433.9 L98.4 430.7 L98.6 430.5 L98.8 433.5 L99.0 435.2 L99.2 435.8 L99.4 435.7 L99.6 435.9 L99.8 435.9 L100.0 436.1 L100.2 436.2 L100.4 435.7 L100.6 434.1 L100.8 431.6 L101.0 431.7 L101.2 434.1 L101.4 435.5 L101.6 435.7 L101.8 435.9 L102.0 436.4 L102.2 435.9 L102.4 436.2 L102.6 436.2 L102.8 436.4 L103.0 436.0 L103.2 436.0 L103.4 435.9 L103.6 435.5 L103.8 434.2 L104.0 433.5 L104.2 434.4 L104.4 435.8 L104.6 435.8 L104.8 435.9 L105.0 436.3 L105.2 436.4 L105.4 436.2 L105.6 436.3 L105.8 435.9 L106.0 436.2 L106.2 436.5 L106.4 436.4 L106.6 436.4 L106.8 436.5 L107.0 436.0 L107.2 435.9 L107.4 435.9 L107.6 436.1 L107.8 436.2 L108.0 436.2 L108.2 435.5 L108.4 433.4 L108.6 430.1 L108.8 429.9 L109.0 433.3 L109.2 435.1 L109.4 436.0 L109.6 435.8 L109.8 436.3 L110.0 436.1 L110.2 435.6 L110.4 434.3 L110.6 432.5 L110.8 432.7 L111.0 434.7 L111.2 435.5 L111.4 435.8 L111.6 436.1 L111.8 436.2 L112.0 436.1 L112.2 436.0 L112.4 436.2 L112.6 435.9 L112.8 436.0 L113.0 436.0 L113.2 435.8 L113.4 434.3 L113.6 433.5 L113.8 434.2 L114.0 435.4 L114.2 435.9 L114.4 436.4 L114.6 436.3 L114.8 436.1 L115.0 435.9 L115.2 436.2 L115.4 436.3 L115.6 436.2 L115.8 436.1 L116.0 436.3 L116.2 436.4 L116.4 435.9 L116.6 435.4 L116.8 434.5 L117.0 433.7 L117.2 434.7 L117.4 435.5 L117.6 436.3 L117.8 436.3 L118.0 436.2 L118.2 436.0 L118.4 436.5 L118.6 436.1 L118.8 436.4 L119.0 436.0 L119.2 436.0 L119.4 436.3 L119.6 435.9 L119.8 436.2 L120.0 435.5 L120.2 433.4 L120.4 430.2 L120.6 430.3 L120.8 433.6 L121.0 435.7 L121.2 435.7 L121.4 436.0 L121.6 435.9 L121.8 436.3 L122.0 435.8 L122.2 435.7 L122.4 435.0 L122.6 433.5 L122.8 432.4 L123.0 433.7 L123.2 435.4 L123.4 436.2 L123.6 436.2 L123.8 435.8 L124.0 435.1 L124.2 433.8 L124.4 432.4 L124.6 433.3 L124.8 435.4 L125.0 435.9 L125.2 436.0 L125.4 436.1 L125.6 436.0 L125.8 435.9 L126.0 436.1 L126.2 436.1 L126.4 436.5 L126.6 436.0 L126.8 436.5 L127.0 436.0 L127.2 436.1 L127.4 436.4 L127.6 436.3 L127.8 435.9 L128.0 435.0 L128.2 434.0 L128.4 433.9 L128.6 435.5 L128.8 435.8 L129.0 436.1 L129.2 436.4 L129.4 435.9 L129.6 436.2 L129.8 436.4 L130.0 436.4 L130.2 436.0 L130.4 436.0 L130.6 436.0 L130.8 436.5 L131.0 436.1 L131.2 436.4 L131.4 436.5 L131.6 436.2 L131.8 436.1 L132.0 436.5 L132.2 436.3 L132.4 436.1 L132.6 436.3 L132.8 435.7 L133.0 434.7 L133.2 433.8 L133.4 435.0 L133.6 436.0 L133.8 436.2 L134.0 436.5 L134.2 435.9 L134.4 436.1 L134.6 436.2 L134.8 436.5 L135.0 436.5 L135.2 436.2 L135.4 436.1 L135.6 436.2 L135.8 436.2 L136.0 436.5 L136.2 436.0 L136.4 436.4 L136.6 436.1 L136.8 435.5 L137.0 434.9 L137.2 435.3 L137.4 435.8 L137.6 436.1 L137.8 436.1 L138.0 436.4 L138.2 436.0 L138.4 436.1 L138.6 436.4 L138.8 436.1 L139.0 436.0 L139.2 436.0 L139.4 436.3 L139.6 436.2 L139.8 436.5 L140.0 436.5 L140.2 436.5 L140.4 436.0 L140.6 435.7 L140.8 435.0 L141.0 434.8 L141.2 435.4 L141.4 435.9 L141.6 436.0 L141.8 436.2 L142.0 436.3 L142.2 436.4 L142.4 436.4 L142.6 436.5 L142.8 436.4 L143.0 436.1 L143.2 436.5 L143.4 436.2 L143.6 436.3 L143.8 436.2 L144.0 436.4 L144.2 436.1 L144.4 436.1 L144.6 436.1 L144.8 436.1 L145.0 436.5 L145.2 436.3 L145.4 436.1 L145.6 435.9 L145.8 435.7 L146.0 435.0 L146.2 435.3 L146.4 436.2 L146.6 436.3 L146.8 436.5 L147.0 436.0 L147.2 436.3 L147.4 436.5 L147.6 436.5 L147.8 436.5 L148.0 436.0 L148.2 436.2 L148.4 436.1 L148.6 436.1 L148.8 436.6 L149.0 436.3 L149.2 436.5 L149.4 436.2 L149.6 436.5 L149.8 436.3 L150.0 436.1 L150.2 436.4 L150.4 436.5 L150.6 436.0 L150.8 436.3 L151.0 436.3 L151.2 436.1 L151.4 436.1 L151.6 435.8 L151.8 435.3 L152.0 434.9 L152.2 435.5 L152.4 436.1 L152.6 436.0 L152.8 436.0 L153.0 436.2 L153.2 436.4 L153.4 436.1 L153.6 436.2 L153.8 436.1 L154.0 436.5 L154.2 436.3 L154.4 436.0 L154.6 436.0 L154.8 436.2 L155.0 436.3 L155.2 436.4 L155.4 436.0 L155.6 436.1 L155.8 436.4 L156.0 436.2 L156.2 436.2 L156.4 436.2 L156.6 436.5 L156.8 436.2 L157.0 436.3 L157.2 436.2 L157.4 436.2 L157.6 436.2 L157.8 435.8 L158.0 435.0 L158.2 435.3 L158.4 436.2 L158.6 436.0 L158.8 436.0 L159.0 436.5 L159.2 436.2 L159.4 436.5 L159.6 436.2 L159.8 436.5 L160.0 436.3 L160.2 436.1 L160.4 436.0 L160.6 436.3 L160.8 436.4 L161.0 436.5 L161.2 436.0 L161.4 436.4 L161.6 436.2 L161.8 436.3 L162.0 436.1 L162.2 436.2 L162.4 436.3 L162.6 436.5 L162.8 436.1 L163.0 436.3 L163.2 436.5 L163.4 436.6 L163.6 436.1 L163.8 436.0 L164.0 436.5 L164.2 436.5 L164.4 436.2 L164.6 435.8 L164.8 435.7 L165.0 435.0 L165.2 435.7 L165.4 436.1 L165.6 436.4 L165.8 436.0 L166.0 436.4 L166.2 436.1 L166.4 436.2 L166.6 436.5 L166.8 436.5 L167.0 436.1 L167.2 436.1 L167.4 436.2 L167.6 436.3 L167.8 436.2 L168.0 436.1 L168.2 436.1 L168.4 436.4 L168.6 436.5 L168.8 436.0 L169.0 436.3 L169.2 436.4 L169.4 436.0 L169.6 436.5 L169.8 436.1 L170.0 436.3 L170.2 436.3 L170.4 436.4 L170.6 436.2 L170.8 436.2 L171.0 436.3 L171.2 436.2 L171.4 436.3 L171.6 436.0 L171.8 435.6 L172.0 435.0 L172.2 435.7 L172.4 436.1 L172.6 436.1 L172.8 436.4 L173.0 436.4 L173.2 436.3 L173.4 436.1 L173.6 436.3 L173.8 436.1 L174.0 436.1 L174.2 436.2 L174.4 436.0 L174.6 436.3 L174.8 436.3 L175.0 436.0 L175.2 436.4 L175.4 436.0 L175.6 436.4 L175.8 436.5 L176.0 436.3 L176.2 436.0 L176.4 436.3 L176.6 436.2 L176.8 436.6 L177.0 436.1 L177.2 436.5 L177.4 436.6 L177.6 436.4 L177.8 436.5 L178.0 436.1 L178.2 436.6 L178.4 436.3 L178.6 436.6 L178.8 436.5 L179.0 436.1 L179.2 436.5 L179.4 436.6 L179.6 436.0 L179.8 436.2 L180.0 436.5 L180.2 436.1 L180.4 436.5 L180.6 436.2 L180.8 436.5 L181.0 436.1 L181.2 436.3 L181.4 436.5 L181.6 436.1 L181.8 436.2 L182.0 436.3 L182.2 436.2 L182.4 436.0" fill="none" stroke="#111" stroke-width="0.7" stroke-linejoin="round"/>
<path d="M18.4 452.1 L18.6 452.0 L18.8 452.6 L19.0 452.4 L19.2 452.5 L19.4 452.0 L19.6 452.4 L19.8 451.9 L20.0 452.2 L20.2 452.2 L20.4 452.0 L20.6 452.3 L20.8 452.1 L21.0 452.1 L21.2 452.3 L21.4 451.7 L21.6 452.3 L21.8 452.0 L22.0 451.8 L22.2 452.0 L22.4 451.6 L22.6 452.0 L22.8 451.7 L23.0 451.5 L23.2 451.6 L23.4 451.3 L23.6 451.0 L23.8 451.2 L24.0 450.6 L24.2 450.9 L24.4 450.2 L24.6 450.2 L24.8 450.1 L25.0 449.4 L25.2 449.0 L25.4 448.2 L25.6 447.5 L25.8 446.9 L26.0 446.2 L26.2 445.3 L26.4 442.5 L26.6 436.4 L26.8 426.6 L27.0 417.3 L27.2 417.2 L27.4 426.1 L27.6 435.5 L27.8 441.5 L28.0 444.2 L28.2 445.1 L28.4 445.8 L28.6 445.8 L28.8 445.5 L29.0 443.6 L29.2 440.7 L29.4 440.0 L29.6 441.8 L29.8 444.9 L30.0 448.2 L30.2 449.2 L30.4 449.8 L30.6 450.1 L30.8 450.7 L31.0 451.1 L31.2 451.2 L31.4 451.0 L31.6 451.1 L31.8 451.0 L32.0 451.5 L32.2 451.5 L32.4 451.4 L32.6 451.7 L32.8 451.6 L33.0 452.0 L33.2 451.9 L33.4 451.6 L33.6 452.1 L33.8 451.5 L34.0 451.9 L34.2 451.8 L34.4 451.7 L34.6 451.6 L34.8 452.1 L35.0 451.6 L35.2 451.8 L35.4 451.7 L35.6 450.0 L35.8 448.6 L36.0 448.9 L36.2 450.3 L36.4 451.6 L36.6 452.2 L36.8 451.8 L37.0 452.0 L37.2 452.0 L37.4 451.9 L37.6 452.5 L37.8 452.4 L38.0 452.4 L38.2 451.9 L38.4 452.5 L38.6 452.5 L38.8 452.3 L39.0 452.5 L39.2 452.3 L39.4 452.1 L39.6 452.0 L39.8 452.1 L40.0 452.0 L40.2 452.1 L40.4 452.4 L40.6 452.2 L40.8 451.8 L41.0 450.6 L41.2 449.6 L41.4 450.5 L41.6 451.5 L41.8 452.3 L42.0 452.3 L42.2 452.1 L42.4 452.4 L42.6 452.6 L42.8 452.1 L43.0 452.6 L43.2 452.0 L43.4 452.2 L43.6 452.2 L43.8 452.5 L44.0 452.6 L44.2 452.5 L44.4 452.2 L44.6 452.6 L44.8 452.2 L45.0 452.0 L45.2 452.4 L45.4 451.8 L45.6 450.6 L45.8 449.2 L46.0 449.4 L46.2 450.5 L46.4 451.9 L46.6 452.3 L46.8 452.5 L47.0 452.2 L47.2 452.5 L47.4 452.4 L47.6 452.2 L47.8 452.1 L48.0 452.4 L48.2 452.0 L48.4 452.6 L48.6 452.1 L48.8 452.0 L49.0 452.1 L49.2 452.6 L49.4 452.2 L49.6 452.1 L49.8 452.0 L50.0 452.0 L50.2 452.4 L50.4 452.4 L50.6 452.4 L50.8 452.3 L51.0 451.2 L51.2 450.5 L51.4 449.7 L51.6 450.7 L51.8 451.7 L52.0 452.4 L52.2 451.9 L52.4 452.5 L52.6 452.6 L52.8 452.6 L53.0 452.0 L53.2 452.1 L53.4 452.0 L53.6 452.0 L53.8 452.5 L54.0 452.5 L54.2 452.4 L54.4 452.4 L54.6 452.2 L54.8 451.5 L55.0 450.2 L55.2 448.7 L55.4 449.2 L55.6 450.3 L55.8 451.6 L56.0 452.1 L56.2 451.9 L56.4 452.1 L56.6 452.1 L56.8 452.4 L57.0 452.2 L57.2 452.2 L57.4 452.6 L57.6 452.3 L57.8 452.5 L58.0 452.3 L58.2 451.7 L58.4 451.4 L58.6 450.4 L58.8 449.9 L59.0 450.3 L59.2 451.6 L59.4 452.0 L59.6 452.0 L59.8 452.5 L60.0 451.9 L60.2 452.4 L60.4 451.9 L60.6 451.8 L60.8 451.9 L61.0 452.2 L61.2 452.2 L61.4 451.3 L61.6 450.6 L61.8 447.8 L62.0 443.8 L62.2 441.2 L62.4 443.6 L62.6 447.7 L62.8 450.8 L63.0 451.4 L63.2 452.2 L63.4 451.9 L63.6 451.9 L63.8 452.3 L64.0 452.2 L64.2 452.0 L64.4 452.4 L64.6 452.0 L64.8 452.5 L65.0 452.4 L65.2 452.5 L65.4 452.4 L65.6 452.2 L65.8 452.2 L66.0 452.2 L66.2 452.6 L66.4 452.0 L66.6 452.5 L66.8 451.8 L67.0 451.8 L67.2 451.0 L67.4 450.0 L67.6 448.8 L67.8 449.6 L68.0 451.4 L68.2 451.8 L68.4 452.1 L68.6 452.2 L68.8 452.4 L69.0 452.4 L69.2 452.4 L69.4 452.2 L69.6 452.1 L69.8 452.0 L70.0 452.5 L70.2 452.3 L70.4 452.3 L70.6 451.5 L70.8 450.5 L71.0 448.5 L71.2 446.9 L71.4 448.0 L71.6 450.6 L71.8 452.0 L72.0 451.9 L72.2 452.0 L72.4 452.1 L72.6 452.4 L72.8 452.5 L73.0 452.1 L73.2 452.1 L73.4 452.1 L73.6 452.2 L73.8 452.3 L74.0 452.1 L74.2 452.2 L74.4 452.0 L74.6 452.6 L74.8 452.3 L75.0 451.4 L75.2 450.8 L75.4 448.8 L75.6 448.9 L75.8 450.8 L76.0 451.9 L76.2 452.3 L76.4 452.2 L76.6 452.1 L76.8 452.4 L77.0 452.0 L77.2 452.1 L77.4 452.3 L77.6 452.0 L77.8 452.3 L78.0 452.5 L78.2 452.5 L78.4 452.3 L78.6 452.4 L78.8 452.3 L79.0 452.1 L79.2 452.4 L79.4 452.2 L79.6 452.4 L79.8 452.5 L80.0 452.1 L80.2 452.0 L80.4 451.3 L80.6 449.3 L80.8 448.2 L81.0 449.6 L81.2 451.3 L81.4 452.1 L81.6 452.3 L81.8 452.5 L82.0 452.4 L82.2 452.4 L82.4 452.3 L82.6 452.2 L82.8 452.4 L83.0 452.0 L83.2 452.3 L83.4 452.5 L83.6 452.4 L83.8 452.4 L84.0 452.1 L84.2 452.1 L84.4 451.7 L84.6 450.6 L84.8 449.0 L85.0 449.2 L85.2 450.8 L85.4 451.5 L85.6 452.2 L85.8 452.4 L86.0 452.2 L86.2 452.3 L86.4 452.7 L86.6 452.0 L86.8 452.4 L87.0 452.1 L87.2 452.5 L87.4 452.7 L87.6 452.4 L87.8 452.1 L88.0 452.4 L88.2 452.4 L88.4 452.5 L88.6 452.4 L88.8 452.4 L89.0 452.6 L89.2 452.3 L89.4 452.2 L89.6 452.6 L89.8 452.0 L90.0 452.1 L90.2 451.1 L90.4 449.9 L90.6 448.5 L90.8 450.0 L91.0 451.1 L91.2 451.7 L91.4 452.0 L91.6 452.2 L91.8 452.0 L92.0 452.3 L92.2 452.3 L92.4 452.5 L92.6 452.2 L92.8 452.2 L93.0 452.2 L93.2 452.5 L93.4 452.7 L93.6 452.4 L93.8 452.1 L94.0 452.5 L94.2 452.3 L94.4 452.1 L94.6 452.0 L94.8 452.5 L95.0 452.5 L95.2 452.3 L95.4 451.9 L95.6 451.0 L95.8 448.8 L96.0 448.2 L96.2 448.9 L96.4 451.0 L96.6 452.1 L96.8 452.4 L97.0 452.2 L97.2 452.1 L97.4 452.3 L97.6 452.1 L97.8 452.6 L98.0 452.2 L98.2 452.6 L98.4 452.2 L98.6 452.3 L98.8 452.2 L99.0 452.3 L99.2 452.1 L99.4 452.0 L99.6 452.5 L99.8 452.2 L100.0 452.1 L100.2 452.1 L100.4 452.1 L100.6 451.5 L100.8 450.6 L101.0 450.0 L101.2 450.4 L101.4 451.9 L101.6 452.4 L101.8 452.0 L102.0 452.5 L102.2 452.6 L102.4 452.5 L102.6 452.1 L102.8 452.6 L103.0 452.5 L103.2 452.0 L103.4 452.0 L103.6 452.7 L103.8 452.5 L104.0 452.2 L104.2 452.1 L104.4 452.1 L104.6 452.2 L104.8 452.6 L105.0 452.3 L105.2 452.1 L105.4 452.7 L105.6 452.6 L105.8 452.1 L106.0 452.6 L106.2 452.4 L106.4 452.6 L106.6 452.5 L106.8 452.6 L107.0 452.5 L107.2 452.6 L107.4 452.1 L107.6 452.4 L107.8 452.2 L108.0 452.2 L108.2 451.5 L108.4 450.3 L108.6 448.3 L108.8 448.0 L109.0 449.9 L109.2 451.3 L109.4 452.1 L109.6 451.9 L109.8 452.2 L110.0 452.0 L110.2 452.3 L110.4 452.3 L110.6 452.4 L110.8 452.6 L111.0 452.0 L111.2 452.6 L111.4 452.3 L111.6 452.4 L111.8 452.4 L112.0 452.5 L112.2 452.2 L112.4 452.0 L112.6 451.9 L112.8 450.2 L113.0 450.0 L113.2 450.6 L113.4 451.2 L113.6 452.2 L113.8 452.4 L114.0 452.6 L114.2 452.2 L114.4 452.7 L114.6 452.4 L114.8 452.3 L115.0 452.6 L115.2 452.0 L115.4 452.5 L115.6 452.5 L115.8 452.3 L116.0 452.6 L116.2 452.3 L116.4 452.4 L116.6 452.4 L116.8 452.6 L117.0 452.2 L117.2 452.3 L117.4 452.3 L117.6 452.4 L117.8 452.6 L118.0 452.2 L118.2 452.6 L118.4 452.3 L118.6 452.4 L118.8 452.2 L119.0 452.3 L119.2 452.7 L119.4 452.4 L119.6 452.5 L119.8 452.1 L120.0 451.7 L120.2 450.7 L120.4 449.7 L120.6 449.7 L120.8 451.0 L121.0 451.5 L121.2 452.3 L121.4 452.5 L121.6 452.3 L121.8 452.0 L122.0 452.2 L122.2 452.0 L122.4 452.1 L122.6 452.7 L122.8 452.4 L123.0 452.5 L123.2 452.6 L123.4 452.7 L123.6 452.4 L123.8 452.5 L124.0 452.5 L124.2 452.5 L124.4 452.4 L124.6 452.5 L124.8 452.1 L125.0 452.4 L125.2 452.3 L125.4 452.4 L125.6 451.5 L125.8 450.7 L126.0 450.1 L126.2 451.1 L126.4 452.0 L126.6 452.3 L126.8 452.2 L127.0 452.6 L127.2 452.5 L127.4 452.4 L127.6 452.2 L127.8 452.2 L128.0 452.3 L128.2 452.2 L128.4 452.3 L128.6 452.5 L128.8 452.7 L129.0 452.1 L129.2 452.4 L129.4 452.1 L129.6 452.1 L129.8 452.6 L130.0 452.4 L130.2 452.7 L130.4 452.3 L130.6 452.0 L130.8 452.3 L131.0 452.4 L131.2 452.7 L131.4 452.7 L131.6 452.3 L131.8 452.3 L132.0 452.1 L132.2 452.4 L132.4 452.0 L132.6 451.7 L132.8 450.9 L133.0 450.5 L133.2 451.4 L133.4 451.6 L133.6 452.6 L133.8 452.0 L134.0 452.6 L134.2 452.1 L134.4 452.0 L134.6 452.5 L134.8 452.2 L135.0 452.5 L135.2 452.2 L135.4 452.1 L135.6 452.6 L135.8 452.5 L136.0 452.6 L136.2 452.5 L136.4 452.1 L136.6 452.5 L136.8 452.5 L137.0 452.4 L137.2 452.7 L137.4 452.2 L137.6 452.7 L137.8 452.5 L138.0 452.0 L138.2 452.0 L138.4 452.5 L138.6 452.6 L138.8 452.1 L139.0 452.2 L139.2 452.5 L139.4 452.0 L139.6 452.2 L139.8 451.3 L140.0 450.6 L140.2 451.2 L140.4 452.0 L140.6 452.2 L140.8 452.4 L141.0 452.1 L141.2 452.6 L141.4 452.3 L141.6 452.5 L141.8 452.5 L142.0 452.3 L142.2 452.3 L142.4 452.6 L142.6 452.7 L142.8 452.6 L143.0 452.4 L143.2 452.2 L143.4 452.1 L143.6 452.7 L143.8 452.5 L144.0 452.6 L144.2 452.3 L144.4 452.5 L144.6 452.7 L144.8 452.6 L145.0 452.5 L145.2 452.3 L145.4 452.3 L145.6 452.7 L145.8 452.3 L146.0 452.5 L146.2 452.5 L146.4 452.7 L146.6 452.6 L146.8 452.2 L147.0 452.0 L147.2 452.2 L147.4 452.3 L147.6 452.4 L147.8 452.6 L148.0 452.7 L148.2 452.1 L148.4 452.6 L148.6 452.6 L148.8 452.6 L149.0 452.4 L149.2 452.2 L149.4 452.5 L149.6 452.2 L149.8 451.6 L150.0 451.5 L150.2 451.4 L150.4 451.7 L150.6 452.3 L150.8 452.5 L151.0 452.1 L151.2 452.5 L151.4 452.7 L151.6 452.2 L151.8 452.5 L152.0 452.5 L152.2 452.4 L152.4 452.2 L152.6 452.2 L152.8 452.6 L153.0 452.6 L153.2 452.4 L153.4 452.1 L153.6 452.6 L153.8 452.6 L154.0 452.2 L154.2 452.4 L154.4 452.7 L154.6 452.7 L154.8 452.4 L155.0 452.4 L155.2 452.5 L155.4 452.2 L155.6 452.2 L155.8 452.2 L156.0 452.5 L156.2 452.3 L156.4 452.4 L156.6 452.3 L156.8 452.4 L157.0 452.1 L157.2 452.1 L157.4 452.7 L157.6 452.3 L157.8 452.1 L158.0 452.5 L158.2 452.6 L158.4 452.1 L158.6 452.4 L158.8 452.3 L159.0 452.4 L159.2 452.0 L159.4 451.9 L159.6 452.4 L159.8 451.8 L160.0 451.2 L160.2 451.6 L160.4 451.8 L160.6 452.5 L160.8 452.3 L161.0 452.7 L161.2 452.6 L161.4 452.6 L161.6 452.7 L161.8 452.2 L162.0 452.1 L162.2 452.2 L162.4 452.2 L162.6 452.1 L162.8 452.1 L163.0 452.4 L163.2 452.7 L163.4 452.4 L163.6 452.7 L163.8 452.7 L164.0 452.1 L164.2 452.5 L164.4 452.3 L164.6 452.1 L164.8 452.7 L165.0 452.2 L165.2 452.4 L165.4 452.5 L165.6 452.7 L165.8 452.5 L166.0 452.3 L166.2 452.4 L166.4 452.2 L166.6 452.7 L166.8 452.7 L167.0 452.2 L167.2 452.1 L167.4 452.2 L167.6 452.3 L167.8 452.7 L168.0 452.7 L168.2 452.6 L168.4 452.1 L168.6 452.6 L168.8 452.5 L169.0 452.5 L169.2 452.7 L169.4 452.0 L169.6 451.8 L169.8 451.7 L170.0 451.5 L170.2 451.6 L170.4 451.9 L170.6 452.3 L170.8 452.5 L171.0 452.1 L171.2 452.2 L171.4 452.2 L171.6 452.1 L171.8 452.4 L172.0 452.2 L172.2 452.2 L172.4 452.1 L172.6 452.5 L172.8 452.1 L173.0 452.5 L173.2 452.2 L173.4 452.1 L173.6 452.7 L173.8 452.2 L174.0 452.7 L174.2 452.7 L174.4 452.7 L174.6 452.1 L174.8 452.4 L175.0 452.1 L175.2 452.7 L175.4 452.6 L175.6 452.5 L175.8 452.4 L176.0 452.3 L176.2 452.6 L176.4 452.4 L176.6 452.5 L176.8 452.1 L177.0 452.2 L177.2 452.1 L177.4 452.5 L177.6 452.4 L177.8 452.1 L178.0 452.7 L178.2 452.2 L178.4 452.3 L178.6 452.2 L178.8 452.2 L179.0 452.6 L179.2 452.3 L179.4 452.2 L179.6 452.4 L179.8 452.3 L180.0 452.7 L180.2 452.1 L180.4 452.7 L180.6 452.1 L180.8 452.7 L181.0 452.5 L181.2 452.2 L181.4 452.4 L181.6 452.2 L181.8 452.2 L182.0 452.2 L182.2 452.3 L182.4 452.7" fill="none" stroke="#ee1111" stroke-width="0.8" stroke-linejoin="round"/>
<rect x="18.0" y="321.7" width="164.7" height="135.1" fill="none" stroke="#7a7a7a" stroke-width="1.3"/>
<path d="M32.9 456.8 V454.8" stroke="#666" stroke-width="0.9"/>
<text x="32.9" y="465.2" font-size="7.40" text-anchor="middle" font-weight="bold" fill="#111" >10</text>
<path d="M51.8 456.8 V454.8" stroke="#666" stroke-width="0.9"/>
<text x="51.8" y="465.2" font-size="7.40" text-anchor="middle" font-weight="bold" fill="#111" >20</text>
<path d="M70.7 456.8 V454.8" stroke="#666" stroke-width="0.9"/>
<text x="70.7" y="465.2" font-size="7.40" text-anchor="middle" font-weight="bold" fill="#111" >30</text>
<path d="M89.6 456.8 V454.8" stroke="#666" stroke-width="0.9"/>
<text x="89.6" y="465.2" font-size="7.40" text-anchor="middle" font-weight="bold" fill="#111" >40</text>
<path d="M108.5 456.8 V454.8" stroke="#666" stroke-width="0.9"/>
<text x="108.5" y="465.2" font-size="7.40" text-anchor="middle" font-weight="bold" fill="#111" >50</text>
<path d="M127.4 456.8 V454.8" stroke="#666" stroke-width="0.9"/>
<text x="127.4" y="465.2" font-size="7.40" text-anchor="middle" font-weight="bold" fill="#111" >60</text>
<path d="M146.3 456.8 V454.8" stroke="#666" stroke-width="0.9"/>
<text x="146.3" y="465.2" font-size="7.40" text-anchor="middle" font-weight="bold" fill="#111" >70</text>
<path d="M165.2 456.8 V454.8" stroke="#666" stroke-width="0.9"/>
<text x="165.2" y="465.2" font-size="7.40" text-anchor="middle" font-weight="bold" fill="#111" >80</text>
<path d="M23.4 456.8 V455.6" stroke="#555" stroke-width="0.7"/>
<path d="M42.3 456.8 V455.6" stroke="#555" stroke-width="0.7"/>
<path d="M61.2 456.8 V455.6" stroke="#555" stroke-width="0.7"/>
<path d="M80.2 456.8 V455.6" stroke="#555" stroke-width="0.7"/>
<path d="M99.0 456.8 V455.6" stroke="#555" stroke-width="0.7"/>
<path d="M117.9 456.8 V455.6" stroke="#555" stroke-width="0.7"/>
<path d="M136.8 456.8 V455.6" stroke="#555" stroke-width="0.7"/>
<path d="M155.8 456.8 V455.6" stroke="#555" stroke-width="0.7"/>
<path d="M174.7 456.8 V455.6" stroke="#555" stroke-width="0.7"/>
<text x="102.3" y="476.6" font-size="9.00" text-anchor="middle" font-weight="bold" fill="#111" >2θ/Degree</text>
<text transform="translate(11.4 391.7) rotate(-90)" x="0" y="0" font-size="8.60" text-anchor="middle" font-weight="bold" fill="#111">Intensity/a.u.</text>
<path d="M118.8 327 H130.6" stroke="#c8c8c8" stroke-width="1.1"/>
<path d="M118.8 334.5 H130.6" stroke="#ffc0c0" stroke-width="1.1"/>
<text x="133.0" y="329.3" font-size="6.60" text-anchor="start" font-weight="bold" fill="#111" >UiO-66</text>
<text x="133.0" y="336.8" font-size="6.60" text-anchor="start" font-weight="bold" fill="#111" >UiO-66/PEG-FA</text>
<path d="M214.8 325.2 C215.2 325.8 216.2 327.0 217.0 328.5 C217.8 330.0 218.8 331.9 219.6 334.2 C220.4 336.4 221.2 339.3 222.0 342.0 C222.8 344.7 223.5 348.3 224.4 350.2 C225.3 352.1 226.5 352.8 227.6 353.6 C228.7 354.4 229.7 354.8 231.0 355.2 C232.3 355.6 233.8 355.4 235.6 356.2 C237.4 356.9 239.6 357.5 242.0 359.7 C244.4 361.9 247.3 365.8 250.0 369.3 C252.7 372.8 255.0 377.0 257.9 380.5 C260.8 384.0 264.3 387.8 267.5 390.1 C270.7 392.4 273.4 392.9 277.1 394.3 C280.8 395.7 285.6 396.7 289.9 398.7 C294.2 400.7 299.0 403.5 302.7 406.1 C306.4 408.7 309.6 411.2 312.3 414.1 C315.0 417.0 316.8 420.0 318.7 423.7 C320.6 427.4 321.9 432.7 323.5 436.4 C325.1 440.1 326.6 443.8 328.2 446.0 C329.8 448.2 331.4 448.9 333.0 449.8 C334.6 450.7 334.3 450.6 337.8 451.2 C341.3 451.8 348.5 452.6 353.8 453.4 C359.1 454.2 367.1 455.6 369.8 456.0" fill="none" stroke="#222" stroke-width="1.1"/>
<path d="M214.8 325.2 C215.3 326.1 216.7 328.3 218.0 330.5 C219.3 332.7 220.9 336.4 222.8 338.5 C224.7 340.6 226.5 341.8 229.2 343.1 C231.9 344.4 236.1 345.4 238.8 346.2 C241.5 347.0 243.1 347.0 245.2 347.9 C247.3 348.8 248.8 349.4 251.5 351.8 C254.2 354.2 257.4 359.4 261.1 362.6 C264.8 365.8 270.2 368.2 273.9 370.9 C277.6 373.6 280.3 375.4 283.5 378.6 C286.7 381.8 289.4 385.5 293.1 390.1 C296.8 394.7 302.7 402.1 305.9 406.1 C309.1 410.1 309.9 411.2 312.3 414.1 C314.7 417.0 317.7 421.1 320.3 423.7 C322.9 426.3 325.3 428.3 328.2 430.0 C331.1 431.7 333.5 432.7 337.8 433.9 C342.1 435.1 348.5 436.0 353.8 437.3 C359.1 438.6 367.1 440.8 369.8 441.5" fill="none" stroke="#ee2222" stroke-width="1.1"/>
<rect x="213.5" y="323.0" width="158.5" height="137.8" fill="none" stroke="#7a7a7a" stroke-width="1.3"/>
<path d="M213.5 458.8 H215.7" stroke="#666" stroke-width="0.9"/>
<text x="210.8" y="461.0" font-size="6.40" text-anchor="end" font-weight="bold" fill="#111" >40</text>
<path d="M213.5 436.4 H215.7" stroke="#666" stroke-width="0.9"/>
<text x="210.8" y="438.6" font-size="6.40" text-anchor="end" font-weight="bold" fill="#111" >50</text>
<path d="M213.5 413.9 H215.7" stroke="#666" stroke-width="0.9"/>
<text x="210.8" y="416.1" font-size="6.40" text-anchor="end" font-weight="bold" fill="#111" >60</text>
<path d="M213.5 391.5 H215.7" stroke="#666" stroke-width="0.9"/>
<text x="210.8" y="393.7" font-size="6.40" text-anchor="end" font-weight="bold" fill="#111" >70</text>
<path d="M213.5 369.0 H215.7" stroke="#666" stroke-width="0.9"/>
<text x="210.8" y="371.2" font-size="6.40" text-anchor="end" font-weight="bold" fill="#111" >80</text>
<path d="M213.5 346.6 H215.7" stroke="#666" stroke-width="0.9"/>
<text x="210.8" y="348.8" font-size="6.40" text-anchor="end" font-weight="bold" fill="#111" >90</text>
<path d="M213.5 324.1 H215.7" stroke="#666" stroke-width="0.9"/>
<text x="210.8" y="326.3" font-size="6.40" text-anchor="end" font-weight="bold" fill="#111" >100</text>
<path d="M250.8 460.8 V458.6" stroke="#666" stroke-width="0.9"/>
<text x="250.8" y="468.8" font-size="6.40" text-anchor="middle" font-weight="bold" fill="#111" >200</text>
<path d="M290.6 460.8 V458.6" stroke="#666" stroke-width="0.9"/>
<text x="290.6" y="468.8" font-size="6.40" text-anchor="middle" font-weight="bold" fill="#111" >400</text>
<path d="M330.4 460.8 V458.6" stroke="#666" stroke-width="0.9"/>
<text x="330.4" y="468.8" font-size="6.40" text-anchor="middle" font-weight="bold" fill="#111" >600</text>
<path d="M370.2 460.8 V458.6" stroke="#666" stroke-width="0.9"/>
<text x="370.2" y="468.8" font-size="6.40" text-anchor="middle" font-weight="bold" fill="#111" >800</text>
<text x="293.2" y="478.9" font-size="9.05" text-anchor="middle" font-weight="bold" fill="#111" >Temperature (<tspan font-size="5" dy="-2.6">o</tspan><tspan dy="2.6">C)</tspan></text>
<text transform="translate(197.8 394.2) rotate(-90)" x="0" y="0" font-size="8.60" text-anchor="middle" font-weight="bold" fill="#111">Weight (%)</text>
<path d="M312.9 327.8 H323.5" stroke="#222" stroke-width="1.1"/>
<path d="M312.9 334.8 H323.5" stroke="#ee2222" stroke-width="1.1"/>
<text x="325.7" y="330.0" font-size="6.20" text-anchor="start" font-weight="bold" fill="#111" >UiO-66</text>
<text x="325.7" y="337.0" font-size="6.20" text-anchor="start" font-weight="bold" fill="#111" >UiO-66/PEG-FA</text>
<path d="M407.6 328.8 L408.2 328.8 L408.9 328.6 L409.5 328.7 L410.2 329.0 L410.8 328.7 L411.4 329.1 L412.1 328.9 L412.7 329.3 L413.4 328.9 L414.0 329.3 L414.6 329.2 L415.2 329.3 L415.8 329.3 L416.4 329.8 L417.1 329.8 L417.7 329.7 L418.3 330.0 L418.9 330.3 L419.5 330.1 L420.2 331.0 L420.9 331.6 L421.6 332.4 L422.3 333.3 L423.0 334.1 L423.6 334.9 L424.2 335.8 L424.8 336.8 L425.4 338.0 L426.0 339.0 L426.6 340.0 L427.2 341.1 L427.8 342.3 L428.4 343.5 L429.0 344.6 L429.7 344.9 L430.4 345.1 L431.1 345.3 L431.8 346.0 L432.5 346.2 L433.1 346.2 L433.8 345.8 L434.4 346.0 L435.0 345.7 L435.6 345.8 L436.2 345.7 L436.9 345.5 L437.5 345.2 L438.1 345.5 L438.8 345.2 L439.4 345.2 L440.0 344.9 L440.6 344.7 L441.2 344.8 L441.8 344.5 L442.5 344.3 L443.1 344.2 L443.7 344.1 L444.3 343.7 L444.9 343.8 L445.5 343.6 L446.2 343.5 L446.8 343.2 L447.4 343.2 L448.0 343.1 L448.6 343.1 L449.2 342.8 L449.8 342.9 L450.4 342.7 L451.0 342.7 L451.6 342.4 L452.2 342.6 L452.9 342.6 L453.5 342.4 L454.1 342.3 L454.7 342.2 L455.3 342.2 L455.9 341.9 L456.5 342.2 L457.1 341.5 L457.7 341.1 L458.3 340.7 L458.9 340.3 L459.6 340.2 L460.2 339.5 L460.8 339.1 L461.4 339.0 L462.0 338.4 L462.6 338.0 L463.2 337.9 L463.8 337.6 L464.4 337.3 L465.0 337.1 L465.6 336.5 L466.2 336.5 L466.8 336.2 L467.4 335.6 L468.0 335.3 L468.6 335.4 L469.3 335.2 L469.9 335.0 L470.5 334.8 L471.2 334.8 L471.8 334.5 L472.5 334.6 L473.1 334.6 L473.7 334.1 L474.4 334.2 L475.0 334.1 L475.6 333.9 L476.2 334.2 L476.8 334.3 L477.4 334.2 L478.1 334.2 L478.7 334.5 L479.3 334.4 L479.9 334.4 L480.5 334.7 L481.2 337.0 L482.0 339.2 L482.8 337.0 L483.5 334.9 L484.1 334.3 L484.8 333.8 L485.4 333.1 L486.0 332.5 L486.6 332.4 L487.2 332.4 L487.8 332.1 L488.4 332.2 L489.0 332.4 L489.7 332.3 L490.3 332.0 L490.9 332.1 L491.5 332.2 L492.1 332.0 L492.7 332.1 L493.3 331.9 L493.9 332.0 L494.5 332.0 L495.1 331.8 L495.7 331.8 L496.3 332.1 L497.0 332.0 L497.6 332.1 L498.2 331.9 L498.8 332.0 L499.4 332.0 L500.0 332.0 L500.6 331.7 L501.3 332.0 L501.9 331.9 L502.5 332.1 L503.2 332.0 L503.8 332.2 L504.5 332.4 L505.1 332.4 L505.7 332.3 L506.4 332.4 L507.0 332.5 L507.6 333.8 L508.2 334.6 L508.8 335.7 L509.4 337.0 L510.0 337.7 L510.7 340.2 L511.3 342.6 L512.0 344.5 L512.6 344.9 L513.2 345.6 L513.9 346.2 L514.5 346.5 L515.1 346.3 L515.8 346.1 L516.4 346.0 L517.0 345.9 L517.7 345.2 L518.3 344.5 L519.0 343.7 L519.7 343.7 L520.3 343.6 L521.0 343.2 L521.6 342.8 L522.3 342.6 L522.9 343.8 L523.5 345.6 L524.2 345.7 L524.9 345.9 L525.6 346.2 L526.3 346.3 L527.0 346.4 L527.6 345.7 L528.2 345.1 L528.9 344.6 L529.5 343.9 L530.4 342.8 L531.2 341.2 L531.9 341.9 L532.5 342.7 L533.2 340.7 L533.8 339.6 L534.5 338.0 L535.1 337.4 L535.7 338.8 L536.3 337.2 L536.9 338.1 L537.6 336.7 L538.2 336.4 L538.8 338.0 L539.4 337.0 L540.0 336.1 L540.6 336.8 L541.2 336.8 L541.8 337.4 L542.4 336.1 L543.0 336.3 L543.6 337.8 L544.2 337.3 L544.8 336.1 L545.4 336.5 L546.0 336.5 L546.6 337.3 L547.2 337.3 L547.9 337.9 L548.5 337.9 L549.1 337.6 L549.8 338.1 L550.4 338.2 L551.0 338.4 L551.7 339.0 L552.3 340.3 L553.0 341.2 L553.7 343.7 L554.4 345.3 L555.2 344.1 L556.0 341.5 L556.7 341.9 L557.3 341.4 L558.0 341.0 L558.7 342.6 L559.3 343.4 L560.0 344.4 L560.7 343.6 L561.3 342.5 L562.0 341.1 L562.7 341.1 L563.3 341.4 L564.0 341.7 L564.7 342.3 L565.3 341.9 L566.0 342.3 L566.6 342.8 L567.2 342.7 L567.8 342.8 L568.4 343.7 L569.0 344.0 L569.8 343.0 L570.5 342.4 L571.3 342.0" fill="none" stroke="#222" stroke-width="0.8" stroke-linejoin="round"/>
<path d="M407.6 355.4 L408.2 355.4 L408.8 355.3 L409.5 355.5 L410.1 355.4 L410.7 355.2 L411.3 355.6 L411.9 355.2 L412.5 355.5 L413.1 355.5 L413.8 355.5 L414.4 355.1 L415.0 355.2 L415.6 355.5 L416.3 355.0 L416.9 355.0 L417.6 355.4 L418.2 355.3 L418.8 355.6 L419.5 355.6 L420.1 355.5 L420.8 355.8 L421.4 355.5 L422.0 356.4 L422.7 357.4 L423.4 358.0 L424.0 358.9 L424.7 360.3 L425.3 361.2 L426.0 363.0 L426.7 363.2 L427.3 363.5 L428.0 363.5 L428.6 363.9 L429.2 364.0 L429.8 364.2 L430.4 364.3 L431.0 364.7 L431.6 364.9 L432.2 364.3 L432.8 364.3 L433.4 364.6 L434.0 365.1 L434.6 364.4 L435.2 364.6 L435.8 365.0 L436.4 364.3 L437.0 364.5 L437.6 365.4 L438.2 365.2 L438.8 364.9 L439.4 364.5 L440.0 365.5 L440.6 365.2 L441.2 365.3 L441.8 365.5 L442.4 365.4 L443.0 364.8 L443.6 364.5 L444.2 364.6 L444.8 364.9 L445.4 364.8 L446.0 364.5 L446.6 364.4 L447.2 364.9 L447.8 364.9 L448.4 364.6 L449.0 365.2 L449.6 364.8 L450.2 364.2 L450.8 364.5 L451.4 364.9 L452.0 364.4 L452.6 364.8 L453.2 364.1 L453.8 364.3 L454.4 364.9 L455.0 364.6 L455.6 364.7 L456.2 364.2 L456.8 364.5 L457.4 364.6 L458.0 364.3 L458.6 364.7 L459.2 364.6 L459.8 365.0 L460.4 364.6 L461.0 364.5 L461.6 364.2 L462.2 364.3 L462.8 364.8 L463.4 364.3 L464.0 364.3 L464.6 364.3 L465.2 364.7 L465.8 364.9 L466.4 364.7 L467.0 364.9 L467.6 364.3 L468.2 364.3 L468.8 364.9 L469.4 364.5 L470.0 364.9 L470.6 364.6 L471.2 364.5 L471.8 364.6 L472.4 364.5 L473.1 365.1 L473.7 364.9 L474.3 364.8 L474.9 364.9 L475.5 364.9 L476.1 364.7 L476.7 365.3 L477.3 365.1 L477.9 365.4 L478.6 365.0 L479.2 365.2 L479.8 365.0 L480.4 364.9 L481.0 365.5 L481.6 366.0 L482.2 366.4 L482.8 365.9 L483.4 365.0 L484.0 363.9 L484.6 363.8 L485.2 363.8 L485.8 363.2 L486.4 363.3 L487.0 362.6 L487.6 362.4 L488.2 362.4 L488.8 361.8 L489.4 361.6 L490.0 361.7 L490.6 361.3 L491.3 361.3 L491.9 360.9 L492.5 360.6 L493.2 360.6 L493.8 360.3 L494.5 360.6 L495.1 360.1 L495.7 360.1 L496.4 359.6 L497.0 359.7 L497.6 359.7 L498.3 359.8 L498.9 359.7 L499.5 359.8 L500.2 360.3 L500.8 360.0 L501.5 360.1 L502.1 360.1 L502.7 360.2 L503.4 360.3 L504.0 360.2 L504.6 361.1 L505.2 361.4 L505.8 361.8 L506.4 362.6 L507.0 362.8 L507.7 364.5 L508.3 366.7 L509.0 367.6 L509.6 368.4 L510.2 369.4 L510.8 369.9 L511.4 369.5 L512.0 370.2 L512.7 370.5 L513.3 369.4 L514.0 370.3 L514.7 368.1 L515.3 369.7 L516.0 368.0 L516.6 367.1 L517.2 367.7 L517.8 366.5 L518.4 368.3 L519.0 366.7 L519.6 368.7 L520.2 367.6 L520.8 366.8 L521.4 366.3 L522.0 367.4 L522.6 365.9 L523.2 368.0 L523.8 365.4 L524.4 366.6 L525.0 366.6 L525.6 365.7 L526.2 367.3 L526.9 365.9 L527.5 366.8 L528.1 366.4 L528.8 365.5 L529.4 365.7 L530.0 364.6 L530.6 364.8 L531.2 367.1 L531.9 365.2 L532.5 366.3 L533.1 364.4 L533.8 365.8 L534.4 365.1 L535.0 365.5 L535.6 364.8 L536.2 363.9 L536.8 364.7 L537.4 364.4 L538.0 364.0 L538.6 366.0 L539.2 364.5 L539.8 364.9 L540.4 366.5 L541.0 366.0 L541.6 366.4 L542.2 366.2 L542.8 363.7 L543.4 364.2 L544.0 363.3 L544.6 365.5 L545.2 365.4 L545.8 364.3 L546.4 364.4 L547.0 365.2 L547.6 365.3 L548.2 363.8 L548.8 365.8 L549.4 364.0 L550.0 364.9 L550.6 363.4 L551.2 363.2 L551.9 365.9 L552.5 365.3 L553.1 365.3 L553.8 363.1 L554.4 363.1 L555.0 363.5 L555.6 363.6 L556.2 364.0 L556.9 364.3 L557.5 363.2 L558.1 364.1 L558.8 365.1 L559.4 363.7 L560.0 365.7 L560.6 364.9 L561.3 365.3 L561.9 363.9 L562.5 364.4 L563.1 365.2 L563.8 364.2 L564.4 363.1 L565.0 365.5 L565.6 365.3 L566.3 363.9 L566.9 363.2 L567.5 365.5 L568.2 364.8 L568.8 363.2 L569.4 363.7 L570.0 363.4 L570.7 365.2 L571.3 364.4" fill="none" stroke="#ee2222" stroke-width="0.8" stroke-linejoin="round"/>
<path d="M407.6 385.5 L408.2 385.9 L408.8 385.8 L409.5 385.4 L410.1 385.8 L410.7 385.6 L411.3 385.8 L411.9 385.9 L412.6 385.5 L413.2 385.4 L413.8 385.9 L414.4 385.6 L415.0 385.9 L415.7 385.7 L416.3 385.8 L416.9 385.8 L417.5 385.7 L418.1 385.6 L418.8 385.3 L419.4 385.7 L420.0 385.6 L420.6 385.6 L421.2 385.8 L421.9 385.3 L422.5 385.7 L423.1 385.2 L423.8 385.6 L424.4 385.6 L425.0 385.3 L425.6 385.4 L426.2 385.6 L426.9 385.4 L427.5 385.3 L428.1 385.1 L428.8 385.0 L429.4 385.1 L430.0 385.1 L430.6 385.0 L431.2 385.1 L431.8 385.0 L432.4 385.4 L433.0 385.4 L433.6 385.2 L434.2 385.2 L434.8 385.4 L435.4 385.4 L436.0 385.7 L436.6 385.4 L437.2 385.3 L437.8 385.8 L438.4 385.3 L439.0 385.6 L439.6 385.5 L440.2 385.8 L440.8 385.7 L441.4 385.9 L442.0 385.4 L442.6 385.8 L443.2 385.8 L443.8 385.7 L444.4 386.0 L445.0 386.1 L445.6 385.7 L446.3 386.1 L446.9 386.3 L447.5 386.4 L448.2 386.5 L448.8 386.9 L449.5 387.1 L450.1 387.7 L450.7 387.7 L451.4 387.7 L452.0 388.1 L452.7 388.4 L453.3 388.5 L454.0 388.5 L454.7 388.7 L455.3 388.8 L456.0 389.8 L456.6 389.3 L457.2 388.5 L457.8 388.7 L458.4 388.6 L459.0 388.0 L459.6 387.3 L460.2 387.4 L460.8 387.0 L461.4 386.5 L462.0 386.5 L462.6 386.0 L463.2 386.6 L463.8 386.2 L464.5 386.1 L465.1 386.2 L465.7 385.8 L466.3 385.4 L466.9 385.3 L467.5 385.0 L468.2 384.8 L468.8 385.3 L469.4 385.2 L470.0 384.6 L470.6 384.6 L471.2 385.0 L471.8 385.2 L472.4 385.3 L473.1 384.7 L473.7 385.2 L474.3 385.3 L474.9 385.3 L475.5 385.0 L476.1 385.0 L476.7 385.4 L477.3 385.1 L477.9 385.2 L478.6 385.4 L479.2 385.3 L479.8 385.6 L480.4 385.3 L481.0 385.2 L481.6 387.0 L482.2 388.6 L482.8 387.6 L483.4 386.6 L484.0 385.7 L484.6 385.7 L485.2 385.4 L485.8 385.4 L486.5 385.2 L487.1 385.2 L487.7 385.4 L488.3 385.0 L488.9 385.4 L489.5 385.0 L490.2 385.2 L490.8 385.5 L491.4 384.9 L492.0 384.8 L492.6 385.1 L493.2 384.9 L493.8 385.2 L494.5 384.7 L495.1 385.3 L495.7 385.3 L496.3 385.2 L496.9 384.9 L497.5 384.7 L498.2 385.0 L498.8 384.9 L499.4 384.8 L500.0 384.7 L500.6 384.8 L501.2 385.0 L501.8 385.2 L502.5 385.2 L503.1 384.7 L503.7 384.8 L504.3 385.0 L504.9 385.1 L505.5 385.0 L506.2 384.9 L506.8 384.8 L507.4 385.0 L508.0 385.2 L508.7 386.3 L509.3 386.7 L510.0 387.1 L510.7 387.8 L511.3 388.3 L512.0 387.8 L512.6 388.4 L513.2 386.3 L513.8 388.1 L514.5 388.0 L515.1 387.1 L515.7 387.9 L516.3 389.2 L516.9 387.7 L517.5 388.3 L518.2 387.2 L518.8 387.4 L519.4 389.3 L520.0 386.4 L520.6 387.0 L521.2 388.7 L521.9 387.9 L522.5 386.7 L523.1 388.7 L523.8 387.8 L524.4 388.5 L525.0 388.0 L525.6 388.4 L526.2 388.5 L526.9 388.0 L527.5 387.1 L528.1 387.3 L528.8 389.8 L529.4 388.6 L530.0 387.2 L530.6 389.8 L531.2 387.7 L531.9 387.2 L532.5 388.7 L533.1 387.8 L533.8 388.7 L534.4 388.9 L535.0 387.8 L535.6 389.0 L536.2 387.5 L536.9 388.9 L537.5 389.2 L538.1 387.5 L538.8 388.6 L539.4 387.5 L540.0 388.8 L540.6 390.3 L541.2 389.4 L541.8 390.0 L542.4 390.2 L543.0 388.3 L543.6 391.1 L544.2 390.3 L544.8 388.7 L545.4 390.8 L546.0 389.7 L546.6 389.8 L547.3 392.4 L547.9 392.1 L548.5 393.2 L549.2 392.8 L549.8 394.4 L550.5 392.0 L551.3 390.9 L552.0 389.7 L552.7 388.3 L553.3 388.9 L554.0 387.4 L554.7 386.9 L555.3 387.1 L556.0 385.8 L556.7 386.5 L557.3 385.7 L558.0 386.0 L558.7 385.1 L559.3 385.6 L560.0 385.3 L560.6 383.8 L561.3 385.0 L561.9 384.2 L562.5 385.0 L563.1 384.8 L563.8 385.1 L564.4 383.7 L565.0 384.2 L565.6 384.8 L566.3 385.2 L566.9 384.8 L567.5 383.5 L568.2 384.5 L568.8 383.6 L569.4 384.4 L570.0 384.8 L570.7 383.6 L571.3 384.3" fill="none" stroke="#2222ee" stroke-width="0.8" stroke-linejoin="round"/>
<path d="M407.6 406.9 L408.2 406.7 L408.8 406.4 L409.5 406.4 L410.1 406.5 L410.7 406.7 L411.3 406.5 L411.9 406.2 L412.6 406.2 L413.2 406.2 L413.8 406.6 L414.4 406.2 L415.0 406.4 L415.7 406.2 L416.3 406.4 L416.9 406.2 L417.5 406.1 L418.1 406.5 L418.8 406.3 L419.4 406.3 L420.0 406.4 L420.6 406.4 L421.3 405.9 L421.9 406.0 L422.6 405.9 L423.2 406.1 L423.9 406.3 L424.5 406.2 L425.1 405.9 L425.7 406.2 L426.3 406.9 L426.9 407.0 L427.6 407.0 L428.2 407.3 L428.8 407.3 L429.4 408.0 L430.0 407.9 L430.6 408.6 L431.2 408.6 L431.8 408.4 L432.4 408.9 L433.0 409.1 L433.6 409.9 L434.3 409.9 L434.9 409.7 L435.5 410.1 L436.1 410.5 L436.7 410.9 L437.3 411.2 L437.9 411.3 L438.5 411.1 L439.2 410.7 L439.8 411.0 L440.5 410.7 L441.1 410.3 L441.8 410.5 L442.4 410.8 L443.1 409.9 L443.7 409.8 L444.4 410.1 L445.0 409.6 L445.6 409.6 L446.2 409.7 L446.9 409.4 L447.5 409.6 L448.1 409.5 L448.8 409.8 L449.4 409.8 L450.0 408.9 L450.6 409.3 L451.2 409.4 L451.9 409.4 L452.5 409.3 L453.1 409.1 L453.8 409.0 L454.4 408.8 L455.0 408.6 L455.6 408.9 L456.2 408.8 L456.8 408.8 L457.4 408.4 L458.0 408.0 L458.6 408.2 L459.2 408.1 L459.8 407.8 L460.4 407.8 L461.0 407.4 L461.6 407.4 L462.2 407.2 L462.8 406.8 L463.4 406.9 L464.0 406.7 L464.6 407.1 L465.2 406.6 L465.8 406.4 L466.4 406.2 L467.0 406.0 L467.6 406.0 L468.2 405.7 L468.8 405.5 L469.4 406.0 L470.0 405.6 L470.6 405.5 L471.2 405.6 L471.8 405.4 L472.4 405.3 L473.1 405.2 L473.7 405.3 L474.3 405.3 L474.9 405.6 L475.5 405.4 L476.1 405.7 L476.7 405.2 L477.3 405.6 L477.9 405.4 L478.6 405.0 L479.2 405.1 L479.8 405.3 L480.4 405.5 L481.0 405.1 L481.6 406.1 L482.2 406.8 L482.8 406.4 L483.4 405.4 L484.0 405.0 L484.6 405.2 L485.2 404.8 L485.8 404.7 L486.5 404.6 L487.1 404.6 L487.7 404.6 L488.3 404.9 L488.9 404.5 L489.5 404.6 L490.2 404.4 L490.8 404.6 L491.4 404.8 L492.0 404.6 L492.6 404.3 L493.2 404.6 L493.8 404.7 L494.5 404.4 L495.1 404.1 L495.7 404.5 L496.3 404.5 L496.9 404.1 L497.5 403.9 L498.2 403.9 L498.8 404.1 L499.4 404.3 L500.0 404.1 L500.6 404.2 L501.2 403.7 L501.9 403.8 L502.5 404.0 L503.1 403.9 L503.8 403.7 L504.4 403.8 L505.0 403.6 L505.6 403.3 L506.2 403.5 L506.9 403.2 L507.5 403.6 L508.1 403.3 L508.8 403.4 L509.4 403.4 L510.0 403.1 L510.6 403.6 L511.2 403.5 L511.8 404.8 L512.4 404.7 L513.0 405.5 L513.8 406.9 L514.6 410.2 L515.4 413.0 L516.0 410.9 L516.7 409.0 L517.4 407.9 L518.0 406.5 L518.6 410.3 L519.2 408.6 L519.8 413.1 L520.4 412.4 L521.0 414.2 L521.7 414.0 L522.3 413.3 L523.0 413.3 L523.7 412.5 L524.3 410.6 L525.0 412.2 L525.6 410.8 L526.2 414.1 L526.8 415.3 L527.4 416.4 L528.0 415.0 L528.7 416.9 L529.3 417.4 L530.0 414.3 L530.7 412.9 L531.3 413.6 L532.0 415.2 L532.7 411.8 L533.3 411.9 L534.0 414.9 L534.7 416.4 L535.3 417.6 L536.0 416.4 L536.7 418.6 L537.3 414.8 L538.0 416.6 L538.7 413.3 L539.3 412.5 L540.0 412.5 L540.6 411.7 L541.2 413.0 L541.9 412.7 L542.5 410.8 L543.1 413.1 L543.8 410.5 L544.4 409.3 L545.0 408.9 L545.6 410.2 L546.2 410.2 L546.9 407.3 L547.5 406.5 L548.1 407.9 L548.8 406.0 L549.4 407.1 L550.0 405.5 L550.6 405.7 L551.2 405.1 L551.9 406.0 L552.5 405.3 L553.1 405.0 L553.8 406.1 L554.4 404.5 L555.0 405.7 L555.6 404.4 L556.2 405.5 L556.9 405.0 L557.5 405.8 L558.1 404.3 L558.8 405.2 L559.4 404.9 L560.0 405.7 L560.6 405.7 L561.3 405.2 L561.9 404.5 L562.5 404.5 L563.1 404.5 L563.8 404.8 L564.4 404.4 L565.0 404.3 L565.6 405.2 L566.3 405.0 L566.9 404.4 L567.5 405.6 L568.2 404.2 L568.8 404.8 L569.4 404.1 L570.0 405.3 L570.7 405.2 L571.3 404.6" fill="none" stroke="#ee22ee" stroke-width="0.8" stroke-linejoin="round"/>
<path d="M407.6 423.5 L408.2 423.8 L408.8 423.9 L409.5 423.6 L410.1 423.7 L410.7 423.8 L411.3 424.1 L411.9 423.7 L412.5 424.0 L413.1 424.0 L413.8 424.0 L414.4 424.1 L415.0 424.3 L415.6 423.9 L416.2 424.4 L416.8 424.1 L417.4 424.3 L418.0 424.4 L418.6 424.0 L419.2 424.5 L419.8 424.6 L420.4 424.2 L421.0 424.0 L421.6 424.9 L422.2 426.3 L422.9 426.5 L423.5 427.9 L424.1 428.2 L424.8 429.5 L425.4 429.9 L426.0 430.7 L426.6 432.3 L427.2 432.9 L427.9 434.2 L428.5 435.8 L429.1 436.8 L429.8 438.1 L430.4 439.3 L431.0 439.6 L431.7 440.3 L432.3 441.3 L433.0 441.7 L433.6 441.8 L434.3 442.7 L434.9 443.0 L435.6 443.7 L436.2 444.0 L436.9 444.5 L437.5 444.7 L438.2 444.0 L438.8 444.0 L439.5 443.2 L440.1 443.1 L440.8 442.5 L441.4 442.3 L442.1 441.8 L442.7 441.8 L443.4 441.1 L444.0 441.1 L444.6 440.7 L445.3 440.2 L445.9 440.0 L446.5 439.8 L447.1 439.8 L447.8 439.1 L448.4 438.7 L449.0 438.9 L449.6 438.5 L450.3 438.1 L450.9 437.6 L451.5 437.2 L452.1 437.0 L452.8 436.5 L453.4 436.2 L454.0 436.2 L454.6 435.9 L455.2 435.7 L455.8 435.4 L456.5 434.9 L457.1 435.0 L457.7 434.7 L458.3 434.4 L458.9 434.2 L459.5 434.0 L460.1 433.9 L460.7 433.6 L461.3 433.2 L461.9 432.8 L462.6 432.4 L463.2 432.2 L463.8 432.3 L464.4 431.7 L465.0 431.4 L465.6 431.3 L466.2 431.0 L466.9 431.4 L467.5 430.7 L468.1 430.9 L468.8 431.0 L469.4 430.5 L470.0 430.6 L470.6 430.3 L471.2 430.1 L471.9 429.9 L472.5 429.8 L473.1 430.1 L473.8 429.9 L474.4 429.9 L475.0 429.2 L475.6 429.7 L476.2 429.5 L476.8 429.7 L477.4 429.7 L478.0 429.7 L478.6 430.0 L479.2 429.6 L479.8 430.0 L480.4 430.1 L481.0 430.0 L481.6 433.0 L482.2 436.2 L482.8 433.7 L483.4 431.7 L484.0 429.6 L484.6 429.2 L485.2 429.1 L485.8 428.8 L486.4 428.6 L487.1 428.4 L487.7 428.2 L488.3 427.9 L488.9 427.8 L489.5 427.5 L490.1 427.1 L490.7 427.1 L491.3 426.7 L491.9 426.8 L492.6 426.4 L493.2 426.3 L493.8 426.0 L494.4 425.7 L495.0 425.3 L495.6 425.2 L496.2 425.7 L496.8 425.4 L497.5 425.4 L498.1 425.3 L498.7 425.5 L499.3 425.1 L499.9 425.0 L500.5 425.3 L501.2 425.1 L501.8 425.2 L502.4 425.2 L503.0 425.2 L503.7 425.7 L504.3 425.7 L505.0 426.4 L505.7 427.2 L506.3 427.7 L507.0 427.8 L507.6 429.8 L508.3 431.7 L508.9 433.6 L509.6 435.9 L510.2 438.3 L510.8 439.2 L511.5 440.2 L512.1 441.0 L512.7 442.4 L513.4 444.2 L514.0 445.0 L514.7 444.2 L515.3 443.7 L516.0 443.6 L516.7 443.0 L517.3 441.4 L518.0 441.9 L518.7 441.5 L519.3 442.2 L520.0 441.9 L520.7 442.5 L521.3 442.7 L522.0 443.2 L522.7 441.6 L523.3 441.5 L524.0 441.9 L524.7 440.0 L525.3 439.7 L526.0 440.6 L526.7 440.1 L527.3 440.9 L528.0 441.3 L528.7 443.6 L529.3 442.2 L530.0 444.4 L530.6 443.5 L531.2 440.5 L531.8 439.6 L532.4 439.0 L533.0 437.2 L533.7 435.1 L534.3 432.8 L535.0 431.9 L535.6 432.7 L536.2 434.5 L536.8 434.5 L537.4 435.7 L538.0 437.5 L538.7 438.6 L539.3 437.9 L540.0 438.6 L540.7 439.9 L541.3 441.6 L542.0 440.1 L542.7 441.6 L543.3 440.0 L544.0 438.1 L544.7 438.2 L545.3 436.3 L546.0 434.7 L546.7 437.5 L547.3 437.0 L548.0 438.1 L548.7 438.7 L549.3 440.6 L550.0 440.8 L550.7 438.0 L551.3 439.1 L552.0 438.1 L552.7 437.6 L553.3 438.0 L554.0 436.3 L554.7 437.2 L555.3 439.1 L556.0 438.6 L556.7 439.5 L557.3 440.3 L558.0 441.9 L558.6 441.1 L559.2 441.0 L559.8 439.7 L560.4 438.4 L561.0 439.7 L561.6 439.0 L562.2 439.3 L562.8 438.9 L563.4 436.8 L564.0 436.7 L564.6 436.6 L565.2 438.7 L565.8 437.1 L566.4 437.3 L567.0 439.0 L567.6 438.7 L568.3 437.8 L568.9 439.3 L569.5 439.6 L570.1 439.3 L570.7 438.7 L571.3 439.7" fill="none" stroke="#22228a" stroke-width="0.8" stroke-linejoin="round"/>
<path d="M519.6 451 V336.9 H530.3 V451" fill="none" stroke="#333" stroke-width="0.7" stroke-dasharray="0.9 0.9"/>
<path d="M554.5 352 V446 M559.6 352 V446" stroke="#bbb" stroke-width="0.6"/>
<rect x="407.2" y="322.6" width="164.2" height="136.6" fill="none" stroke="#666" stroke-width="1.1"/>
<path d="M566.9 459.2 V457.2" stroke="#555" stroke-width="0.8"/>
<text x="566.9" y="466.4" font-size="6.00" text-anchor="middle" font-weight="bold" fill="#111" >500</text>
<path d="M544.1 459.2 V457.2" stroke="#555" stroke-width="0.8"/>
<text x="544.1" y="466.4" font-size="6.00" text-anchor="middle" font-weight="bold" fill="#111" >1000</text>
<path d="M521.2 459.2 V457.2" stroke="#555" stroke-width="0.8"/>
<text x="521.2" y="466.4" font-size="6.00" text-anchor="middle" font-weight="bold" fill="#111" >1500</text>
<path d="M498.4 459.2 V457.2" stroke="#555" stroke-width="0.8"/>
<text x="498.4" y="466.4" font-size="6.00" text-anchor="middle" font-weight="bold" fill="#111" >2000</text>
<path d="M475.6 459.2 V457.2" stroke="#555" stroke-width="0.8"/>
<text x="475.6" y="466.4" font-size="6.00" text-anchor="middle" font-weight="bold" fill="#111" >2500</text>
<path d="M452.8 459.2 V457.2" stroke="#555" stroke-width="0.8"/>
<text x="452.8" y="466.4" font-size="6.00" text-anchor="middle" font-weight="bold" fill="#111" >3000</text>
<path d="M430.0 459.2 V457.2" stroke="#555" stroke-width="0.8"/>
<text x="430.0" y="466.4" font-size="6.00" text-anchor="middle" font-weight="bold" fill="#111" >3500</text>
<path d="M407.2 459.2 V457.2" stroke="#555" stroke-width="0.8"/>
<text x="407.2" y="466.4" font-size="6.00" text-anchor="middle" font-weight="bold" fill="#111" >4000</text>
<text x="492.6" y="476.4" font-size="7.30" text-anchor="middle" font-weight="bold" fill="#111" >Wavenumber(cm<tspan font-size="5.5" dy="-2.8">-1</tspan><tspan dy="2.8">)</tspan></text>
<text transform="translate(399.2 392.8) rotate(-90)" x="0" y="0" font-size="8.30" text-anchor="middle" font-weight="bold" fill="#111">T(%)</text>
<text x="409.0" y="345.8" font-size="6.40" text-anchor="start" font-weight="bold" fill="#111" >UiO-66</text>
<text x="409.0" y="363.8" font-size="6.40" text-anchor="start" font-weight="bold" fill="#ee1111" >FA</text>
<text x="409.0" y="394.0" font-size="6.40" text-anchor="start" font-weight="bold" fill="#1111ee" >PEG</text>
<text x="409.0" y="414.6" font-size="6.40" text-anchor="start" font-weight="bold" fill="#ee11ee" >Ber</text>
<text x="409.0" y="438.7" font-size="6.10" text-anchor="start" font-weight="bold" fill="#22228a" >UiO-66@Ber/PEG/FA</text>
<text x="424.2" y="352.0" font-size="5.60" text-anchor="start" font-weight="normal" fill="#222" >3459 3343</text>
<text x="503.6" y="354.8" font-size="5.60" text-anchor="start" font-weight="normal" fill="#222" >1655</text>
<text x="549.6" y="353.7" font-size="5.60" text-anchor="start" font-weight="normal" fill="#222" >767 661</text>
<text x="544.1" y="420.0" font-size="5.60" text-anchor="start" font-weight="normal" fill="#222" >1035</text>
<text x="515.6" y="451.8" font-size="5.60" text-anchor="start" font-weight="normal" fill="#222" >1571</text>
<path d="M519.0 352.0 L515.5 348.0" stroke="#111" stroke-width="0.7"/>
<path d="M515.5 348.0 L517.5 348.8 L516.0 350.1 Z" fill="#111"/>
<path d="M533.0 352.0 L529.5 348.0" stroke="#111" stroke-width="0.7"/>
<path d="M529.5 348.0 L531.5 348.8 L530.0 350.1 Z" fill="#111"/>
<path d="M537.0 419.5 L540.5 416.0" stroke="#ee11ee" stroke-width="0.7"/>
<path d="M540.5 416.0 L539.8 418.1 L538.4 416.7 Z" fill="#ee11ee"/>
<path d="M507.5 452.5 L511.5 447.5" stroke="#22228a" stroke-width="0.7"/>
<path d="M511.5 447.5 L511.1 449.7 L509.5 448.4 Z" fill="#22228a"/>
<path d="M537.5 448.5 L541.5 444.5" stroke="#22228a" stroke-width="0.7"/>
<path d="M541.5 444.5 L540.8 446.6 L539.4 445.2 Z" fill="#22228a"/>
<path d="M433.0 444.0 L427.5 446.5" stroke="#22228a" stroke-width="0.7"/>
<path d="M427.5 446.5 L428.9 444.8 L429.7 446.6 Z" fill="#22228a"/>
<path d="M436.0 444.0 L441.5 447.5" stroke="#22228a" stroke-width="0.7"/>
<path d="M441.5 447.5 L439.3 447.3 L440.4 445.6 Z" fill="#22228a"/>
</svg>
</body></html>
